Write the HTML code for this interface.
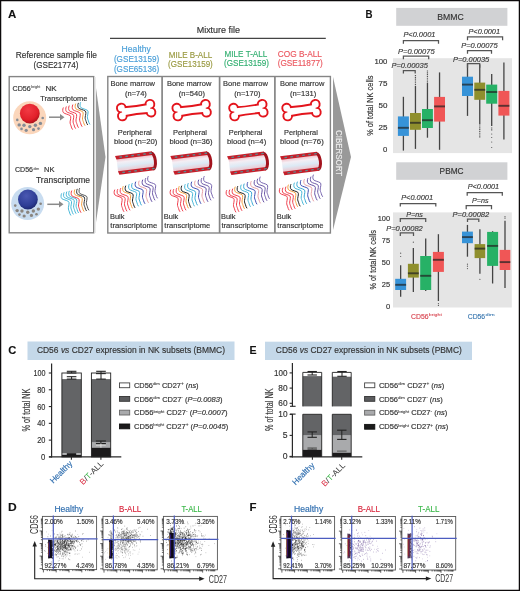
<!DOCTYPE html>
<html><head><meta charset="utf-8"><style>
html,body{margin:0;padding:0;background:#fff;}
svg{display:block;font-family:"Liberation Sans",sans-serif;will-change:transform;}

</style></head><body>
<svg width="520" height="591" viewBox="0 0 520 591">
<defs>
<linearGradient id="vin" x1="0" y1="0" x2="0" y2="1">
<stop offset="0" stop-color="#f2b8c0"/><stop offset="0.3" stop-color="#f4eef4"/><stop offset="0.6" stop-color="#dceaf5"/><stop offset="1" stop-color="#f0c0c8"/></linearGradient>
<radialGradient id="nucR" cx="0.42" cy="0.32" r="0.72"><stop offset="0" stop-color="#f23a44"/><stop offset="0.68" stop-color="#e2202a"/><stop offset="0.9" stop-color="#b8141e"/><stop offset="1" stop-color="#8a0c14"/></radialGradient>
<radialGradient id="nucB" cx="0.42" cy="0.32" r="0.72"><stop offset="0" stop-color="#4a58b2"/><stop offset="0.68" stop-color="#2e3e96"/><stop offset="0.9" stop-color="#222e7a"/><stop offset="1" stop-color="#18205a"/></radialGradient>
</defs>
<rect x="0" y="0" width="520" height="591" fill="#fff"/>
<text x="8.1" y="18.4" font-size="11.4" fill="#111" textLength="8.3" lengthAdjust="spacingAndGlyphs" font-weight="bold" stroke="#111" stroke-width="0.1">A</text>
<text x="196.7" y="33" font-size="8.7" fill="#333" textLength="43.3" lengthAdjust="spacingAndGlyphs" stroke="#333" stroke-width="0.16">Mixture file</text>
<line x1="110" y1="38.4" x2="325.8" y2="38.4" stroke="#444" stroke-width="1.3"/>
<text x="15.7" y="58" font-size="9.3" fill="#333" textLength="81.3" lengthAdjust="spacingAndGlyphs" stroke="#333" stroke-width="0.16">Reference sample file</text>
<text x="33.5" y="68.2" font-size="9.3" fill="#333" textLength="45" lengthAdjust="spacingAndGlyphs" stroke="#333" stroke-width="0.16">(GSE21774)</text>
<text x="121.6" y="51.5" font-size="8.6" fill="#4a9fd8" textLength="29.2" lengthAdjust="spacingAndGlyphs" stroke="#4a9fd8" stroke-width="0.16">Healthy</text>
<text x="113.9" y="61.5" font-size="8.6" fill="#4a9fd8" textLength="45.3" lengthAdjust="spacingAndGlyphs" stroke="#4a9fd8" stroke-width="0.16">(GSE13159)</text>
<text x="113.9" y="71.5" font-size="8.6" fill="#4a9fd8" textLength="45.3" lengthAdjust="spacingAndGlyphs" stroke="#4a9fd8" stroke-width="0.16">(GSE65136)</text>
<text x="168.7" y="58.2" font-size="8.6" fill="#9a9a42" textLength="43.5" lengthAdjust="spacingAndGlyphs" stroke="#9a9a42" stroke-width="0.16">MILE B-ALL</text>
<text x="168.1" y="67" font-size="8.6" fill="#9a9a42" textLength="44.7" lengthAdjust="spacingAndGlyphs" stroke="#9a9a42" stroke-width="0.16">(GSE13159)</text>
<text x="224.6" y="56.8" font-size="8.6" fill="#34b072" textLength="42.7" lengthAdjust="spacingAndGlyphs" stroke="#34b072" stroke-width="0.16">MILE T-ALL</text>
<text x="224" y="65.9" font-size="8.6" fill="#34b072" textLength="45" lengthAdjust="spacingAndGlyphs" stroke="#34b072" stroke-width="0.16">(GSE13159)</text>
<text x="277.7" y="56.9" font-size="8.6" fill="#ec5a62" textLength="44.3" lengthAdjust="spacingAndGlyphs" stroke="#ec5a62" stroke-width="0.16">COG B-ALL</text>
<text x="277.7" y="66.1" font-size="8.6" fill="#ec5a62" textLength="45.1" lengthAdjust="spacingAndGlyphs" stroke="#ec5a62" stroke-width="0.16">(GSE11877)</text>
<rect x="9.2" y="76.6" width="84.5" height="156.2" fill="#fff" stroke="#858585" stroke-width="1.4"/>
<polygon points="94.4,76.6 105.5,157 94.4,233.4" fill="#9b9b9b"/>
<rect x="94.4" y="77" width="1.6" height="156" fill="#ececec"/>
<rect x="107.8" y="76.5" width="222.6" height="156.5" fill="#fff" stroke="#858585" stroke-width="1.4"/>
<line x1="162.1" y1="76.5" x2="162.1" y2="233" stroke="#858585" stroke-width="1.7"/>
<line x1="219.6" y1="76.5" x2="219.6" y2="233" stroke="#858585" stroke-width="1.7"/>
<line x1="274.9" y1="76.5" x2="274.9" y2="233" stroke="#858585" stroke-width="1.7"/>
<polygon points="333,77 351,157 333,230" fill="#999"/>
<text transform="translate(336,130.1) rotate(90)" x="0" y="0" font-size="9.2" fill="#eee" textLength="46" lengthAdjust="spacingAndGlyphs" stroke="#eee" stroke-width="0.16">CIBERSORT</text>
<text x="110.4" y="85.8" font-size="7.9" fill="#333" textLength="44.6" lengthAdjust="spacingAndGlyphs" stroke="#333" stroke-width="0.16">Bone marrow</text>
<text x="125" y="95.6" font-size="7.9" fill="#333" textLength="21.8" lengthAdjust="spacingAndGlyphs" stroke="#333" stroke-width="0.16">(n=74)</text>
<g transform="translate(136.15,110.1) rotate(-7.6) scale(0.95)"><g fill="#e3141c" stroke="#e3141c" stroke-width="4.0" stroke-linejoin="round"><path d="M-15,-3.8 Q0,-2.7 15,-3.8 L15,3.8 Q0,2.7 -15,3.8 Z"/><circle cx="-15.2" cy="-4.2" r="3.6"/><circle cx="-15.2" cy="4.2" r="3.6"/><circle cx="15.2" cy="-4.2" r="3.6"/><circle cx="15.2" cy="4.2" r="3.6"/></g><g fill="#fff"><path d="M-15,-3.8 Q0,-2.7 15,-3.8 L15,3.8 Q0,2.7 -15,3.8 Z"/><circle cx="-15.2" cy="-4.2" r="3.6"/><circle cx="-15.2" cy="4.2" r="3.6"/><circle cx="15.2" cy="-4.2" r="3.6"/><circle cx="15.2" cy="4.2" r="3.6"/></g></g>
<text x="117.7" y="134.8" font-size="7.9" fill="#333" textLength="34" lengthAdjust="spacingAndGlyphs" stroke="#333" stroke-width="0.16">Peripheral</text>
<text x="113.9" y="144" font-size="7.9" fill="#333" textLength="43.4" lengthAdjust="spacingAndGlyphs" stroke="#333" stroke-width="0.16">blood (n=20)</text>
<g transform="translate(136.65,162.9) rotate(-7.2)"><rect x="-19.5" y="-7" width="36.5" height="14" fill="url(#vin)"/><path d="M-20.6,-9.6 L16.4,-9.6 L16.4,-6.0 L-19.6,-6.0 Z" fill="#c41f2a"/><path d="M-19.6,6.0 L16.4,6.0 L16.4,9.6 L-18.6,9.6 Z" fill="#c41f2a"/><path d="M15.6,-8.0 A3.2,8.0 0 0 1 15.6,8.0" fill="none" stroke="#a3131d" stroke-width="3.0"/><rect x="-16.5" y="-8.4" width="2.8" height="1.3" rx="0.6" fill="#5a8a90"/><rect x="-15.5" y="7.1" width="2.8" height="1.3" rx="0.6" fill="#5a8a90"/><rect x="-10.5" y="-8.4" width="2.8" height="1.3" rx="0.6" fill="#5a8a90"/><rect x="-9.5" y="7.1" width="2.8" height="1.3" rx="0.6" fill="#5a8a90"/><rect x="-4.5" y="-8.4" width="2.8" height="1.3" rx="0.6" fill="#5a8a90"/><rect x="-3.5" y="7.1" width="2.8" height="1.3" rx="0.6" fill="#5a8a90"/><rect x="1.5" y="-8.4" width="2.8" height="1.3" rx="0.6" fill="#5a8a90"/><rect x="2.5" y="7.1" width="2.8" height="1.3" rx="0.6" fill="#5a8a90"/><rect x="7.5" y="-8.4" width="2.8" height="1.3" rx="0.6" fill="#5a8a90"/><rect x="8.5" y="7.1" width="2.8" height="1.3" rx="0.6" fill="#5a8a90"/><rect x="13.5" y="-8.4" width="2.8" height="1.3" rx="0.6" fill="#5a8a90"/><rect x="14.5" y="7.1" width="2.8" height="1.3" rx="0.6" fill="#5a8a90"/></g>
<path d="M114.6,190 c -0.8,1.5 -0.6,4 0.3,4.9 c 1.4,1.2 4.7,1.6 6.7,2.9 c 1.2,1 0.2,4 -0.1,6.2 c -0.2,2 0.7,3.2 1,4.3 c 0.3,1.3 0.7,2.4 1.3,3.2" transform="" fill="none" stroke="#f0404e" stroke-width="1.0" stroke-linecap="round"/><path d="M117.6,189.5 c -0.8,1.5 -0.6,4 0.3,4.9 c 1.4,1.2 4.7,1.6 6.7,2.9 c 1.2,1 0.2,4 -0.1,6.2 c -0.2,2 0.7,3.2 1,4.3 c 0.3,1.3 0.7,2.4 1.3,3.2" transform="" fill="none" stroke="#f0404e" stroke-width="1.0" stroke-linecap="round"/><path d="M120.6,188.5 c -0.8,1.5 -0.6,4 0.3,4.9 c 1.4,1.2 4.7,1.6 6.7,2.9 c 1.2,1 0.2,4 -0.1,6.2 c -0.2,2 0.7,3.2 1,4.3 c 0.3,1.3 0.7,2.4 1.3,3.2" transform="" fill="none" stroke="#f0404e" stroke-width="1.0" stroke-linecap="round"/><path d="M123.1,186.5 c -0.8,1.5 -0.6,4 0.3,4.9 c 1.4,1.2 4.7,1.6 6.7,2.9 c 1.2,1 0.2,4 -0.1,6.2 c -0.2,2 0.7,3.2 1,4.3 c 0.3,1.3 0.7,2.4 1.3,3.2" transform="" fill="none" stroke="#f5a040" stroke-width="1.0" stroke-linecap="round"/><path d="M125.6,186 c -0.8,1.5 -0.6,4 0.3,4.9 c 1.4,1.2 4.7,1.6 6.7,2.9 c 1.2,1 0.2,4 -0.1,6.2 c -0.2,2 0.7,3.2 1,4.3 c 0.3,1.3 0.7,2.4 1.3,3.2" transform="" fill="none" stroke="#222" stroke-width="1.0" stroke-linecap="round"/><path d="M129.1,184.5 c -0.8,1.5 -0.6,4 0.3,4.9 c 1.4,1.2 4.7,1.6 6.7,2.9 c 1.2,1 0.2,4 -0.1,6.2 c -0.2,2 0.7,3.2 1,4.3 c 0.3,1.3 0.7,2.4 1.3,3.2" transform="" fill="none" stroke="#48b8d8" stroke-width="1.0" stroke-linecap="round"/><path d="M132.1,183.5 c -0.8,1.5 -0.6,4 0.3,4.9 c 1.4,1.2 4.7,1.6 6.7,2.9 c 1.2,1 0.2,4 -0.1,6.2 c -0.2,2 0.7,3.2 1,4.3 c 0.3,1.3 0.7,2.4 1.3,3.2" transform="" fill="none" stroke="#38a8d4" stroke-width="1.0" stroke-linecap="round"/><path d="M135.6,182 c -0.8,1.5 -0.6,4 0.3,4.9 c 1.4,1.2 4.7,1.6 6.7,2.9 c 1.2,1 0.2,4 -0.1,6.2 c -0.2,2 0.7,3.2 1,4.3 c 0.3,1.3 0.7,2.4 1.3,3.2" transform="" fill="none" stroke="#4050b4" stroke-width="1.0" stroke-linecap="round"/><path d="M139.1,181 c -0.8,1.5 -0.6,4 0.3,4.9 c 1.4,1.2 4.7,1.6 6.7,2.9 c 1.2,1 0.2,4 -0.1,6.2 c -0.2,2 0.7,3.2 1,4.3 c 0.3,1.3 0.7,2.4 1.3,3.2" transform="" fill="none" stroke="#e8a0a6" stroke-width="1.0" stroke-linecap="round"/><path d="M142.6,180 c -0.8,1.5 -0.6,4 0.3,4.9 c 1.4,1.2 4.7,1.6 6.7,2.9 c 1.2,1 0.2,4 -0.1,6.2 c -0.2,2 0.7,3.2 1,4.3 c 0.3,1.3 0.7,2.4 1.3,3.2" transform="" fill="none" stroke="#6450a4" stroke-width="1.0" stroke-linecap="round"/><path d="M145.6,178.5 c -0.8,1.5 -0.6,4 0.3,4.9 c 1.4,1.2 4.7,1.6 6.7,2.9 c 1.2,1 0.2,4 -0.1,6.2 c -0.2,2 0.7,3.2 1,4.3 c 0.3,1.3 0.7,2.4 1.3,3.2" transform="" fill="none" stroke="#6e5aa8" stroke-width="1.0" stroke-linecap="round"/><path d="M148.1,176.5 c -0.8,1.5 -0.6,4 0.3,4.9 c 1.4,1.2 4.7,1.6 6.7,2.9 c 1.2,1 0.2,4 -0.1,6.2 c -0.2,2 0.7,3.2 1,4.3 c 0.3,1.3 0.7,2.4 1.3,3.2" transform="" fill="none" stroke="#7866b0" stroke-width="1.0" stroke-linecap="round"/>
<text x="110" y="218.9" font-size="7.9" fill="#333" textLength="14.5" lengthAdjust="spacingAndGlyphs" stroke="#333" stroke-width="0.16">Bulk</text>
<text x="110.3" y="228.4" font-size="7.9" fill="#333" textLength="46.9" lengthAdjust="spacingAndGlyphs" stroke="#333" stroke-width="0.16">transcriptome</text>
<text x="166.9" y="85.8" font-size="7.9" fill="#333" textLength="44.5" lengthAdjust="spacingAndGlyphs" stroke="#333" stroke-width="0.16">Bone marrow</text>
<text x="178.8" y="95.6" font-size="7.9" fill="#333" textLength="26.1" lengthAdjust="spacingAndGlyphs" stroke="#333" stroke-width="0.16">(n=540)</text>
<g transform="translate(191.65,110.15) rotate(-7.6) scale(0.95)"><g fill="#e3141c" stroke="#e3141c" stroke-width="4.0" stroke-linejoin="round"><path d="M-15,-3.8 Q0,-2.7 15,-3.8 L15,3.8 Q0,2.7 -15,3.8 Z"/><circle cx="-15.2" cy="-4.2" r="3.6"/><circle cx="-15.2" cy="4.2" r="3.6"/><circle cx="15.2" cy="-4.2" r="3.6"/><circle cx="15.2" cy="4.2" r="3.6"/></g><g fill="#fff"><path d="M-15,-3.8 Q0,-2.7 15,-3.8 L15,3.8 Q0,2.7 -15,3.8 Z"/><circle cx="-15.2" cy="-4.2" r="3.6"/><circle cx="-15.2" cy="4.2" r="3.6"/><circle cx="15.2" cy="-4.2" r="3.6"/><circle cx="15.2" cy="4.2" r="3.6"/></g></g>
<text x="172.9" y="134.8" font-size="7.9" fill="#333" textLength="34.1" lengthAdjust="spacingAndGlyphs" stroke="#333" stroke-width="0.16">Peripheral</text>
<text x="169.4" y="144" font-size="7.9" fill="#333" textLength="43.2" lengthAdjust="spacingAndGlyphs" stroke="#333" stroke-width="0.16">blood (n=36)</text>
<g transform="translate(192,162.9) rotate(-7.2)"><rect x="-19.5" y="-7" width="36.5" height="14" fill="url(#vin)"/><path d="M-20.6,-9.6 L16.4,-9.6 L16.4,-6.0 L-19.6,-6.0 Z" fill="#c41f2a"/><path d="M-19.6,6.0 L16.4,6.0 L16.4,9.6 L-18.6,9.6 Z" fill="#c41f2a"/><path d="M15.6,-8.0 A3.2,8.0 0 0 1 15.6,8.0" fill="none" stroke="#a3131d" stroke-width="3.0"/><rect x="-16.5" y="-8.4" width="2.8" height="1.3" rx="0.6" fill="#5a8a90"/><rect x="-15.5" y="7.1" width="2.8" height="1.3" rx="0.6" fill="#5a8a90"/><rect x="-10.5" y="-8.4" width="2.8" height="1.3" rx="0.6" fill="#5a8a90"/><rect x="-9.5" y="7.1" width="2.8" height="1.3" rx="0.6" fill="#5a8a90"/><rect x="-4.5" y="-8.4" width="2.8" height="1.3" rx="0.6" fill="#5a8a90"/><rect x="-3.5" y="7.1" width="2.8" height="1.3" rx="0.6" fill="#5a8a90"/><rect x="1.5" y="-8.4" width="2.8" height="1.3" rx="0.6" fill="#5a8a90"/><rect x="2.5" y="7.1" width="2.8" height="1.3" rx="0.6" fill="#5a8a90"/><rect x="7.5" y="-8.4" width="2.8" height="1.3" rx="0.6" fill="#5a8a90"/><rect x="8.5" y="7.1" width="2.8" height="1.3" rx="0.6" fill="#5a8a90"/><rect x="13.5" y="-8.4" width="2.8" height="1.3" rx="0.6" fill="#5a8a90"/><rect x="14.5" y="7.1" width="2.8" height="1.3" rx="0.6" fill="#5a8a90"/></g>
<path d="M170.6,190 c -0.8,1.5 -0.6,4 0.3,4.9 c 1.4,1.2 4.7,1.6 6.7,2.9 c 1.2,1 0.2,4 -0.1,6.2 c -0.2,2 0.7,3.2 1,4.3 c 0.3,1.3 0.7,2.4 1.3,3.2" transform="" fill="none" stroke="#f0404e" stroke-width="1.0" stroke-linecap="round"/><path d="M173.6,189.5 c -0.8,1.5 -0.6,4 0.3,4.9 c 1.4,1.2 4.7,1.6 6.7,2.9 c 1.2,1 0.2,4 -0.1,6.2 c -0.2,2 0.7,3.2 1,4.3 c 0.3,1.3 0.7,2.4 1.3,3.2" transform="" fill="none" stroke="#f0404e" stroke-width="1.0" stroke-linecap="round"/><path d="M176.6,188.5 c -0.8,1.5 -0.6,4 0.3,4.9 c 1.4,1.2 4.7,1.6 6.7,2.9 c 1.2,1 0.2,4 -0.1,6.2 c -0.2,2 0.7,3.2 1,4.3 c 0.3,1.3 0.7,2.4 1.3,3.2" transform="" fill="none" stroke="#f0404e" stroke-width="1.0" stroke-linecap="round"/><path d="M179.1,186.5 c -0.8,1.5 -0.6,4 0.3,4.9 c 1.4,1.2 4.7,1.6 6.7,2.9 c 1.2,1 0.2,4 -0.1,6.2 c -0.2,2 0.7,3.2 1,4.3 c 0.3,1.3 0.7,2.4 1.3,3.2" transform="" fill="none" stroke="#f5a040" stroke-width="1.0" stroke-linecap="round"/><path d="M181.6,186 c -0.8,1.5 -0.6,4 0.3,4.9 c 1.4,1.2 4.7,1.6 6.7,2.9 c 1.2,1 0.2,4 -0.1,6.2 c -0.2,2 0.7,3.2 1,4.3 c 0.3,1.3 0.7,2.4 1.3,3.2" transform="" fill="none" stroke="#222" stroke-width="1.0" stroke-linecap="round"/><path d="M185.1,184.5 c -0.8,1.5 -0.6,4 0.3,4.9 c 1.4,1.2 4.7,1.6 6.7,2.9 c 1.2,1 0.2,4 -0.1,6.2 c -0.2,2 0.7,3.2 1,4.3 c 0.3,1.3 0.7,2.4 1.3,3.2" transform="" fill="none" stroke="#48b8d8" stroke-width="1.0" stroke-linecap="round"/><path d="M188.1,183.5 c -0.8,1.5 -0.6,4 0.3,4.9 c 1.4,1.2 4.7,1.6 6.7,2.9 c 1.2,1 0.2,4 -0.1,6.2 c -0.2,2 0.7,3.2 1,4.3 c 0.3,1.3 0.7,2.4 1.3,3.2" transform="" fill="none" stroke="#38a8d4" stroke-width="1.0" stroke-linecap="round"/><path d="M191.6,182 c -0.8,1.5 -0.6,4 0.3,4.9 c 1.4,1.2 4.7,1.6 6.7,2.9 c 1.2,1 0.2,4 -0.1,6.2 c -0.2,2 0.7,3.2 1,4.3 c 0.3,1.3 0.7,2.4 1.3,3.2" transform="" fill="none" stroke="#4050b4" stroke-width="1.0" stroke-linecap="round"/><path d="M195.1,181 c -0.8,1.5 -0.6,4 0.3,4.9 c 1.4,1.2 4.7,1.6 6.7,2.9 c 1.2,1 0.2,4 -0.1,6.2 c -0.2,2 0.7,3.2 1,4.3 c 0.3,1.3 0.7,2.4 1.3,3.2" transform="" fill="none" stroke="#e8a0a6" stroke-width="1.0" stroke-linecap="round"/><path d="M198.6,180 c -0.8,1.5 -0.6,4 0.3,4.9 c 1.4,1.2 4.7,1.6 6.7,2.9 c 1.2,1 0.2,4 -0.1,6.2 c -0.2,2 0.7,3.2 1,4.3 c 0.3,1.3 0.7,2.4 1.3,3.2" transform="" fill="none" stroke="#6450a4" stroke-width="1.0" stroke-linecap="round"/><path d="M201.6,178.5 c -0.8,1.5 -0.6,4 0.3,4.9 c 1.4,1.2 4.7,1.6 6.7,2.9 c 1.2,1 0.2,4 -0.1,6.2 c -0.2,2 0.7,3.2 1,4.3 c 0.3,1.3 0.7,2.4 1.3,3.2" transform="" fill="none" stroke="#6e5aa8" stroke-width="1.0" stroke-linecap="round"/><path d="M204.1,176.5 c -0.8,1.5 -0.6,4 0.3,4.9 c 1.4,1.2 4.7,1.6 6.7,2.9 c 1.2,1 0.2,4 -0.1,6.2 c -0.2,2 0.7,3.2 1,4.3 c 0.3,1.3 0.7,2.4 1.3,3.2" transform="" fill="none" stroke="#7866b0" stroke-width="1.0" stroke-linecap="round"/>
<text x="163.8" y="218.9" font-size="7.9" fill="#333" textLength="14.5" lengthAdjust="spacingAndGlyphs" stroke="#333" stroke-width="0.16">Bulk</text>
<text x="164.3" y="228.4" font-size="7.9" fill="#333" textLength="46" lengthAdjust="spacingAndGlyphs" stroke="#333" stroke-width="0.16">transcriptome</text>
<text x="223" y="85.8" font-size="7.9" fill="#333" textLength="44.9" lengthAdjust="spacingAndGlyphs" stroke="#333" stroke-width="0.16">Bone marrow</text>
<text x="234.3" y="95.6" font-size="7.9" fill="#333" textLength="26.1" lengthAdjust="spacingAndGlyphs" stroke="#333" stroke-width="0.16">(n=170)</text>
<g transform="translate(248.4,110.15) rotate(-7.6) scale(0.95)"><g fill="#e3141c" stroke="#e3141c" stroke-width="4.0" stroke-linejoin="round"><path d="M-15,-3.8 Q0,-2.7 15,-3.8 L15,3.8 Q0,2.7 -15,3.8 Z"/><circle cx="-15.2" cy="-4.2" r="3.6"/><circle cx="-15.2" cy="4.2" r="3.6"/><circle cx="15.2" cy="-4.2" r="3.6"/><circle cx="15.2" cy="4.2" r="3.6"/></g><g fill="#fff"><path d="M-15,-3.8 Q0,-2.7 15,-3.8 L15,3.8 Q0,2.7 -15,3.8 Z"/><circle cx="-15.2" cy="-4.2" r="3.6"/><circle cx="-15.2" cy="4.2" r="3.6"/><circle cx="15.2" cy="-4.2" r="3.6"/><circle cx="15.2" cy="4.2" r="3.6"/></g></g>
<text x="228.7" y="134.8" font-size="7.9" fill="#333" textLength="33.8" lengthAdjust="spacingAndGlyphs" stroke="#333" stroke-width="0.16">Peripheral</text>
<text x="227" y="144" font-size="7.9" fill="#333" textLength="39.2" lengthAdjust="spacingAndGlyphs" stroke="#333" stroke-width="0.16">blood (n=4)</text>
<g transform="translate(248.7,163.1) rotate(-7.2)"><rect x="-19.5" y="-7" width="36.5" height="14" fill="url(#vin)"/><path d="M-20.6,-9.6 L16.4,-9.6 L16.4,-6.0 L-19.6,-6.0 Z" fill="#c41f2a"/><path d="M-19.6,6.0 L16.4,6.0 L16.4,9.6 L-18.6,9.6 Z" fill="#c41f2a"/><path d="M15.6,-8.0 A3.2,8.0 0 0 1 15.6,8.0" fill="none" stroke="#a3131d" stroke-width="3.0"/><rect x="-16.5" y="-8.4" width="2.8" height="1.3" rx="0.6" fill="#5a8a90"/><rect x="-15.5" y="7.1" width="2.8" height="1.3" rx="0.6" fill="#5a8a90"/><rect x="-10.5" y="-8.4" width="2.8" height="1.3" rx="0.6" fill="#5a8a90"/><rect x="-9.5" y="7.1" width="2.8" height="1.3" rx="0.6" fill="#5a8a90"/><rect x="-4.5" y="-8.4" width="2.8" height="1.3" rx="0.6" fill="#5a8a90"/><rect x="-3.5" y="7.1" width="2.8" height="1.3" rx="0.6" fill="#5a8a90"/><rect x="1.5" y="-8.4" width="2.8" height="1.3" rx="0.6" fill="#5a8a90"/><rect x="2.5" y="7.1" width="2.8" height="1.3" rx="0.6" fill="#5a8a90"/><rect x="7.5" y="-8.4" width="2.8" height="1.3" rx="0.6" fill="#5a8a90"/><rect x="8.5" y="7.1" width="2.8" height="1.3" rx="0.6" fill="#5a8a90"/><rect x="13.5" y="-8.4" width="2.8" height="1.3" rx="0.6" fill="#5a8a90"/><rect x="14.5" y="7.1" width="2.8" height="1.3" rx="0.6" fill="#5a8a90"/></g>
<path d="M226.6,190.5 c -0.8,1.5 -0.6,4 0.3,4.9 c 1.4,1.2 4.7,1.6 6.7,2.9 c 1.2,1 0.2,4 -0.1,6.2 c -0.2,2 0.7,3.2 1,4.3 c 0.3,1.3 0.7,2.4 1.3,3.2" transform="" fill="none" stroke="#f0404e" stroke-width="1.0" stroke-linecap="round"/><path d="M229.6,190 c -0.8,1.5 -0.6,4 0.3,4.9 c 1.4,1.2 4.7,1.6 6.7,2.9 c 1.2,1 0.2,4 -0.1,6.2 c -0.2,2 0.7,3.2 1,4.3 c 0.3,1.3 0.7,2.4 1.3,3.2" transform="" fill="none" stroke="#f0404e" stroke-width="1.0" stroke-linecap="round"/><path d="M232.6,189 c -0.8,1.5 -0.6,4 0.3,4.9 c 1.4,1.2 4.7,1.6 6.7,2.9 c 1.2,1 0.2,4 -0.1,6.2 c -0.2,2 0.7,3.2 1,4.3 c 0.3,1.3 0.7,2.4 1.3,3.2" transform="" fill="none" stroke="#f0404e" stroke-width="1.0" stroke-linecap="round"/><path d="M235.1,187 c -0.8,1.5 -0.6,4 0.3,4.9 c 1.4,1.2 4.7,1.6 6.7,2.9 c 1.2,1 0.2,4 -0.1,6.2 c -0.2,2 0.7,3.2 1,4.3 c 0.3,1.3 0.7,2.4 1.3,3.2" transform="" fill="none" stroke="#f5a040" stroke-width="1.0" stroke-linecap="round"/><path d="M237.6,186.5 c -0.8,1.5 -0.6,4 0.3,4.9 c 1.4,1.2 4.7,1.6 6.7,2.9 c 1.2,1 0.2,4 -0.1,6.2 c -0.2,2 0.7,3.2 1,4.3 c 0.3,1.3 0.7,2.4 1.3,3.2" transform="" fill="none" stroke="#222" stroke-width="1.0" stroke-linecap="round"/><path d="M241.1,185 c -0.8,1.5 -0.6,4 0.3,4.9 c 1.4,1.2 4.7,1.6 6.7,2.9 c 1.2,1 0.2,4 -0.1,6.2 c -0.2,2 0.7,3.2 1,4.3 c 0.3,1.3 0.7,2.4 1.3,3.2" transform="" fill="none" stroke="#48b8d8" stroke-width="1.0" stroke-linecap="round"/><path d="M244.1,184 c -0.8,1.5 -0.6,4 0.3,4.9 c 1.4,1.2 4.7,1.6 6.7,2.9 c 1.2,1 0.2,4 -0.1,6.2 c -0.2,2 0.7,3.2 1,4.3 c 0.3,1.3 0.7,2.4 1.3,3.2" transform="" fill="none" stroke="#38a8d4" stroke-width="1.0" stroke-linecap="round"/><path d="M247.6,182.5 c -0.8,1.5 -0.6,4 0.3,4.9 c 1.4,1.2 4.7,1.6 6.7,2.9 c 1.2,1 0.2,4 -0.1,6.2 c -0.2,2 0.7,3.2 1,4.3 c 0.3,1.3 0.7,2.4 1.3,3.2" transform="" fill="none" stroke="#4050b4" stroke-width="1.0" stroke-linecap="round"/><path d="M251.1,181.5 c -0.8,1.5 -0.6,4 0.3,4.9 c 1.4,1.2 4.7,1.6 6.7,2.9 c 1.2,1 0.2,4 -0.1,6.2 c -0.2,2 0.7,3.2 1,4.3 c 0.3,1.3 0.7,2.4 1.3,3.2" transform="" fill="none" stroke="#e8a0a6" stroke-width="1.0" stroke-linecap="round"/><path d="M254.6,180.5 c -0.8,1.5 -0.6,4 0.3,4.9 c 1.4,1.2 4.7,1.6 6.7,2.9 c 1.2,1 0.2,4 -0.1,6.2 c -0.2,2 0.7,3.2 1,4.3 c 0.3,1.3 0.7,2.4 1.3,3.2" transform="" fill="none" stroke="#6450a4" stroke-width="1.0" stroke-linecap="round"/><path d="M257.6,179 c -0.8,1.5 -0.6,4 0.3,4.9 c 1.4,1.2 4.7,1.6 6.7,2.9 c 1.2,1 0.2,4 -0.1,6.2 c -0.2,2 0.7,3.2 1,4.3 c 0.3,1.3 0.7,2.4 1.3,3.2" transform="" fill="none" stroke="#6e5aa8" stroke-width="1.0" stroke-linecap="round"/><path d="M260.1,177 c -0.8,1.5 -0.6,4 0.3,4.9 c 1.4,1.2 4.7,1.6 6.7,2.9 c 1.2,1 0.2,4 -0.1,6.2 c -0.2,2 0.7,3.2 1,4.3 c 0.3,1.3 0.7,2.4 1.3,3.2" transform="" fill="none" stroke="#7866b0" stroke-width="1.0" stroke-linecap="round"/>
<text x="221" y="218.9" font-size="7.9" fill="#333" textLength="14.5" lengthAdjust="spacingAndGlyphs" stroke="#333" stroke-width="0.16">Bulk</text>
<text x="221.4" y="228.4" font-size="7.9" fill="#333" textLength="46.6" lengthAdjust="spacingAndGlyphs" stroke="#333" stroke-width="0.16">transcriptome</text>
<text x="279.9" y="85.8" font-size="7.9" fill="#333" textLength="44.5" lengthAdjust="spacingAndGlyphs" stroke="#333" stroke-width="0.16">Bone marrow</text>
<text x="289.9" y="95.6" font-size="7.9" fill="#333" textLength="26.3" lengthAdjust="spacingAndGlyphs" stroke="#333" stroke-width="0.16">(n=131)</text>
<g transform="translate(301.5,110.15) rotate(-7.6) scale(0.95)"><g fill="#e3141c" stroke="#e3141c" stroke-width="4.0" stroke-linejoin="round"><path d="M-15,-3.8 Q0,-2.7 15,-3.8 L15,3.8 Q0,2.7 -15,3.8 Z"/><circle cx="-15.2" cy="-4.2" r="3.6"/><circle cx="-15.2" cy="4.2" r="3.6"/><circle cx="15.2" cy="-4.2" r="3.6"/><circle cx="15.2" cy="4.2" r="3.6"/></g><g fill="#fff"><path d="M-15,-3.8 Q0,-2.7 15,-3.8 L15,3.8 Q0,2.7 -15,3.8 Z"/><circle cx="-15.2" cy="-4.2" r="3.6"/><circle cx="-15.2" cy="4.2" r="3.6"/><circle cx="15.2" cy="-4.2" r="3.6"/><circle cx="15.2" cy="4.2" r="3.6"/></g></g>
<text x="284" y="134.8" font-size="7.9" fill="#333" textLength="33.9" lengthAdjust="spacingAndGlyphs" stroke="#333" stroke-width="0.16">Peripheral</text>
<text x="279.9" y="144" font-size="7.9" fill="#333" textLength="43.9" lengthAdjust="spacingAndGlyphs" stroke="#333" stroke-width="0.16">blood (n=76)</text>
<g transform="translate(301.7,163.3) rotate(-7.2)"><rect x="-19.5" y="-7" width="36.5" height="14" fill="url(#vin)"/><path d="M-20.6,-9.6 L16.4,-9.6 L16.4,-6.0 L-19.6,-6.0 Z" fill="#c41f2a"/><path d="M-19.6,6.0 L16.4,6.0 L16.4,9.6 L-18.6,9.6 Z" fill="#c41f2a"/><path d="M15.6,-8.0 A3.2,8.0 0 0 1 15.6,8.0" fill="none" stroke="#a3131d" stroke-width="3.0"/><rect x="-16.5" y="-8.4" width="2.8" height="1.3" rx="0.6" fill="#5a8a90"/><rect x="-15.5" y="7.1" width="2.8" height="1.3" rx="0.6" fill="#5a8a90"/><rect x="-10.5" y="-8.4" width="2.8" height="1.3" rx="0.6" fill="#5a8a90"/><rect x="-9.5" y="7.1" width="2.8" height="1.3" rx="0.6" fill="#5a8a90"/><rect x="-4.5" y="-8.4" width="2.8" height="1.3" rx="0.6" fill="#5a8a90"/><rect x="-3.5" y="7.1" width="2.8" height="1.3" rx="0.6" fill="#5a8a90"/><rect x="1.5" y="-8.4" width="2.8" height="1.3" rx="0.6" fill="#5a8a90"/><rect x="2.5" y="7.1" width="2.8" height="1.3" rx="0.6" fill="#5a8a90"/><rect x="7.5" y="-8.4" width="2.8" height="1.3" rx="0.6" fill="#5a8a90"/><rect x="8.5" y="7.1" width="2.8" height="1.3" rx="0.6" fill="#5a8a90"/><rect x="13.5" y="-8.4" width="2.8" height="1.3" rx="0.6" fill="#5a8a90"/><rect x="14.5" y="7.1" width="2.8" height="1.3" rx="0.6" fill="#5a8a90"/></g>
<path d="M279.8,188.5 c -0.8,1.5 -0.6,4 0.3,4.9 c 1.4,1.2 4.7,1.6 6.7,2.9 c 1.2,1 0.2,4 -0.1,6.2 c -0.2,2 0.7,3.2 1,4.3 c 0.3,1.3 0.7,2.4 1.3,3.2" transform="" fill="none" stroke="#f0404e" stroke-width="1.0" stroke-linecap="round"/><path d="M282.8,188 c -0.8,1.5 -0.6,4 0.3,4.9 c 1.4,1.2 4.7,1.6 6.7,2.9 c 1.2,1 0.2,4 -0.1,6.2 c -0.2,2 0.7,3.2 1,4.3 c 0.3,1.3 0.7,2.4 1.3,3.2" transform="" fill="none" stroke="#f0404e" stroke-width="1.0" stroke-linecap="round"/><path d="M285.8,187 c -0.8,1.5 -0.6,4 0.3,4.9 c 1.4,1.2 4.7,1.6 6.7,2.9 c 1.2,1 0.2,4 -0.1,6.2 c -0.2,2 0.7,3.2 1,4.3 c 0.3,1.3 0.7,2.4 1.3,3.2" transform="" fill="none" stroke="#f0404e" stroke-width="1.0" stroke-linecap="round"/><path d="M288.3,185 c -0.8,1.5 -0.6,4 0.3,4.9 c 1.4,1.2 4.7,1.6 6.7,2.9 c 1.2,1 0.2,4 -0.1,6.2 c -0.2,2 0.7,3.2 1,4.3 c 0.3,1.3 0.7,2.4 1.3,3.2" transform="" fill="none" stroke="#f5a040" stroke-width="1.0" stroke-linecap="round"/><path d="M290.8,184.5 c -0.8,1.5 -0.6,4 0.3,4.9 c 1.4,1.2 4.7,1.6 6.7,2.9 c 1.2,1 0.2,4 -0.1,6.2 c -0.2,2 0.7,3.2 1,4.3 c 0.3,1.3 0.7,2.4 1.3,3.2" transform="" fill="none" stroke="#222" stroke-width="1.0" stroke-linecap="round"/><path d="M294.3,183 c -0.8,1.5 -0.6,4 0.3,4.9 c 1.4,1.2 4.7,1.6 6.7,2.9 c 1.2,1 0.2,4 -0.1,6.2 c -0.2,2 0.7,3.2 1,4.3 c 0.3,1.3 0.7,2.4 1.3,3.2" transform="" fill="none" stroke="#48b8d8" stroke-width="1.0" stroke-linecap="round"/><path d="M297.3,182 c -0.8,1.5 -0.6,4 0.3,4.9 c 1.4,1.2 4.7,1.6 6.7,2.9 c 1.2,1 0.2,4 -0.1,6.2 c -0.2,2 0.7,3.2 1,4.3 c 0.3,1.3 0.7,2.4 1.3,3.2" transform="" fill="none" stroke="#38a8d4" stroke-width="1.0" stroke-linecap="round"/><path d="M300.8,180.5 c -0.8,1.5 -0.6,4 0.3,4.9 c 1.4,1.2 4.7,1.6 6.7,2.9 c 1.2,1 0.2,4 -0.1,6.2 c -0.2,2 0.7,3.2 1,4.3 c 0.3,1.3 0.7,2.4 1.3,3.2" transform="" fill="none" stroke="#4050b4" stroke-width="1.0" stroke-linecap="round"/><path d="M304.3,179.5 c -0.8,1.5 -0.6,4 0.3,4.9 c 1.4,1.2 4.7,1.6 6.7,2.9 c 1.2,1 0.2,4 -0.1,6.2 c -0.2,2 0.7,3.2 1,4.3 c 0.3,1.3 0.7,2.4 1.3,3.2" transform="" fill="none" stroke="#e8a0a6" stroke-width="1.0" stroke-linecap="round"/><path d="M307.8,178.5 c -0.8,1.5 -0.6,4 0.3,4.9 c 1.4,1.2 4.7,1.6 6.7,2.9 c 1.2,1 0.2,4 -0.1,6.2 c -0.2,2 0.7,3.2 1,4.3 c 0.3,1.3 0.7,2.4 1.3,3.2" transform="" fill="none" stroke="#6450a4" stroke-width="1.0" stroke-linecap="round"/><path d="M310.8,177 c -0.8,1.5 -0.6,4 0.3,4.9 c 1.4,1.2 4.7,1.6 6.7,2.9 c 1.2,1 0.2,4 -0.1,6.2 c -0.2,2 0.7,3.2 1,4.3 c 0.3,1.3 0.7,2.4 1.3,3.2" transform="" fill="none" stroke="#6e5aa8" stroke-width="1.0" stroke-linecap="round"/><path d="M313.3,175 c -0.8,1.5 -0.6,4 0.3,4.9 c 1.4,1.2 4.7,1.6 6.7,2.9 c 1.2,1 0.2,4 -0.1,6.2 c -0.2,2 0.7,3.2 1,4.3 c 0.3,1.3 0.7,2.4 1.3,3.2" transform="" fill="none" stroke="#7866b0" stroke-width="1.0" stroke-linecap="round"/>
<text x="276.8" y="218.9" font-size="7.9" fill="#333" textLength="14.5" lengthAdjust="spacingAndGlyphs" stroke="#333" stroke-width="0.16">Bulk</text>
<text x="277.3" y="228.4" font-size="7.9" fill="#333" textLength="46.3" lengthAdjust="spacingAndGlyphs" stroke="#333" stroke-width="0.16">transcriptome</text>
<text x="12.5" y="90.7" font-size="7.4" fill="#333" textLength="18.3" lengthAdjust="spacingAndGlyphs" stroke="#333" stroke-width="0.16">CD56</text>
<text x="31.2" y="88" font-size="4" fill="#444" textLength="9.2" lengthAdjust="spacingAndGlyphs" stroke="#444" stroke-width="0.08">bright</text>
<text x="45.4" y="90.7" font-size="7.4" fill="#333" textLength="11.1" lengthAdjust="spacingAndGlyphs" stroke="#333" stroke-width="0.16">NK</text>
<text x="40.3" y="100.7" font-size="7.4" fill="#333" textLength="47.1" lengthAdjust="spacingAndGlyphs" stroke="#333" stroke-width="0.16">Transcriptome</text>
<circle cx="29.7" cy="117.8" r="16.5" fill="#fbd6bb"/><circle cx="29.8" cy="113.6" r="9.9" fill="url(#nucR)"/><circle cx="17.3" cy="119.9" r="1.3" fill="#858c95"/><circle cx="19.2" cy="124.9" r="1.7" fill="#858c95"/><circle cx="24" cy="125.3" r="1.7" fill="#858c95"/><circle cx="29.8" cy="126.6" r="1.7" fill="#858c95"/><circle cx="35.4" cy="125.3" r="1.7" fill="#858c95"/><circle cx="40.4" cy="123.4" r="1.7" fill="#858c95"/><circle cx="42.7" cy="118" r="1.3" fill="#858c95"/><circle cx="21.5" cy="128.9" r="1.3" fill="#858c95"/><circle cx="26.2" cy="130.3" r="1.6" fill="#858c95"/><circle cx="33.5" cy="129.7" r="1.6" fill="#858c95"/><circle cx="38.5" cy="128.6" r="1.3" fill="#858c95"/>
<line x1="49" y1="117.2" x2="60.5" y2="117.2" stroke="#8a8a8a" stroke-width="1.5"/><polygon points="64.5,117.2 60,114 60,120.4" fill="#8a8a8a"/>
<path d="M63.2,107.8 c -0.8,1.5 -0.6,4 0.3,4.9 c 1.4,1.2 4.7,1.6 6.7,2.9 c 1.2,1 0.2,4 -0.1,6.2 c -0.2,2 0.7,3.2 1,4.3 c 0.3,1.3 0.7,2.4 1.3,3.2" transform="" fill="none" stroke="#f0404e" stroke-width="1.0" stroke-linecap="round"/>
<path d="M66.2,106.8 c -0.8,1.5 -0.6,4 0.3,4.9 c 1.4,1.2 4.7,1.6 6.7,2.9 c 1.2,1 0.2,4 -0.1,6.2 c -0.2,2 0.7,3.2 1,4.3 c 0.3,1.3 0.7,2.4 1.3,3.2" transform="" fill="none" stroke="#f0404e" stroke-width="1.0" stroke-linecap="round"/>
<path d="M69.1,105.9 c -0.8,1.5 -0.6,4 0.3,4.9 c 1.4,1.2 4.7,1.6 6.7,2.9 c 1.2,1 0.2,4 -0.1,6.2 c -0.2,2 0.7,3.2 1,4.3 c 0.3,1.3 0.7,2.4 1.3,3.2" transform="" fill="none" stroke="#f0404e" stroke-width="1.0" stroke-linecap="round"/>
<path d="M72.7,104.9 c -0.8,1.5 -0.6,4 0.3,4.9 c 1.4,1.2 4.7,1.6 6.7,2.9 c 1.2,1 0.2,4 -0.1,6.2 c -0.2,2 0.7,3.2 1,4.3 c 0.3,1.3 0.7,2.4 1.3,3.2" transform="" fill="none" stroke="#f0404e" stroke-width="1.0" stroke-linecap="round"/>
<path d="M75.6,103.9 c -0.8,1.5 -0.6,4 0.3,4.9 c 1.4,1.2 4.7,1.6 6.7,2.9 c 1.2,1 0.2,4 -0.1,6.2 c -0.2,2 0.7,3.2 1,4.3 c 0.3,1.3 0.7,2.4 1.3,3.2" transform="" fill="none" stroke="#f5a040" stroke-width="1.0" stroke-linecap="round"/>
<path d="M78.3,103.2 c -0.8,1.5 -0.6,4 0.3,4.9 c 1.4,1.2 4.7,1.6 6.7,2.9 c 1.2,1 0.2,4 -0.1,6.2 c -0.2,2 0.7,3.2 1,4.3 c 0.3,1.3 0.7,2.4 1.3,3.2" transform="" fill="none" stroke="#333" stroke-width="1.0" stroke-linecap="round"/>
<path d="M80.5,102.6 c -0.8,1.5 -0.6,4 0.3,4.9 c 1.4,1.2 4.7,1.6 6.7,2.9 c 1.2,1 0.2,4 -0.1,6.2 c -0.2,2 0.7,3.2 1,4.3 c 0.3,1.3 0.7,2.4 1.3,3.2" transform="" fill="none" stroke="#48b8d8" stroke-width="1.0" stroke-linecap="round"/>
<text x="15" y="172.2" font-size="7.4" fill="#333" textLength="18" lengthAdjust="spacingAndGlyphs" stroke="#333" stroke-width="0.16">CD56</text>
<text x="33.4" y="169.5" font-size="4" fill="#444" textLength="5.8" lengthAdjust="spacingAndGlyphs" stroke="#444" stroke-width="0.08">dim</text>
<text x="44" y="172.2" font-size="7.4" fill="#333" textLength="10.5" lengthAdjust="spacingAndGlyphs" stroke="#333" stroke-width="0.16">NK</text>
<text x="36" y="182.5" font-size="8.2" fill="#333" textLength="54" lengthAdjust="spacingAndGlyphs" stroke="#333" stroke-width="0.16">Transcriptome</text>
<circle cx="27.65" cy="203.5" r="16.5" fill="#c8dcf0"/><circle cx="27.9" cy="199.5" r="9.9" fill="url(#nucB)"/><circle cx="15.25" cy="205.6" r="1.3" fill="#8a8580"/><circle cx="17.15" cy="210.6" r="1.7" fill="#8a8580"/><circle cx="21.95" cy="211" r="1.7" fill="#8a8580"/><circle cx="27.75" cy="212.3" r="1.7" fill="#8a8580"/><circle cx="33.35" cy="211" r="1.7" fill="#8a8580"/><circle cx="38.35" cy="209.1" r="1.7" fill="#8a8580"/><circle cx="40.65" cy="203.7" r="1.3" fill="#8a8580"/><circle cx="19.45" cy="214.6" r="1.3" fill="#8a8580"/><circle cx="24.15" cy="216" r="1.6" fill="#8a8580"/><circle cx="31.45" cy="215.4" r="1.6" fill="#8a8580"/><circle cx="36.45" cy="214.3" r="1.3" fill="#8a8580"/>
<line x1="47.3" y1="204.3" x2="59.5" y2="204.3" stroke="#8a8a8a" stroke-width="1.5"/><polygon points="63.5,204.3 59,201.1 59,207.5" fill="#8a8a8a"/>
<path d="M61.5,193.7 c -0.8,1.5 -0.6,4 0.3,4.9 c 1.4,1.2 4.7,1.6 6.7,2.9 c 1.2,1 0.2,4 -0.1,6.2 c -0.2,2 0.7,3.2 1,4.3 c 0.3,1.3 0.7,2.4 1.3,3.2" transform="" fill="none" stroke="#48b8d8" stroke-width="1.0" stroke-linecap="round"/>
<path d="M64,192.6 c -0.8,1.5 -0.6,4 0.3,4.9 c 1.4,1.2 4.7,1.6 6.7,2.9 c 1.2,1 0.2,4 -0.1,6.2 c -0.2,2 0.7,3.2 1,4.3 c 0.3,1.3 0.7,2.4 1.3,3.2" transform="" fill="none" stroke="#48b8d8" stroke-width="1.0" stroke-linecap="round"/>
<path d="M66.7,191.9 c -0.8,1.5 -0.6,4 0.3,4.9 c 1.4,1.2 4.7,1.6 6.7,2.9 c 1.2,1 0.2,4 -0.1,6.2 c -0.2,2 0.7,3.2 1,4.3 c 0.3,1.3 0.7,2.4 1.3,3.2" transform="" fill="none" stroke="#48b8d8" stroke-width="1.0" stroke-linecap="round"/>
<path d="M69.2,191.2 c -0.8,1.5 -0.6,4 0.3,4.9 c 1.4,1.2 4.7,1.6 6.7,2.9 c 1.2,1 0.2,4 -0.1,6.2 c -0.2,2 0.7,3.2 1,4.3 c 0.3,1.3 0.7,2.4 1.3,3.2" transform="" fill="none" stroke="#48b8d8" stroke-width="1.0" stroke-linecap="round"/>
<path d="M71.6,190.9 c -0.8,1.5 -0.6,4 0.3,4.9 c 1.4,1.2 4.7,1.6 6.7,2.9 c 1.2,1 0.2,4 -0.1,6.2 c -0.2,2 0.7,3.2 1,4.3 c 0.3,1.3 0.7,2.4 1.3,3.2" transform="" fill="none" stroke="#f0404e" stroke-width="1.0" stroke-linecap="round"/>
<path d="M74.7,189.8 c -0.8,1.5 -0.6,4 0.3,4.9 c 1.4,1.2 4.7,1.6 6.7,2.9 c 1.2,1 0.2,4 -0.1,6.2 c -0.2,2 0.7,3.2 1,4.3 c 0.3,1.3 0.7,2.4 1.3,3.2" transform="" fill="none" stroke="#f5a040" stroke-width="1.0" stroke-linecap="round"/>
<path d="M77.1,189.2 c -0.8,1.5 -0.6,4 0.3,4.9 c 1.4,1.2 4.7,1.6 6.7,2.9 c 1.2,1 0.2,4 -0.1,6.2 c -0.2,2 0.7,3.2 1,4.3 c 0.3,1.3 0.7,2.4 1.3,3.2" transform="" fill="none" stroke="#333" stroke-width="1.0" stroke-linecap="round"/>
<path d="M79.5,188.5 c -0.8,1.5 -0.6,4 0.3,4.9 c 1.4,1.2 4.7,1.6 6.7,2.9 c 1.2,1 0.2,4 -0.1,6.2 c -0.2,2 0.7,3.2 1,4.3 c 0.3,1.3 0.7,2.4 1.3,3.2" transform="" fill="none" stroke="#555" stroke-width="1.0" stroke-linecap="round"/>
<text x="365.4" y="18.3" font-size="11.2" fill="#111" textLength="7" lengthAdjust="spacingAndGlyphs" font-weight="bold" stroke="#111" stroke-width="0.1">B</text>
<rect x="396.2" y="7.9" width="111.2" height="17.9" fill="#d1d2d4"/>
<text x="437.3" y="20" font-size="8.9" fill="#333" textLength="26.5" lengthAdjust="spacingAndGlyphs" stroke="#333" stroke-width="0.16">BMMC</text>
<rect x="393" y="58.2" width="119" height="94.9" fill="#e5e5e5"/>
<text x="374.5" y="64.3" font-size="7.9" fill="#333" textLength="12.9" lengthAdjust="spacingAndGlyphs" stroke="#333" stroke-width="0.16">100</text>
<text x="378.5" y="86.3" font-size="7.9" fill="#333" textLength="8.9" lengthAdjust="spacingAndGlyphs" stroke="#333" stroke-width="0.16">75</text>
<text x="378.5" y="108.2" font-size="7.9" fill="#333" textLength="8.9" lengthAdjust="spacingAndGlyphs" stroke="#333" stroke-width="0.16">50</text>
<text x="378.5" y="130.1" font-size="7.9" fill="#333" textLength="8.9" lengthAdjust="spacingAndGlyphs" stroke="#333" stroke-width="0.16">25</text>
<text x="383.1" y="152.2" font-size="7.9" fill="#333" textLength="4.3" lengthAdjust="spacingAndGlyphs" stroke="#333" stroke-width="0.16">0</text>
<text transform="translate(372.7,135.8) rotate(-90)" x="0" y="0" font-size="8.9" fill="#333" textLength="60.2" lengthAdjust="spacingAndGlyphs" stroke="#333" stroke-width="0.16">% of total NK cells</text>
<line x1="403.4" y1="96.8" x2="403.4" y2="150.6" stroke="#444" stroke-width="1.3"/><rect x="397.9" y="116.4" width="11" height="19.5" fill="#3793d8"/><line x1="397.9" y1="127.8" x2="408.9" y2="127.8" stroke="#222" stroke-opacity="0.72" stroke-width="1.9"/>
<line x1="415.45" y1="86" x2="415.45" y2="148.9" stroke="#444" stroke-width="1.3"/><rect x="410" y="113" width="10.9" height="16.8" fill="#8f8f2d"/><line x1="410" y1="122.8" x2="420.9" y2="122.8" stroke="#222" stroke-opacity="0.72" stroke-width="1.9"/><line x1="415.45" y1="75" x2="415.45" y2="86" stroke="#555" stroke-width="1.2" stroke-dasharray="1.1 0.7"/>
<line x1="427.45" y1="83" x2="427.45" y2="137.7" stroke="#444" stroke-width="1.3"/><rect x="422" y="109" width="10.9" height="19" fill="#27b166"/><line x1="422" y1="120.2" x2="432.9" y2="120.2" stroke="#222" stroke-opacity="0.72" stroke-width="1.9"/><line x1="427.45" y1="70.5" x2="427.45" y2="83" stroke="#555" stroke-width="1.2" stroke-dasharray="1.1 0.7"/>
<line x1="439.55" y1="72.4" x2="439.55" y2="149.8" stroke="#444" stroke-width="1.3"/><rect x="434.1" y="96.9" width="10.9" height="24.7" fill="#f05656"/><line x1="434.1" y1="106.4" x2="445" y2="106.4" stroke="#222" stroke-opacity="0.72" stroke-width="1.9"/>
<line x1="467.5" y1="63.5" x2="467.5" y2="115.9" stroke="#444" stroke-width="1.3"/><rect x="462" y="76.7" width="11" height="19.3" fill="#3793d8"/><line x1="462" y1="84.6" x2="473" y2="84.6" stroke="#222" stroke-opacity="0.72" stroke-width="1.9"/>
<line x1="479.75" y1="64.3" x2="479.75" y2="124.4" stroke="#444" stroke-width="1.3"/><rect x="474.3" y="82.6" width="10.9" height="17.2" fill="#8f8f2d"/><line x1="474.3" y1="89.8" x2="485.2" y2="89.8" stroke="#222" stroke-opacity="0.72" stroke-width="1.9"/><line x1="479.75" y1="125.5" x2="479.75" y2="137.5" stroke="#555" stroke-width="1.2" stroke-dasharray="1.1 0.7"/>
<line x1="491.7" y1="74" x2="491.7" y2="126" stroke="#444" stroke-width="1.3"/><rect x="486.2" y="84.6" width="11" height="19.1" fill="#27b166"/><line x1="486.2" y1="92" x2="497.2" y2="92" stroke="#222" stroke-opacity="0.72" stroke-width="1.9"/><line x1="491.7" y1="127.5" x2="491.7" y2="131" stroke="#555" stroke-width="1.2" stroke-dasharray="1.1 0.7"/><circle cx="491.7" cy="134" r="0.6" fill="#555"/><circle cx="491.7" cy="137.5" r="0.6" fill="#555"/><circle cx="491.7" cy="142" r="0.6" fill="#555"/><circle cx="491.7" cy="147.5" r="0.6" fill="#555"/>
<line x1="503.9" y1="62.6" x2="503.9" y2="139.6" stroke="#444" stroke-width="1.3"/><rect x="498.4" y="90.9" width="11" height="24.7" fill="#f05656"/><line x1="498.4" y1="105.8" x2="509.4" y2="105.8" stroke="#222" stroke-opacity="0.72" stroke-width="1.9"/>
<text x="403.4" y="36.9" font-size="7.6" fill="#3a3a3a" textLength="32" lengthAdjust="spacingAndGlyphs" font-style="italic" stroke="#3a3a3a" stroke-width="0.16">P&lt;0.0001</text>
<path d="M403.4,43.8 L403.4,40.5 L438.5,40.5 L438.5,43.8" fill="none" stroke="#555" stroke-width="1.25"/>
<text x="398" y="53.5" font-size="7.6" fill="#3a3a3a" textLength="36.6" lengthAdjust="spacingAndGlyphs" font-style="italic" stroke="#3a3a3a" stroke-width="0.16">P=0.00075</text>
<path d="M403.4,59.3 L403.4,56.2 L428.7,56.2 L428.7,59.3" fill="none" stroke="#555" stroke-width="1.25"/>
<text x="391.5" y="68.3" font-size="7.6" fill="#3a3a3a" textLength="36.3" lengthAdjust="spacingAndGlyphs" font-style="italic" stroke="#3a3a3a" stroke-width="0.16">P=0.00035</text>
<path d="M403.4,73.6 L403.4,70.5 L415.2,70.5 L415.2,73.6" fill="none" stroke="#555" stroke-width="1.25"/>
<text x="468.5" y="33.5" font-size="7.6" fill="#3a3a3a" textLength="31.5" lengthAdjust="spacingAndGlyphs" font-style="italic" stroke="#3a3a3a" stroke-width="0.16">P&lt;0.0001</text>
<path d="M467.5,40.3 L467.5,36.8 L502.6,36.8 L502.6,40.3" fill="none" stroke="#555" stroke-width="1.25"/>
<text x="461.2" y="48" font-size="7.6" fill="#3a3a3a" textLength="36.5" lengthAdjust="spacingAndGlyphs" font-style="italic" stroke="#3a3a3a" stroke-width="0.16">P=0.00075</text>
<path d="M467.5,53.8 L467.5,50.5 L491.5,50.5 L491.5,53.8" fill="none" stroke="#555" stroke-width="1.25"/>
<text x="453" y="61.5" font-size="7.6" fill="#3a3a3a" textLength="36.2" lengthAdjust="spacingAndGlyphs" font-style="italic" stroke="#3a3a3a" stroke-width="0.16">P=0.00035</text>
<path d="M467.5,67.7 L467.5,63.7 L479.7,63.7 L479.7,67.7" fill="none" stroke="#555" stroke-width="1.25"/>
<rect x="396.2" y="162.3" width="111.2" height="17.5" fill="#d1d2d4"/>
<text x="439.6" y="173.6" font-size="8.9" fill="#333" textLength="24" lengthAdjust="spacingAndGlyphs" stroke="#333" stroke-width="0.16">PBMC</text>
<rect x="393" y="212.4" width="118.8" height="95.1" fill="#e5e5e5"/>
<text x="377.7" y="220.8" font-size="7.9" fill="#333" textLength="12.4" lengthAdjust="spacingAndGlyphs" stroke="#333" stroke-width="0.16">100</text>
<text x="381.8" y="243" font-size="7.9" fill="#333" textLength="8.3" lengthAdjust="spacingAndGlyphs" stroke="#333" stroke-width="0.16">75</text>
<text x="381.8" y="265.1" font-size="7.9" fill="#333" textLength="8.3" lengthAdjust="spacingAndGlyphs" stroke="#333" stroke-width="0.16">50</text>
<text x="381.8" y="287.2" font-size="7.9" fill="#333" textLength="8.3" lengthAdjust="spacingAndGlyphs" stroke="#333" stroke-width="0.16">25</text>
<text x="385.9" y="309.2" font-size="7.9" fill="#333" textLength="4.2" lengthAdjust="spacingAndGlyphs" stroke="#333" stroke-width="0.16">0</text>
<text transform="translate(376.1,289.6) rotate(-90)" x="0" y="0" font-size="8.9" fill="#333" textLength="59.6" lengthAdjust="spacingAndGlyphs" stroke="#333" stroke-width="0.16">% of total NK cells</text>
<line x1="400.65" y1="265.2" x2="400.65" y2="296.7" stroke="#444" stroke-width="1.3"/><rect x="395.2" y="278.8" width="10.9" height="11.2" fill="#3793d8"/><line x1="395.2" y1="284.8" x2="406.1" y2="284.8" stroke="#222" stroke-opacity="0.72" stroke-width="1.9"/><circle cx="400.65" cy="253.2" r="0.6" fill="#555"/><circle cx="400.65" cy="256.5" r="0.6" fill="#555"/>
<line x1="413.35" y1="248.1" x2="413.35" y2="292" stroke="#444" stroke-width="1.3"/><rect x="407.9" y="263.8" width="10.9" height="13.8" fill="#8f8f2d"/><line x1="407.9" y1="273.3" x2="418.8" y2="273.3" stroke="#222" stroke-opacity="0.72" stroke-width="1.9"/><circle cx="413.35" cy="242.2" r="0.6" fill="#555"/>
<line x1="425.7" y1="238.5" x2="425.7" y2="290.9" stroke="#444" stroke-width="1.3"/><rect x="420.2" y="256" width="11" height="34" fill="#27b166"/><line x1="420.2" y1="275.8" x2="431.2" y2="275.8" stroke="#222" stroke-opacity="0.72" stroke-width="1.9"/>
<line x1="438.4" y1="234.2" x2="438.4" y2="301" stroke="#444" stroke-width="1.3"/><rect x="432.9" y="251.9" width="11" height="20" fill="#f05656"/><line x1="432.9" y1="259.8" x2="443.9" y2="259.8" stroke="#222" stroke-opacity="0.72" stroke-width="1.9"/><circle cx="438.4" cy="303.6" r="0.6" fill="#555"/><circle cx="438.4" cy="305.4" r="0.6" fill="#555"/>
<line x1="467.45" y1="224.9" x2="467.45" y2="256.7" stroke="#444" stroke-width="1.3"/><rect x="462" y="231.6" width="10.9" height="11.6" fill="#3793d8"/><line x1="462" y1="237.1" x2="472.9" y2="237.1" stroke="#222" stroke-opacity="0.72" stroke-width="1.9"/><circle cx="467.45" cy="264.2" r="0.6" fill="#555"/><circle cx="467.45" cy="266.2" r="0.6" fill="#555"/><circle cx="467.45" cy="268.6" r="0.6" fill="#555"/>
<line x1="479.9" y1="229.3" x2="479.9" y2="273.7" stroke="#444" stroke-width="1.3"/><rect x="474.6" y="244.1" width="10.6" height="14" fill="#8f8f2d"/><line x1="474.6" y1="248.6" x2="485.2" y2="248.6" stroke="#222" stroke-opacity="0.72" stroke-width="1.9"/><circle cx="479.9" cy="279.3" r="0.6" fill="#555"/>
<line x1="492.6" y1="231.2" x2="492.6" y2="283.5" stroke="#444" stroke-width="1.3"/><rect x="487.1" y="231.9" width="11" height="34" fill="#27b166"/><line x1="487.1" y1="245.9" x2="498.1" y2="245.9" stroke="#222" stroke-opacity="0.72" stroke-width="1.9"/>
<line x1="505" y1="220.8" x2="505" y2="287.9" stroke="#444" stroke-width="1.3"/><rect x="499.7" y="249.9" width="10.6" height="20.1" fill="#f05656"/><line x1="499.7" y1="262.1" x2="510.3" y2="262.1" stroke="#222" stroke-opacity="0.72" stroke-width="1.9"/><circle cx="505" cy="216.7" r="0.6" fill="#555"/><circle cx="505" cy="218.2" r="0.6" fill="#555"/>
<text x="401.2" y="200.4" font-size="7.6" fill="#3a3a3a" textLength="31.9" lengthAdjust="spacingAndGlyphs" font-style="italic" stroke="#3a3a3a" stroke-width="0.16">P&lt;0.0001</text>
<path d="M400.3,206.6 L400.3,203.7 L435.8,203.7 L435.8,206.6" fill="none" stroke="#555" stroke-width="1.25"/>
<text x="406.2" y="216.5" font-size="7.6" fill="#3a3a3a" textLength="16.6" lengthAdjust="spacingAndGlyphs" font-style="italic" stroke="#3a3a3a" stroke-width="0.16">P=ns</text>
<path d="M400.3,222 L400.3,218.7 L425.7,218.7 L425.7,222" fill="none" stroke="#555" stroke-width="1.25"/>
<text x="386.2" y="230.7" font-size="7.6" fill="#3a3a3a" textLength="36.6" lengthAdjust="spacingAndGlyphs" font-style="italic" stroke="#3a3a3a" stroke-width="0.16">P=0.00082</text>
<path d="M400.3,236.1 L400.3,232.9 L413.5,232.9 L413.5,236.1" fill="none" stroke="#555" stroke-width="1.25"/>
<text x="467.7" y="188.9" font-size="7.6" fill="#3a3a3a" textLength="31.5" lengthAdjust="spacingAndGlyphs" font-style="italic" stroke="#3a3a3a" stroke-width="0.16">P&lt;0.0001</text>
<path d="M467.2,195.7 L467.2,192.5 L502.3,192.5 L502.3,195.7" fill="none" stroke="#555" stroke-width="1.25"/>
<text x="472" y="203.4" font-size="7.6" fill="#3a3a3a" textLength="16.5" lengthAdjust="spacingAndGlyphs" font-style="italic" stroke="#3a3a3a" stroke-width="0.16">P=ns</text>
<path d="M466.2,209.2 L466.2,205.6 L491.5,205.6 L491.5,209.2" fill="none" stroke="#555" stroke-width="1.25"/>
<text x="452.6" y="217" font-size="7.6" fill="#3a3a3a" textLength="36.6" lengthAdjust="spacingAndGlyphs" font-style="italic" stroke="#3a3a3a" stroke-width="0.16">P=0.00082</text>
<path d="M467.5,222 L467.5,219.1 L478.8,219.1 L478.8,222" fill="none" stroke="#555" stroke-width="1.25"/>
<text x="411" y="319.2" font-size="7.9" fill="#d84550" textLength="17.5" lengthAdjust="spacingAndGlyphs" stroke="#d84550" stroke-width="0.16">CD56</text>
<text x="428.8" y="316" font-size="4.2" fill="#d84550" textLength="13.1" lengthAdjust="spacingAndGlyphs" stroke="#d84550" stroke-width="0.08">bright</text>
<text x="467.7" y="319.2" font-size="7.9" fill="#3a78b0" textLength="17.5" lengthAdjust="spacingAndGlyphs" stroke="#3a78b0" stroke-width="0.16">CD56</text>
<text x="485.6" y="316" font-size="4.2" fill="#3a78b0" textLength="9" lengthAdjust="spacingAndGlyphs" stroke="#3a78b0" stroke-width="0.08">dim</text>
<text x="8.2" y="354.1" font-size="11.4" fill="#111" textLength="8.1" lengthAdjust="spacingAndGlyphs" font-weight="bold" stroke="#111" stroke-width="0.1">C</text>
<rect x="27.5" y="341.5" width="207" height="18.5" fill="#c4d8e9"/>
<text x="36.9" y="353.3" font-size="9.2" fill="#333" textLength="188.1" lengthAdjust="spacingAndGlyphs" stroke="#333" stroke-width="0.16">CD56 <tspan font-style="italic">vs</tspan> CD27 expression in NK subsets (BMMC)</text>
<line x1="51.6" y1="363.6" x2="51.6" y2="457.5" stroke="#2a2a2a" stroke-width="1.2"/>
<line x1="49" y1="456.9" x2="121.3" y2="456.9" stroke="#2a2a2a" stroke-width="1.3"/>
<line x1="48.8" y1="373" x2="51.6" y2="373" stroke="#2a2a2a" stroke-width="1.1"/>
<text x="33.4" y="376" font-size="8.3" fill="#333" textLength="12" lengthAdjust="spacingAndGlyphs" stroke="#333" stroke-width="0.16">100</text>
<line x1="48.8" y1="389.78" x2="51.6" y2="389.78" stroke="#2a2a2a" stroke-width="1.1"/>
<text x="37.2" y="392.78" font-size="8.3" fill="#333" textLength="8.2" lengthAdjust="spacingAndGlyphs" stroke="#333" stroke-width="0.16">80</text>
<line x1="48.8" y1="406.56" x2="51.6" y2="406.56" stroke="#2a2a2a" stroke-width="1.1"/>
<text x="37.2" y="409.56" font-size="8.3" fill="#333" textLength="8.2" lengthAdjust="spacingAndGlyphs" stroke="#333" stroke-width="0.16">60</text>
<line x1="48.8" y1="423.34" x2="51.6" y2="423.34" stroke="#2a2a2a" stroke-width="1.1"/>
<text x="37.2" y="426.34" font-size="8.3" fill="#333" textLength="8.2" lengthAdjust="spacingAndGlyphs" stroke="#333" stroke-width="0.16">40</text>
<line x1="48.8" y1="440.12" x2="51.6" y2="440.12" stroke="#2a2a2a" stroke-width="1.1"/>
<text x="37.2" y="443.12" font-size="8.3" fill="#333" textLength="8.2" lengthAdjust="spacingAndGlyphs" stroke="#333" stroke-width="0.16">20</text>
<line x1="48.8" y1="456.9" x2="51.6" y2="456.9" stroke="#2a2a2a" stroke-width="1.1"/>
<text x="41.1" y="459.9" font-size="8.3" fill="#333" textLength="4.3" lengthAdjust="spacingAndGlyphs" stroke="#333" stroke-width="0.16">0</text>
<text transform="translate(30.2,431.5) rotate(-90)" x="0" y="0" font-size="10" fill="#3a3a3a" textLength="43" lengthAdjust="spacingAndGlyphs" stroke="#3a3a3a" stroke-width="0.16">% of total NK</text>
<line x1="71.4" y1="456.9" x2="71.4" y2="459.7" stroke="#2a2a2a" stroke-width="1.1"/>
<line x1="100.9" y1="456.9" x2="100.9" y2="459.7" stroke="#2a2a2a" stroke-width="1.1"/>
<rect x="61.9" y="373" width="19.4" height="6.1" fill="#ffffff"/>
<rect x="61.9" y="379.1" width="19.4" height="74.2" fill="#636466"/>
<rect x="61.9" y="453.3" width="19.4" height="1.7" fill="#a9aaac"/>
<rect x="61.9" y="455" width="19.4" height="1.9" fill="#1b1a1b"/>
<rect x="61.9" y="373" width="19.4" height="83.9" fill="none" stroke="#222" stroke-width="0.9"/>
<line x1="71.6" y1="371.3" x2="71.6" y2="373" stroke="#222" stroke-width="1.0"/><line x1="66.8" y1="371.3" x2="76.4" y2="371.3" stroke="#222" stroke-width="1.1"/><line x1="66.8" y1="373" x2="76.4" y2="373" stroke="#222" stroke-width="1.1"/>
<line x1="71.6" y1="376.7" x2="71.6" y2="379.1" stroke="#222" stroke-width="1.0"/><line x1="66.8" y1="376.7" x2="76.4" y2="376.7" stroke="#222" stroke-width="1.1"/><line x1="66.8" y1="379.1" x2="76.4" y2="379.1" stroke="#222" stroke-width="1.1"/>
<rect x="66.8" y="453.2" width="9.4" height="1.8" fill="#1b1a1b"/>
<rect x="91.4" y="373" width="19.3" height="6.1" fill="#ffffff"/>
<rect x="91.4" y="379.1" width="19.3" height="63.5" fill="#636466"/>
<rect x="91.4" y="442.6" width="19.3" height="5.1" fill="#a9aaac"/>
<rect x="91.4" y="447.7" width="19.3" height="9.2" fill="#1b1a1b"/>
<rect x="91.4" y="373" width="19.3" height="83.9" fill="none" stroke="#222" stroke-width="0.9"/>
<line x1="101" y1="371.3" x2="101" y2="379.1" stroke="#222" stroke-width="1.0"/><line x1="96.2" y1="371.3" x2="105.8" y2="371.3" stroke="#222" stroke-width="1.1"/><line x1="96.2" y1="379.1" x2="105.8" y2="379.1" stroke="#222" stroke-width="1.1"/>
<line x1="96" y1="373.6" x2="105.8" y2="373.6" stroke="#222" stroke-width="1.1"/>
<line x1="100.9" y1="441" x2="100.9" y2="443.5" stroke="#222" stroke-width="1.0"/><line x1="95.9" y1="441" x2="105.9" y2="441" stroke="#222" stroke-width="1.1"/><line x1="95.9" y1="443.5" x2="105.9" y2="443.5" stroke="#222" stroke-width="1.1"/>
<line x1="100.9" y1="443.5" x2="100.9" y2="447.7" stroke="#e8e8e8" stroke-width="0.9"/>
<line x1="96" y1="445.3" x2="105.8" y2="445.3" stroke="#e0e0e0" stroke-width="0.7"/>
<rect x="119.5" y="382.9" width="10.2" height="4.8" fill="#fff" stroke="#444" stroke-width="0.9"/>
<rect x="119.5" y="396.5" width="10.2" height="4.8" fill="#5b5c5e" stroke="#333" stroke-width="0.9"/>
<rect x="119.5" y="410.2" width="10.2" height="4.8" fill="#a9aaac" stroke="#666" stroke-width="0.9"/>
<rect x="119.5" y="424" width="10.2" height="4.8" fill="#1b1a1b" stroke="#111" stroke-width="0.9"/>
<text x="134" y="387.9" font-size="7.3" fill="#333" textLength="64.6" lengthAdjust="spacingAndGlyphs" stroke="#333" stroke-width="0.16">CD56<tspan font-size="4.2" dy="-2.6" stroke-width="0.08">dim</tspan><tspan dy="2.6"> CD27</tspan><tspan font-size="4.6" dy="-2.6" stroke-width="0.08">+</tspan><tspan dy="2.6"> (</tspan><tspan font-style="italic">ns</tspan>)</text>
<text x="134" y="401.5" font-size="7.3" fill="#333" textLength="88.4" lengthAdjust="spacingAndGlyphs" stroke="#333" stroke-width="0.16">CD56<tspan font-size="4.2" dy="-2.6" stroke-width="0.08">dim</tspan><tspan dy="2.6"> CD27</tspan><tspan font-size="4.6" dy="-2.6" stroke-width="0.08">-</tspan><tspan dy="2.6"> (</tspan><tspan font-style="italic">P=0.0083</tspan>)</text>
<text x="134" y="415.2" font-size="7.3" fill="#333" textLength="93.5" lengthAdjust="spacingAndGlyphs" stroke="#333" stroke-width="0.16">CD56<tspan font-size="4.2" dy="-2.6" stroke-width="0.08">bright</tspan><tspan dy="2.6"> CD27</tspan><tspan font-size="4.6" dy="-2.6" stroke-width="0.08">-</tspan><tspan dy="2.6"> (</tspan><tspan font-style="italic">P=0.0007</tspan>)</text>
<text x="134" y="429" font-size="7.3" fill="#333" textLength="94.2" lengthAdjust="spacingAndGlyphs" stroke="#333" stroke-width="0.16">CD56<tspan font-size="4.2" dy="-2.6" stroke-width="0.08">bright</tspan><tspan dy="2.6"> CD27</tspan><tspan font-size="4.6" dy="-2.6" stroke-width="0.08">+</tspan><tspan dy="2.6"> (</tspan><tspan font-style="italic">P=0.0045</tspan>)</text>
<text transform="translate(72.8,464.2) rotate(-45)" x="0" y="0" font-size="8.2" fill="#2f6eaf" text-anchor="end" stroke="#2f6eaf" stroke-width="0.16">Healthy</text>
<text transform="translate(104,464.3) rotate(-45)" x="0" y="0" font-size="8.2" text-anchor="end"><tspan fill="#d9283e">B</tspan><tspan fill="#333">/</tspan><tspan fill="#3cb84a">T</tspan><tspan fill="#333">-ALL</tspan></text>
<text x="249.4" y="354.4" font-size="11.2" fill="#111" textLength="7.1" lengthAdjust="spacingAndGlyphs" font-weight="bold" stroke="#111" stroke-width="0.1">E</text>
<rect x="265" y="341.7" width="207" height="18.3" fill="#c4d8e9"/>
<text x="275.8" y="353.2" font-size="9.2" fill="#333" textLength="186" lengthAdjust="spacingAndGlyphs" stroke="#333" stroke-width="0.16">CD56 <tspan font-style="italic">vs</tspan> CD27 expression in NK subsets (PBMC)</text>
<line x1="292.4" y1="362.9" x2="292.4" y2="406.4" stroke="#2a2a2a" stroke-width="1.2"/>
<line x1="292.4" y1="414.0" x2="292.4" y2="457.5" stroke="#2a2a2a" stroke-width="1.2"/>
<line x1="290" y1="406.3" x2="295.6" y2="406.3" stroke="#2a2a2a" stroke-width="1.1"/>
<line x1="290" y1="414.1" x2="295.6" y2="414.1" stroke="#2a2a2a" stroke-width="1.1"/>
<line x1="289.6" y1="456.9" x2="362.3" y2="456.9" stroke="#2a2a2a" stroke-width="1.3"/>
<line x1="289.6" y1="372.9" x2="292.4" y2="372.9" stroke="#2a2a2a" stroke-width="1.1"/>
<text x="274.1" y="375.9" font-size="8.3" fill="#333" textLength="13.4" lengthAdjust="spacingAndGlyphs" stroke="#333" stroke-width="0.16">100</text>
<line x1="289.6" y1="388.1" x2="292.4" y2="388.1" stroke="#2a2a2a" stroke-width="1.1"/>
<text x="278.3" y="391.1" font-size="8.3" fill="#333" textLength="9.2" lengthAdjust="spacingAndGlyphs" stroke="#333" stroke-width="0.16">80</text>
<line x1="289.6" y1="403.3" x2="292.4" y2="403.3" stroke="#2a2a2a" stroke-width="1.1"/>
<text x="278.3" y="406.3" font-size="8.3" fill="#333" textLength="9.2" lengthAdjust="spacingAndGlyphs" stroke="#333" stroke-width="0.16">60</text>
<line x1="289.6" y1="414.4" x2="292.4" y2="414.4" stroke="#2a2a2a" stroke-width="1.1"/>
<text x="278.3" y="417.4" font-size="8.3" fill="#333" textLength="9.2" lengthAdjust="spacingAndGlyphs" stroke="#333" stroke-width="0.16">10</text>
<line x1="289.6" y1="435.4" x2="292.4" y2="435.4" stroke="#2a2a2a" stroke-width="1.1"/>
<text x="282.7" y="438.4" font-size="8.3" fill="#333" textLength="4.8" lengthAdjust="spacingAndGlyphs" stroke="#333" stroke-width="0.16">5</text>
<line x1="289.6" y1="456.4" x2="292.4" y2="456.4" stroke="#2a2a2a" stroke-width="1.1"/>
<text x="282.7" y="459.4" font-size="8.3" fill="#333" textLength="4.8" lengthAdjust="spacingAndGlyphs" stroke="#333" stroke-width="0.16">0</text>
<text transform="translate(272.8,431) rotate(-90)" x="0" y="0" font-size="10" fill="#3a3a3a" textLength="42.5" lengthAdjust="spacingAndGlyphs" stroke="#3a3a3a" stroke-width="0.16">% of total NK</text>
<line x1="312.4" y1="456.9" x2="312.4" y2="459.7" stroke="#2a2a2a" stroke-width="1.1"/>
<line x1="341.7" y1="456.9" x2="341.7" y2="459.7" stroke="#2a2a2a" stroke-width="1.1"/>
<rect x="302.8" y="372.4" width="18.9" height="3.7" fill="#ffffff"/>
<rect x="302.8" y="376.1" width="18.9" height="30.3" fill="#636466"/>
<path d="M302.8,406.4 L302.8,372.4 L321.7,372.4 L321.7,406.4" fill="none" stroke="#222" stroke-width="0.9"/>
<rect x="302.8" y="414.3" width="18.9" height="21.3" fill="#636466"/>
<rect x="302.8" y="435.6" width="18.9" height="14.2" fill="#a9aaac"/>
<rect x="302.8" y="449.8" width="18.9" height="7.1" fill="#1b1a1b"/>
<path d="M302.8,456.9 L302.8,414.3 L321.7,414.3 L321.7,456.9" fill="none" stroke="#222" stroke-width="0.9"/>
<rect x="332.3" y="372.4" width="18.9" height="4.3" fill="#ffffff"/>
<rect x="332.3" y="376.7" width="18.9" height="29.7" fill="#636466"/>
<path d="M332.3,406.4 L332.3,372.4 L351.2,372.4 L351.2,406.4" fill="none" stroke="#222" stroke-width="0.9"/>
<rect x="332.3" y="414.3" width="18.9" height="21.3" fill="#636466"/>
<rect x="332.3" y="435.6" width="18.9" height="17.1" fill="#a9aaac"/>
<rect x="332.3" y="452.7" width="18.9" height="4.2" fill="#1b1a1b"/>
<path d="M332.3,456.9 L332.3,414.3 L351.2,414.3 L351.2,456.9" fill="none" stroke="#222" stroke-width="0.9"/>
<line x1="312.2" y1="371.5" x2="312.2" y2="375" stroke="#222" stroke-width="1.0"/><line x1="307.5" y1="371.5" x2="316.9" y2="371.5" stroke="#222" stroke-width="1.1"/><line x1="307.5" y1="375" x2="316.9" y2="375" stroke="#222" stroke-width="1.1"/>
<line x1="342" y1="371.5" x2="342" y2="376.3" stroke="#222" stroke-width="1.0"/><line x1="337.3" y1="371.5" x2="346.7" y2="371.5" stroke="#222" stroke-width="1.1"/><line x1="337.3" y1="376.3" x2="346.7" y2="376.3" stroke="#222" stroke-width="1.1"/>
<line x1="312.2" y1="431.9" x2="312.2" y2="437.3" stroke="#222" stroke-width="1.0"/><line x1="307.5" y1="431.9" x2="316.9" y2="431.9" stroke="#222" stroke-width="1.1"/><line x1="307.5" y1="437.3" x2="316.9" y2="437.3" stroke="#222" stroke-width="1.1"/>
<line x1="341.8" y1="430.2" x2="341.8" y2="439.4" stroke="#222" stroke-width="1.0"/><line x1="337.1" y1="430.2" x2="346.5" y2="430.2" stroke="#222" stroke-width="1.1"/><line x1="337.1" y1="439.4" x2="346.5" y2="439.4" stroke="#222" stroke-width="1.1"/>
<line x1="312.2" y1="448" x2="312.2" y2="449.3" stroke="#555" stroke-width="1.0"/><line x1="307.5" y1="448" x2="316.9" y2="448" stroke="#555" stroke-width="1.1"/><line x1="307.5" y1="449.3" x2="316.9" y2="449.3" stroke="#555" stroke-width="1.1"/>
<line x1="337" y1="451.1" x2="346.6" y2="451.1" stroke="#555" stroke-width="1"/>
<rect x="364.6" y="382.9" width="10.2" height="4.8" fill="#fff" stroke="#444" stroke-width="0.9"/>
<rect x="364.6" y="396.5" width="10.2" height="4.8" fill="#5b5c5e" stroke="#333" stroke-width="0.9"/>
<rect x="364.6" y="410.3" width="10.2" height="4.8" fill="#a9aaac" stroke="#666" stroke-width="0.9"/>
<rect x="364.6" y="424.4" width="10.2" height="4.8" fill="#1b1a1b" stroke="#111" stroke-width="0.9"/>
<text x="378.9" y="387.9" font-size="7.3" fill="#333" textLength="65.4" lengthAdjust="spacingAndGlyphs" stroke="#333" stroke-width="0.16">CD56<tspan font-size="4.2" dy="-2.6" stroke-width="0.08">dim</tspan><tspan dy="2.6"> CD27</tspan><tspan font-size="4.6" dy="-2.6" stroke-width="0.08">+</tspan><tspan dy="2.6"> (</tspan><tspan font-style="italic">ns</tspan>)</text>
<text x="378.9" y="401.5" font-size="7.3" fill="#333" textLength="63.8" lengthAdjust="spacingAndGlyphs" stroke="#333" stroke-width="0.16">CD56<tspan font-size="4.2" dy="-2.6" stroke-width="0.08">dim</tspan><tspan dy="2.6"> CD27</tspan><tspan font-size="4.6" dy="-2.6" stroke-width="0.08">-</tspan><tspan dy="2.6"> (</tspan><tspan font-style="italic">ns</tspan>)</text>
<text x="378.9" y="415.3" font-size="7.3" fill="#333" textLength="68.4" lengthAdjust="spacingAndGlyphs" stroke="#333" stroke-width="0.16">CD56<tspan font-size="4.2" dy="-2.6" stroke-width="0.08">bright</tspan><tspan dy="2.6"> CD27</tspan><tspan font-size="4.6" dy="-2.6" stroke-width="0.08">-</tspan><tspan dy="2.6"> (</tspan><tspan font-style="italic">ns</tspan>)</text>
<text x="378.9" y="429.4" font-size="7.3" fill="#333" textLength="69.3" lengthAdjust="spacingAndGlyphs" stroke="#333" stroke-width="0.16">CD56<tspan font-size="4.2" dy="-2.6" stroke-width="0.08">bright</tspan><tspan dy="2.6"> CD27</tspan><tspan font-size="4.6" dy="-2.6" stroke-width="0.08">+</tspan><tspan dy="2.6"> (</tspan><tspan font-style="italic">ns</tspan>)</text>
<text transform="translate(315.1,465.8) rotate(-45)" x="0" y="0" font-size="8.2" fill="#2f6eaf" text-anchor="end" stroke="#2f6eaf" stroke-width="0.16">Healthy</text>
<text transform="translate(345.8,466.1) rotate(-45)" x="0" y="0" font-size="8.2" text-anchor="end"><tspan fill="#d9283e">B</tspan><tspan fill="#333">/</tspan><tspan fill="#3cb84a">T</tspan><tspan fill="#333">-ALL</tspan></text>
<text x="8" y="511.4" font-size="11" fill="#111" textLength="8.7" lengthAdjust="spacingAndGlyphs" font-weight="bold" stroke="#111" stroke-width="0.1">D</text>
<text x="54.4" y="511.7" font-size="8.4" fill="#2f6eaf" textLength="28.9" lengthAdjust="spacingAndGlyphs" stroke="#2f6eaf" stroke-width="0.16">Healthy</text>
<text x="119.1" y="511.7" font-size="8.4" fill="#d9283e" textLength="22.2" lengthAdjust="spacingAndGlyphs" stroke="#d9283e" stroke-width="0.16">B-ALL</text>
<text x="181.4" y="511.7" font-size="8.4" fill="#3cb84a" textLength="20.3" lengthAdjust="spacingAndGlyphs" stroke="#3cb84a" stroke-width="0.16">T-ALL</text>
<rect x="42.4" y="516.4" width="54.2" height="53.2" fill="#fff" stroke="#555" stroke-width="0.9"/><path d="M39.6,568.6h2.8M43.4,569.6v2.8M40.9,564.82h1.5M47.25,569.6v1.5M40.9,562.61h1.5M49.51,569.6v1.5M40.9,561.04h1.5M51.11,569.6v1.5M40.9,559.83h1.5M52.35,569.6v1.5M40.9,558.83h1.5M53.36,569.6v1.5M40.9,557.99h1.5M54.22,569.6v1.5M40.9,557.27h1.5M54.96,569.6v1.5M40.9,556.62h1.5M55.61,569.6v1.5M39.6,556.05h2.8M56.2,569.6v2.8M40.9,552.27h1.5M60.05,569.6v1.5M40.9,550.06h1.5M62.31,569.6v1.5M40.9,548.49h1.5M63.91,569.6v1.5M40.9,547.28h1.5M65.15,569.6v1.5M40.9,546.28h1.5M66.16,569.6v1.5M40.9,545.44h1.5M67.02,569.6v1.5M40.9,544.72h1.5M67.76,569.6v1.5M40.9,544.07h1.5M68.41,569.6v1.5M39.6,543.5h2.8M69,569.6v2.8M40.9,539.72h1.5M72.85,569.6v1.5M40.9,537.51h1.5M75.11,569.6v1.5M40.9,535.94h1.5M76.71,569.6v1.5M40.9,534.73h1.5M77.95,569.6v1.5M40.9,533.73h1.5M78.96,569.6v1.5M40.9,532.89h1.5M79.82,569.6v1.5M40.9,532.17h1.5M80.56,569.6v1.5M40.9,531.52h1.5M81.21,569.6v1.5M39.6,530.95h2.8M81.8,569.6v2.8M40.9,527.17h1.5M85.65,569.6v1.5M40.9,524.96h1.5M87.91,569.6v1.5M40.9,523.39h1.5M89.51,569.6v1.5M40.9,522.18h1.5M90.75,569.6v1.5M40.9,521.18h1.5M91.76,569.6v1.5M40.9,520.34h1.5M92.62,569.6v1.5M40.9,519.62h1.5M93.36,569.6v1.5M40.9,518.97h1.5M94.01,569.6v1.5" stroke="#333" stroke-width="0.75" fill="none"/><path d="M53.8 547.8h.6M70.5 540.9h.6M53.0 546.0h.6M66.6 548.7h.6M53.9 540.5h.6M68.3 545.6h.6M74.5 546.7h.6M62.2 543.4h.6M82.3 539.7h.6M57.1 540.6h.6M63.7 545.0h.6M60.4 544.7h.6M65.0 547.2h.6M71.2 543.9h.6M49.6 550.0h.6M52.4 545.7h.6M51.9 546.5h.6M57.2 546.5h.6M87.8 539.7h.6M69.3 537.5h.6M60.8 547.8h.6M62.3 546.3h.6M63.8 539.9h.6M67.2 540.2h.6M77.0 539.7h.6M68.1 543.6h.6M70.1 540.5h.6M70.5 542.6h.6M72.5 545.5h.6M64.1 540.9h.6M68.8 545.5h.6M75.3 540.6h.6M67.2 546.0h.6M65.1 545.0h.6M64.4 541.6h.6M55.4 544.2h.6M67.4 550.3h.6M70.3 547.8h.6M68.8 546.5h.6M64.4 547.6h.6M76.3 540.6h.6M57.8 554.1h.6M64.8 548.4h.6M69.6 538.3h.6M81.3 548.9h.6M64.3 547.6h.6M64.0 540.4h.6M62.2 546.3h.6M71.4 546.1h.6M63.4 550.4h.6M57.3 549.0h.6M71.3 541.7h.6M49.6 543.0h.6M64.8 546.5h.6M74.6 538.0h.6M63.0 547.3h.6M61.8 534.3h.6M69.0 553.5h.6M70.5 539.1h.6M59.9 546.0h.6M81.7 543.8h.6M63.9 551.2h.6M62.4 552.8h.6M57.9 543.4h.6M68.4 549.8h.6M67.9 544.9h.6M49.3 543.9h.6M58.4 543.0h.6M67.4 542.2h.6M68.9 543.8h.6M60.5 545.5h.6M66.2 547.7h.6M59.4 544.1h.6M52.8 553.4h.6M73.9 541.7h.6M59.4 539.7h.6M64.3 545.2h.6M79.4 542.6h.6M57.2 534.8h.6M73.6 543.4h.6M50.9 547.5h.6M50.9 562.0h.6M71.4 545.5h.6M61.7 535.4h.6M62.1 537.9h.6M67.5 534.3h.6M56.2 551.1h.6M75.3 537.0h.6M51.5 550.5h.6M69.4 539.0h.6M57.8 542.4h.6M54.1 543.2h.6M72.4 545.8h.6M78.4 541.3h.6M62.0 540.4h.6M62.1 538.9h.6M49.7 550.0h.6M73.8 546.2h.6M73.0 543.8h.6M57.6 545.9h.6M60.2 540.1h.6M50.3 540.3h.6M63.0 545.2h.6M59.4 551.4h.6M64.3 546.8h.6M72.1 539.2h.6M48.2 550.5h.6M57.8 551.2h.6M65.5 548.5h.6M68.7 534.3h.6M68.4 540.6h.6M57.3 543.6h.6M68.8 547.3h.6M70.6 535.8h.6M58.6 534.9h.6M62.2 547.3h.6M57.3 546.6h.6M64.7 548.6h.6M56.8 542.0h.6M57.3 553.2h.6M71.2 542.5h.6M64.7 544.7h.6M64.5 543.3h.6M60.5 539.4h.6M58.2 552.6h.6M67.0 544.0h.6M61.4 545.1h.6M65.7 541.2h.6M64.5 545.3h.6M57.4 542.1h.6M55.5 541.2h.6M69.7 532.9h.6M61.0 542.2h.6M58.4 545.8h.6M71.5 543.3h.6M61.9 542.0h.6M62.0 548.7h.6M60.0 540.0h.6M53.5 541.4h.6M52.6 551.2h.6M65.7 543.0h.6M73.9 539.6h.6M68.6 547.0h.6M51.4 539.8h.6M56.0 549.8h.6M72.7 537.3h.6M70.9 541.4h.6M60.0 542.6h.6M60.6 537.0h.6M55.5 540.5h.6M66.7 553.0h.6M83.5 539.3h.6M50.1 545.1h.6M56.0 554.5h.6M67.3 540.5h.6M70.0 545.6h.6M50.8 544.4h.6M61.2 544.9h.6M64.0 542.8h.6M64.4 541.7h.6M56.3 552.4h.6M65.7 545.9h.6M51.0 546.0h.6M69.1 537.7h.6M71.2 541.3h.6M66.0 543.4h.6M64.6 549.5h.6M60.0 551.9h.6M57.1 541.5h.6M68.3 538.8h.6M60.2 549.0h.6M72.1 535.0h.6M66.8 552.1h.6M72.0 541.8h.6M58.5 544.0h.6M54.4 544.9h.6M61.6 544.1h.6M71.9 541.9h.6M52.1 551.1h.6M55.0 544.0h.6M62.0 543.2h.6M55.5 544.8h.6M79.4 538.8h.6M62.0 549.6h.6M68.6 546.8h.6M69.5 534.7h.6M56.5 546.3h.6M66.7 549.5h.6M66.5 542.8h.6M63.3 543.5h.6M64.9 547.1h.6M60.5 541.4h.6M56.6 550.5h.6M72.6 547.1h.6M69.4 547.0h.6M63.0 547.4h.6M55.1 545.1h.6M57.5 548.7h.6M58.7 544.8h.6M66.0 549.9h.6M57.1 541.5h.6M69.1 538.5h.6M66.4 541.4h.6M62.2 536.7h.6M68.4 541.3h.6M56.3 554.9h.6M68.3 558.9h.6M66.1 542.4h.6M63.8 551.4h.6M62.8 546.5h.6M66.9 539.8h.6M64.0 542.1h.6M53.7 550.0h.6M68.0 543.9h.6M56.2 537.0h.6M66.6 543.4h.6M50.4 546.6h.6M51.6 546.5h.6M64.1 545.9h.6M64.6 545.0h.6M54.5 544.4h.6M59.2 544.2h.6M65.0 546.8h.6M75.3 531.0h.6M66.0 543.1h.6M80.1 545.5h.6M50.6 548.5h.6M59.1 549.6h.6M55.1 545.5h.6M62.0 544.3h.6M58.6 537.2h.6M66.5 548.2h.6M62.5 540.1h.6M64.5 546.7h.6M61.7 544.7h.6M73.6 537.6h.6M58.8 536.9h.6M57.8 542.2h.6M55.8 542.8h.6M76.5 541.2h.6M62.1 554.3h.6M62.5 537.0h.6M66.0 539.8h.6M75.3 536.8h.6M58.6 538.3h.6M63.7 539.9h.6M62.5 542.9h.6M58.4 549.5h.6M70.0 543.5h.6M56.2 541.0h.6M65.0 554.6h.6M59.6 541.7h.6M57.8 540.7h.6M55.7 544.9h.6M73.8 542.5h.6M59.2 538.1h.6M64.6 544.1h.6M53.8 541.4h.6M62.7 549.0h.6M67.7 544.5h.6M60.6 546.4h.6M62.9 554.1h.6M54.5 544.4h.6M72.5 541.6h.6M73.7 542.3h.6M64.1 542.7h.6M52.6 542.1h.6M79.6 544.3h.6M67.5 547.8h.6M67.3 548.2h.6M61.0 543.9h.6M70.4 541.6h.6M53.0 545.3h.6M58.9 547.9h.6M57.6 540.8h.6M60.5 551.8h.6M62.6 545.3h.6M63.1 545.8h.6M70.0 549.3h.6M50.7 552.7h.6M63.0 543.1h.6M81.0 540.4h.6M77.6 546.1h.6M55.3 548.1h.6M68.5 542.9h.6M45.5 546.2h.6M61.6 539.9h.6M76.7 540.9h.6M60.0 543.7h.6M57.1 542.2h.6M63.7 545.7h.6M59.2 544.8h.6M52.6 548.7h.6M57.4 546.5h.6M56.2 543.5h.6M64.6 538.9h.6M81.5 540.9h.6M62.5 541.4h.6M75.0 548.4h.6M65.2 538.1h.6M59.2 547.9h.6M59.2 540.0h.6M54.1 542.8h.6M63.1 541.6h.6M63.1 556.7h.6M76.3 537.5h.6M65.6 544.4h.6M62.0 549.3h.6M60.5 543.5h.6M60.2 544.6h.6M72.6 546.1h.6M52.9 544.4h.6M57.0 549.2h.6M64.7 548.1h.6M62.5 536.2h.6M66.4 544.9h.6M66.8 538.1h.6M63.6 541.4h.6M57.8 547.0h.6M65.6 540.1h.6M50.2 536.0h.6M58.7 550.2h.6M62.6 534.7h.6M56.5 547.5h.6M75.5 547.3h.6M65.8 544.9h.6M55.1 544.0h.6M60.5 541.6h.6M63.5 542.7h.6M65.5 550.3h.6M68.6 545.3h.6M61.2 538.2h.6M62.1 547.0h.6M55.4 551.4h.6M60.5 546.6h.6M60.5 539.4h.6M78.5 536.6h.6M69.9 540.8h.6M65.1 540.6h.6M59.9 549.1h.6M77.6 538.1h.6M63.1 548.6h.6M58.3 548.5h.6M57.1 548.2h.6M66.3 549.2h.6M65.7 538.8h.6M68.0 538.7h.6M68.6 550.1h.6M67.5 541.3h.6M71.9 543.6h.6M53.7 544.7h.6M73.6 541.2h.6M63.9 542.8h.6M50.4 544.6h.6M65.7 544.9h.6M61.7 535.4h.6M72.2 546.0h.6M70.7 548.8h.6M59.7 542.5h.6M65.4 551.4h.6M50.4 545.8h.6M57.6 547.9h.6M74.0 541.2h.6M53.7 546.4h.6M60.9 538.1h.6M69.6 541.0h.6M68.1 537.8h.6M71.2 536.7h.6M70.9 535.1h.6M73.3 541.0h.6M51.3 545.6h.6M65.5 539.7h.6M59.3 546.4h.6M61.7 531.3h.6M59.8 547.0h.6M65.2 548.5h.6M57.8 556.7h.6M69.0 544.8h.6M71.1 547.2h.6M63.8 541.6h.6M70.7 544.9h.6M48.8 542.3h.6M66.5 544.3h.6M65.1 546.9h.6M64.1 551.2h.6M58.6 543.6h.6M65.4 547.3h.6M68.9 549.9h.6M59.4 550.3h.6M66.5 539.3h.6M62.0 553.8h.6M68.9 541.4h.6M45.0 544.6h.6M57.7 545.8h.6M80.3 544.6h.6M65.3 540.0h.6M54.1 545.2h.6M59.5 558.3h.6M60.0 542.4h.6M71.5 543.3h.6M53.7 551.9h.6M60.7 539.1h.6M65.4 546.2h.6M60.5 548.0h.6M69.2 539.5h.6M47.6 536.8h.6M62.0 550.1h.6M70.5 549.2h.6M76.9 542.0h.6M70.9 536.3h.6M68.2 545.3h.6M62.3 542.7h.6M54.6 546.7h.6M72.6 541.1h.6M67.0 540.9h.6M64.9 539.7h.6M65.8 543.0h.6M65.4 541.4h.6M54.2 544.7h.6M70.8 550.0h.6M60.6 548.5h.6M68.7 545.2h.6M51.4 548.1h.6M55.7 551.0h.6M68.9 546.1h.6M44.0 550.7h.6M68.2 537.9h.6M70.3 543.5h.6M61.6 541.6h.6M55.4 544.0h.6M86.1 541.1h.6M64.6 541.4h.6M58.4 542.9h.6M56.4 549.6h.6M61.0 548.7h.6M54.3 550.2h.6M62.8 547.5h.6M62.2 540.7h.6M72.1 540.9h.6M61.9 540.8h.6M64.5 542.5h.6M65.1 545.6h.6M57.8 539.3h.6M66.2 547.9h.6M68.2 538.5h.6M67.5 545.4h.6M65.1 546.0h.6M60.6 545.9h.6M70.0 541.0h.6M52.2 546.0h.6M64.5 536.1h.6M57.9 548.0h.6M61.9 545.1h.6M53.6 550.2h.6M76.2 541.2h.6M57.5 540.4h.6M69.7 543.7h.6M57.0 550.9h.6M68.7 546.1h.6M49.8 546.5h.6M67.7 538.3h.6M70.0 549.5h.6M70.8 539.9h.6M57.7 549.6h.6M70.5 548.5h.6M72.0 542.4h.6M59.9 536.9h.6M68.9 553.4h.6M59.5 543.1h.6M67.9 545.2h.6M52.7 543.3h.6M54.8 554.9h.6M57.6 549.2h.6M77.4 550.2h.6M73.7 549.7h.6M53.7 544.7h.6M57.5 544.2h.6M82.7 533.5h.6M67.2 538.3h.6M73.0 548.4h.6" stroke="#111" stroke-width="0.7" stroke-opacity="0.8" fill="none"/><path d="M58.9 560.4h.6M63.6 555.8h.6M65.5 544.6h.6M60.0 547.3h.6M67.9 548.8h.6M81.9 546.8h.6M59.3 543.7h.6M56.8 539.4h.6M55.1 553.4h.6M63.5 547.0h.6M65.8 554.4h.6M67.9 552.6h.6M58.5 546.4h.6M56.8 547.4h.6M56.5 545.8h.6M61.6 546.7h.6M60.9 545.0h.6M73.5 545.9h.6M54.9 549.2h.6M54.3 541.6h.6M63.7 538.0h.6M71.3 538.0h.6M55.8 551.5h.6M47.1 542.8h.6M53.4 546.8h.6M47.2 553.4h.6M61.8 549.8h.6M60.4 535.3h.6M61.8 540.0h.6M63.1 542.9h.6M60.5 546.7h.6M69.2 552.6h.6M55.0 547.9h.6M74.7 551.0h.6M57.2 547.3h.6M60.2 553.6h.6M63.3 550.3h.6M80.7 539.7h.6M54.9 537.6h.6M50.3 553.1h.6M65.3 557.8h.6M47.2 542.7h.6M74.6 554.2h.6M70.1 553.2h.6M63.3 547.9h.6M63.3 553.1h.6M61.7 549.9h.6M74.6 541.2h.6M57.0 551.4h.6M60.9 547.1h.6M79.8 550.5h.6M59.7 554.6h.6M83.1 541.3h.6M57.6 548.7h.6M57.9 561.0h.6M67.2 545.6h.6M66.9 543.2h.6M58.2 548.6h.6M82.1 534.5h.6M66.4 556.1h.6M68.9 559.5h.6M66.6 548.9h.6M61.9 542.9h.6M76.1 540.9h.6M62.0 544.9h.6M56.7 534.7h.6M59.9 548.8h.6M64.1 553.1h.6M61.7 544.2h.6M65.5 552.0h.6M55.8 538.9h.6M54.8 554.3h.6M71.0 542.7h.6M63.9 553.0h.6M73.6 544.0h.6M61.1 556.5h.6M82.3 557.2h.6M53.9 550.7h.6M60.6 547.6h.6M57.7 545.1h.6M62.9 558.8h.6M68.6 550.6h.6M63.2 543.5h.6M61.2 555.4h.6M69.6 559.8h.6M65.1 547.9h.6M50.1 550.4h.6M49.2 557.2h.6M58.0 548.0h.6M52.2 545.0h.6M55.5 554.8h.6M65.0 540.9h.6M47.6 547.6h.6M59.1 541.3h.6M67.7 546.9h.6M63.9 544.5h.6M58.4 545.2h.6M50.2 551.8h.6M66.2 537.7h.6M63.8 554.9h.6M64.9 555.8h.6M60.9 548.0h.6M52.6 542.6h.6M48.4 542.6h.6M65.0 551.1h.6M72.3 548.8h.6M55.1 550.6h.6M61.8 558.7h.6M78.7 553.8h.6M53.9 544.8h.6M64.5 543.7h.6M67.2 552.1h.6M69.7 549.4h.6M55.9 542.9h.6M62.0 556.0h.6M75.6 553.9h.6M65.9 552.1h.6M69.6 555.8h.6M69.8 538.8h.6M70.6 550.3h.6M59.3 551.2h.6M65.3 547.7h.6M49.5 548.7h.6M67.5 547.7h.6M50.3 550.7h.6M68.8 549.1h.6M66.4 545.9h.6M57.7 551.1h.6M60.2 549.1h.6M89.0 552.3h.6M64.1 538.3h.6M63.8 552.5h.6M57.4 546.6h.6M45.0 551.3h.6M58.2 552.1h.6M73.9 547.0h.6M70.9 549.5h.6M61.4 546.3h.6M56.2 555.7h.6M70.0 542.0h.6M69.7 543.6h.6M51.0 555.2h.6M52.8 555.1h.6M64.6 553.4h.6M67.1 554.9h.6M65.8 551.5h.6M65.0 554.6h.6M59.9 554.1h.6M75.1 547.6h.6M66.5 544.9h.6M60.7 549.6h.6M60.3 542.7h.6M62.8 549.1h.6M65.6 552.3h.6M48.8 556.5h.6M61.6 543.4h.6M60.0 550.7h.6M70.0 545.8h.6M64.3 538.4h.6M64.4 547.3h.6M59.6 553.3h.6M77.3 554.2h.6M56.7 557.2h.6M60.3 547.8h.6M58.4 550.7h.6M67.4 548.9h.6M61.3 547.1h.6M59.8 553.8h.6M58.8 547.1h.6M61.3 543.5h.6" stroke="#444" stroke-width="0.7" stroke-opacity="0.6" fill="none"/><path d="M61.0 532.3h.6M66.7 537.4h.6M60.3 539.9h.6M55.6 537.4h.6M67.3 534.7h.6M60.8 538.2h.6M63.6 536.7h.6M75.5 536.5h.6M48.0 534.2h.6M70.5 535.7h.6M53.3 531.1h.6M65.9 539.7h.6M51.8 530.6h.6M67.5 534.7h.6M60.4 535.2h.6M54.9 537.1h.6M71.2 536.9h.6M58.0 538.6h.6M62.0 537.4h.6M54.6 537.6h.6M69.7 539.2h.6M63.3 537.1h.6M57.9 538.2h.6M69.9 538.7h.6M59.6 533.0h.6M62.4 535.5h.6M56.4 537.5h.6M71.5 537.0h.6M72.9 537.0h.6M54.3 534.6h.6M59.9 537.7h.6M71.2 536.3h.6M72.0 534.0h.6M62.0 539.7h.6M67.0 538.6h.6M46.2 531.9h.6M55.3 538.5h.6M77.5 534.5h.6M54.3 533.5h.6M55.1 537.4h.6M60.2 540.6h.6M69.4 534.3h.6M65.1 535.6h.6M70.0 538.2h.6M59.9 538.2h.6M68.1 535.8h.6M65.3 537.7h.6M60.2 534.3h.6M74.3 536.0h.6M57.8 537.1h.6" stroke="#666" stroke-width="0.7" stroke-opacity="0.6" fill="none"/><path d="M48.1,539.6 L51.8,540.1 L52.1,558.1 L48.1,558.6 Z" fill="#0e0a16" fill-opacity="1.0"/><path d="M52.8 550.0h.6M51.5 551.5h.6M53.2 558.0h.6M52.1 545.9h.6M52.6 545.6h.6M53.1 553.2h.6M51.9 557.9h.6M52.8 555.3h.6M52.2 548.9h.6M52.6 550.3h.6M52.0 553.8h.6M52.0 549.7h.6M51.5 545.8h.6M52.2 543.0h.6M51.9 540.8h.6M51.4 540.9h.6M52.7 541.7h.6M52.3 548.2h.6M51.6 542.7h.6M52.5 556.1h.6M51.6 544.4h.6M51.6 549.2h.6M51.7 553.2h.6M52.4 544.4h.6M51.6 545.9h.6M52.3 554.0h.6M52.4 550.4h.6M53.0 547.6h.6M51.8 555.4h.6M52.7 554.8h.6M52.1 552.3h.6M52.1 544.0h.6M51.5 550.7h.6M51.6 557.5h.6M51.9 552.7h.6M51.5 547.6h.6M52.1 557.3h.6M52.1 558.4h.6M52.9 541.8h.6M51.9 540.4h.6M51.8 558.5h.6M53.0 541.9h.6M51.5 549.9h.6M51.6 548.8h.6M52.0 554.8h.6M52.0 555.5h.6M51.6 551.3h.6M52.4 554.1h.6M52.4 552.8h.6M51.5 550.0h.6M51.6 542.9h.6M51.9 541.6h.6M52.1 548.9h.6M51.7 541.9h.6M51.5 550.4h.6M51.6 542.3h.6M52.0 543.9h.6" stroke="#0e0a16" stroke-width="0.8" stroke-opacity="0.9" fill="none"/><rect x="48.7" y="541.6" width="1.2" height="15" fill="#2c1870"/><rect x="48.25" y="542.6" width="0.45" height="13" fill="#e06030" fill-opacity="0.8"/><line x1="53.3" y1="515.6" x2="53.3" y2="569.6" stroke="#4c5cc0" stroke-width="1.2"/><line x1="42.4" y1="538.8" x2="97.6" y2="538.8" stroke="#4c5cc0" stroke-width="1.2"/><text x="44.6" y="524.3" font-size="6.9" fill="#333" textLength="18.2" lengthAdjust="spacingAndGlyphs" stroke="#333" stroke-width="0.16">2.00%</text><text x="76.4" y="524.3" font-size="6.9" fill="#333" textLength="17.4" lengthAdjust="spacingAndGlyphs" stroke="#333" stroke-width="0.16">1.50%</text><text x="44.6" y="567.5" font-size="6.9" fill="#333" textLength="21.8" lengthAdjust="spacingAndGlyphs" stroke="#333" stroke-width="0.16">92.27%</text><text x="75.9" y="567.5" font-size="6.9" fill="#333" textLength="17.9" lengthAdjust="spacingAndGlyphs" stroke="#333" stroke-width="0.16">4.24%</text>
<rect x="103" y="516.4" width="54.2" height="53.4" fill="#fff" stroke="#555" stroke-width="0.9"/><path d="M100.2,568.8h2.8M104,569.8v2.8M101.5,565.01h1.5M107.85,569.8v1.5M101.5,562.79h1.5M110.11,569.8v1.5M101.5,561.21h1.5M111.71,569.8v1.5M101.5,559.99h1.5M112.95,569.8v1.5M101.5,559h1.5M113.96,569.8v1.5M101.5,558.15h1.5M114.82,569.8v1.5M101.5,557.42h1.5M115.56,569.8v1.5M101.5,556.78h1.5M116.21,569.8v1.5M100.2,556.2h2.8M116.8,569.8v2.8M101.5,552.41h1.5M120.65,569.8v1.5M101.5,550.19h1.5M122.91,569.8v1.5M101.5,548.61h1.5M124.51,569.8v1.5M101.5,547.39h1.5M125.75,569.8v1.5M101.5,546.4h1.5M126.76,569.8v1.5M101.5,545.55h1.5M127.62,569.8v1.5M101.5,544.82h1.5M128.36,569.8v1.5M101.5,544.18h1.5M129.01,569.8v1.5M100.2,543.6h2.8M129.6,569.8v2.8M101.5,539.81h1.5M133.45,569.8v1.5M101.5,537.59h1.5M135.71,569.8v1.5M101.5,536.01h1.5M137.31,569.8v1.5M101.5,534.79h1.5M138.55,569.8v1.5M101.5,533.8h1.5M139.56,569.8v1.5M101.5,532.95h1.5M140.42,569.8v1.5M101.5,532.22h1.5M141.16,569.8v1.5M101.5,531.58h1.5M141.81,569.8v1.5M100.2,531h2.8M142.4,569.8v2.8M101.5,527.21h1.5M146.25,569.8v1.5M101.5,524.99h1.5M148.51,569.8v1.5M101.5,523.41h1.5M150.11,569.8v1.5M101.5,522.19h1.5M151.35,569.8v1.5M101.5,521.2h1.5M152.36,569.8v1.5M101.5,520.35h1.5M153.22,569.8v1.5M101.5,519.62h1.5M153.96,569.8v1.5M101.5,518.98h1.5M154.61,569.8v1.5" stroke="#333" stroke-width="0.75" fill="none"/><path d="M117.6 538.0h.6M125.2 535.0h.6M133.3 537.3h.6M125.2 544.6h.6M123.8 531.7h.6M118.1 534.8h.6M131.3 540.6h.6M134.4 544.8h.6M138.2 539.8h.6M135.8 539.9h.6M123.6 540.7h.6M127.7 536.3h.6M140.4 540.5h.6M124.2 536.9h.6M142.7 536.2h.6M132.2 539.9h.6M130.7 539.7h.6M124.2 535.3h.6M126.3 535.7h.6M132.7 543.8h.6M121.5 539.6h.6M120.9 534.3h.6M125.8 537.7h.6M124.5 526.1h.6M136.5 536.1h.6M123.2 540.1h.6M123.4 531.2h.6M130.6 539.0h.6M121.9 540.8h.6M129.8 532.4h.6M138.9 538.4h.6M119.9 539.2h.6M128.2 541.4h.6M118.5 541.7h.6M133.6 540.2h.6M131.4 542.8h.6M132.1 537.8h.6M121.8 542.0h.6M133.8 538.5h.6M128.4 540.3h.6M110.8 538.6h.6M110.9 538.2h.6M134.3 545.3h.6M124.2 539.0h.6M126.9 527.7h.6M132.1 537.1h.6M127.8 533.2h.6M127.0 537.6h.6M135.7 538.5h.6M150.3 535.5h.6M125.6 537.0h.6M122.0 543.6h.6M131.6 531.8h.6M128.0 542.1h.6M118.0 537.8h.6M125.7 547.1h.6M130.0 535.5h.6M123.6 545.2h.6M124.2 546.9h.6M117.0 536.4h.6M125.7 534.2h.6M125.9 540.1h.6M122.9 531.1h.6M136.2 543.5h.6M122.8 538.5h.6M110.4 541.6h.6M118.5 534.8h.6M141.6 531.8h.6M127.4 532.6h.6M115.1 532.2h.6M129.1 531.6h.6M123.4 540.3h.6M126.3 531.6h.6M137.2 537.7h.6M136.6 532.7h.6M138.4 531.5h.6M115.8 535.4h.6M124.9 538.3h.6M123.6 539.9h.6M136.1 534.4h.6M118.2 535.5h.6M132.7 540.7h.6M125.0 533.0h.6M127.2 541.3h.6M122.6 542.7h.6M128.8 538.4h.6M123.2 543.0h.6M127.6 530.8h.6M132.7 535.4h.6M134.4 537.9h.6M123.2 537.9h.6M124.1 533.7h.6M127.4 540.7h.6M127.8 536.8h.6M123.6 539.6h.6M129.1 541.3h.6M129.7 546.3h.6M116.9 537.0h.6M130.8 541.0h.6M117.2 532.0h.6M127.0 541.7h.6M134.5 530.7h.6M128.1 542.2h.6M127.5 532.8h.6M122.6 531.5h.6M135.1 536.1h.6M124.5 533.5h.6M126.4 533.3h.6M120.9 537.0h.6M125.8 539.1h.6M128.2 542.2h.6M127.0 538.3h.6M128.8 533.7h.6M135.1 534.8h.6M116.9 542.5h.6M131.6 534.8h.6M133.5 541.3h.6M131.9 532.2h.6M128.4 532.8h.6M123.2 534.8h.6M121.7 539.3h.6M122.1 539.8h.6M128.4 534.6h.6M128.4 540.1h.6M134.8 536.1h.6M138.7 539.6h.6M135.4 531.4h.6M120.3 542.3h.6M125.8 539.1h.6M135.1 531.0h.6M130.2 545.4h.6M132.5 537.6h.6M131.0 537.2h.6M132.3 542.7h.6M125.8 539.6h.6M129.3 540.3h.6M132.8 532.6h.6M134.9 540.8h.6M120.1 536.0h.6M117.7 535.9h.6M129.4 532.3h.6M122.2 533.5h.6M122.7 533.9h.6M120.3 539.6h.6M125.9 533.7h.6M133.7 534.8h.6M133.1 531.9h.6M136.5 535.3h.6M121.1 538.9h.6M118.5 532.6h.6M128.8 535.1h.6M129.9 537.8h.6M128.9 537.7h.6M131.9 537.2h.6M134.5 541.2h.6M114.4 529.7h.6M137.4 535.3h.6M128.5 536.7h.6M129.1 546.5h.6M122.6 537.4h.6M127.3 532.6h.6M121.5 536.0h.6M127.1 538.8h.6M114.4 530.5h.6M138.0 536.4h.6M132.6 535.4h.6M122.6 546.1h.6M119.2 533.3h.6M131.7 537.2h.6M116.5 537.8h.6M132.0 530.7h.6M123.6 540.5h.6M139.7 527.3h.6M122.7 537.3h.6M121.3 533.3h.6M124.0 539.3h.6M120.3 540.8h.6M132.7 540.7h.6M137.3 535.0h.6M126.9 541.4h.6M135.5 541.1h.6M124.3 535.1h.6M118.6 535.3h.6M121.4 535.1h.6M124.8 540.7h.6M132.8 536.9h.6M119.8 536.9h.6M130.1 540.8h.6M128.6 540.6h.6M123.0 539.9h.6M132.0 535.7h.6M122.3 542.3h.6M120.7 540.0h.6M125.5 535.7h.6M125.6 535.3h.6M127.0 544.7h.6M136.7 536.6h.6M130.3 541.0h.6M124.5 544.9h.6M127.5 539.8h.6M121.0 532.4h.6M120.7 534.4h.6M134.0 535.8h.6M133.0 535.4h.6M121.0 537.9h.6M124.6 530.2h.6M127.5 542.1h.6M125.9 532.1h.6M122.3 532.0h.6M125.6 533.2h.6M126.5 537.9h.6M135.9 532.3h.6M113.9 544.0h.6M130.0 535.6h.6M130.5 533.2h.6M125.0 540.0h.6M125.2 537.7h.6M130.1 537.7h.6M125.7 539.3h.6M135.9 542.5h.6M121.5 540.3h.6M114.8 531.2h.6M129.8 539.4h.6M136.1 529.9h.6M134.2 534.9h.6M124.2 539.0h.6M136.4 533.2h.6M116.1 534.6h.6M126.5 542.2h.6M129.6 535.9h.6M123.9 535.2h.6M133.5 530.2h.6M122.7 533.5h.6M134.5 537.7h.6M122.8 540.3h.6M139.9 541.4h.6M118.7 536.3h.6M134.6 529.5h.6M119.2 535.4h.6M130.6 533.7h.6M128.2 536.5h.6M129.3 532.1h.6M112.8 528.1h.6M128.3 541.2h.6M130.3 530.4h.6M115.9 535.9h.6M121.2 529.4h.6M123.4 533.8h.6M126.4 538.7h.6M128.4 537.9h.6M130.5 536.6h.6M124.2 535.6h.6M134.8 535.9h.6M132.4 544.1h.6M138.5 528.1h.6M128.1 541.2h.6M124.2 534.1h.6M117.8 534.2h.6M127.1 529.2h.6M127.0 533.6h.6M127.2 532.5h.6M127.6 537.8h.6M122.6 534.3h.6M133.3 539.7h.6M122.0 538.9h.6M119.6 534.9h.6M108.1 534.7h.6M131.5 535.0h.6M130.9 534.4h.6M129.1 536.4h.6M120.8 545.9h.6M121.6 531.4h.6M127.9 539.1h.6M129.3 536.6h.6M130.1 541.0h.6M131.1 531.3h.6M138.3 536.9h.6M113.8 540.6h.6M126.1 538.2h.6M140.0 534.8h.6M123.0 532.9h.6M128.3 539.8h.6M129.6 537.8h.6M113.3 538.2h.6M134.1 534.9h.6M123.6 532.8h.6M128.7 530.5h.6M139.5 536.2h.6M123.2 532.0h.6M130.6 541.1h.6M123.4 537.8h.6M129.0 541.1h.6M131.1 542.2h.6M117.9 548.0h.6M123.8 532.4h.6M121.1 538.7h.6M132.1 547.3h.6M135.1 533.9h.6M124.9 535.1h.6M123.2 536.3h.6M123.1 542.0h.6M129.3 539.7h.6M126.1 532.2h.6M129.9 535.4h.6M140.0 542.2h.6M119.2 532.9h.6M123.5 536.2h.6M134.5 536.3h.6M130.1 535.7h.6M125.7 542.2h.6M127.2 545.3h.6M126.8 538.7h.6M129.7 539.9h.6M139.6 534.2h.6M123.7 533.1h.6M138.9 539.0h.6M130.1 539.0h.6M115.1 540.3h.6M128.0 538.4h.6M127.7 536.7h.6M126.6 534.7h.6M125.7 539.7h.6M113.4 540.5h.6M131.3 532.6h.6M130.4 538.4h.6M123.8 544.2h.6M128.3 536.5h.6M118.7 546.2h.6M128.5 538.4h.6M125.6 545.8h.6M126.1 543.7h.6M134.0 541.2h.6M131.3 541.9h.6M126.4 528.4h.6M109.7 541.8h.6M113.8 542.7h.6M147.2 529.2h.6M131.1 539.1h.6M122.5 528.8h.6M126.5 544.2h.6M126.4 537.1h.6M127.7 537.3h.6M129.0 546.7h.6M121.4 529.4h.6M132.6 534.9h.6M123.9 531.2h.6M126.0 535.3h.6M129.9 535.4h.6M117.7 539.2h.6M126.6 529.1h.6M124.9 540.3h.6M126.7 535.7h.6M131.0 534.4h.6M122.6 539.3h.6M126.1 534.5h.6M128.6 538.2h.6M133.2 541.3h.6M127.7 537.0h.6M121.1 537.9h.6M124.8 540.6h.6" stroke="#333" stroke-width="0.7" stroke-opacity="0.7" fill="none"/><path d="M125.9 549.0h.6M120.8 547.1h.6M130.1 555.3h.6M117.6 528.2h.6M124.8 536.0h.6M121.4 547.8h.6M130.1 544.1h.6M120.4 541.7h.6M122.9 537.8h.6M124.5 547.2h.6M129.2 543.3h.6M123.1 546.3h.6M121.0 539.4h.6M117.8 545.4h.6M124.1 551.3h.6M117.5 546.7h.6M124.8 550.3h.6M122.6 546.4h.6M119.1 545.3h.6M120.0 534.8h.6M116.9 530.8h.6M124.2 550.4h.6M119.0 546.2h.6M122.1 543.7h.6M130.0 544.0h.6M123.1 544.8h.6M133.1 535.4h.6M122.4 537.2h.6M116.9 539.5h.6M125.8 538.7h.6M115.2 543.2h.6M115.5 539.2h.6M130.6 541.2h.6M116.4 553.4h.6M121.7 551.8h.6M111.5 543.4h.6M124.0 546.5h.6M124.4 552.6h.6M124.7 551.7h.6M125.7 540.7h.6M122.3 553.0h.6M115.5 548.4h.6M125.0 553.2h.6M111.2 559.4h.6M111.9 545.2h.6M136.3 537.1h.6M134.6 546.8h.6M132.6 553.9h.6M122.1 540.5h.6M119.3 537.5h.6M113.0 547.5h.6M112.5 547.4h.6M120.8 544.4h.6M115.0 537.8h.6M126.0 539.5h.6M117.8 544.1h.6M125.3 557.0h.6M132.9 549.9h.6M125.2 549.1h.6M119.9 544.0h.6M110.9 548.5h.6M118.2 547.5h.6M134.6 550.3h.6M128.1 550.4h.6M117.8 541.3h.6M112.5 541.8h.6M122.2 549.3h.6M124.6 543.1h.6M114.4 545.5h.6M123.1 533.3h.6M121.7 536.6h.6M118.5 544.3h.6M115.3 542.1h.6M121.2 539.2h.6M125.2 549.1h.6M124.4 538.9h.6M120.0 543.2h.6M121.8 549.6h.6M118.0 545.3h.6M126.1 543.2h.6M125.4 545.0h.6M112.7 544.9h.6M122.0 542.7h.6M132.6 542.8h.6M112.4 544.2h.6M119.8 548.2h.6M136.3 546.0h.6M126.0 540.9h.6M115.5 540.9h.6M120.0 542.5h.6M121.1 541.3h.6M114.0 540.5h.6M125.8 538.2h.6M125.8 554.9h.6M115.6 550.5h.6M126.1 529.3h.6M126.2 549.0h.6M116.4 555.7h.6M110.4 552.9h.6M122.7 539.0h.6M121.8 536.0h.6M124.7 548.4h.6M128.5 553.5h.6M117.0 548.1h.6M117.4 527.8h.6M126.8 552.1h.6M122.4 555.5h.6M120.7 534.7h.6M118.3 543.5h.6M122.7 542.7h.6M107.7 537.7h.6M120.2 551.8h.6M117.1 537.3h.6M118.2 550.6h.6M128.6 539.2h.6M125.2 553.0h.6M125.9 538.5h.6M124.7 542.1h.6M118.0 556.7h.6M120.9 548.1h.6M128.4 555.0h.6M122.8 541.4h.6M120.8 541.0h.6M120.4 544.4h.6M112.1 540.4h.6M112.6 544.7h.6M125.9 549.5h.6M122.2 539.3h.6M120.7 536.9h.6M124.5 535.8h.6M117.2 555.4h.6M123.6 539.2h.6M119.8 538.9h.6M116.3 542.6h.6M116.0 546.2h.6M127.5 539.9h.6M115.5 540.2h.6M117.4 545.8h.6M117.1 539.8h.6M117.0 551.0h.6M126.9 551.3h.6M122.2 539.4h.6M129.3 558.4h.6M117.2 541.4h.6M127.6 549.2h.6M123.5 557.6h.6M120.0 540.3h.6M118.9 546.4h.6M122.2 552.6h.6M125.7 540.7h.6M125.5 543.9h.6M130.1 551.9h.6M117.5 548.4h.6M113.2 547.8h.6M121.5 547.8h.6M113.8 540.0h.6M117.7 543.7h.6M125.1 540.1h.6M108.9 541.7h.6M125.7 550.2h.6M113.4 548.9h.6M121.7 549.4h.6M122.1 552.6h.6M116.7 558.1h.6M127.7 538.0h.6M111.7 551.2h.6M111.6 540.3h.6M123.9 544.1h.6M121.9 532.0h.6M116.5 548.1h.6" stroke="#444" stroke-width="0.7" stroke-opacity="0.6" fill="none"/><path d="M138.7 552.1h.6M122.3 550.6h.6M130.2 553.2h.6M114.9 540.1h.6M120.1 548.0h.6M136.7 545.7h.6M128.0 540.0h.6M128.2 543.5h.6M122.2 548.9h.6M122.7 550.0h.6M112.7 552.9h.6M114.7 549.7h.6M115.0 549.8h.6M121.0 548.9h.6M115.5 556.0h.6M120.5 550.3h.6M104.3 552.9h.6M109.2 548.9h.6M105.4 559.4h.6M107.6 548.6h.6M111.7 543.5h.6M107.7 557.2h.6M139.0 549.2h.6M128.4 547.4h.6M113.1 559.0h.6M126.9 544.1h.6M120.9 549.7h.6M119.4 549.4h.6M116.4 549.4h.6M118.3 548.2h.6M115.6 557.6h.6M118.2 548.7h.6M123.7 549.9h.6M111.2 554.1h.6M111.8 546.5h.6M124.9 548.7h.6M115.9 549.8h.6M114.7 546.7h.6M112.1 543.5h.6M113.6 549.9h.6M117.4 548.9h.6M128.8 547.4h.6M106.7 550.1h.6M135.8 535.1h.6M119.5 544.1h.6M109.5 553.7h.6M121.2 549.5h.6M111.0 547.1h.6M112.5 557.3h.6M121.1 539.6h.6M118.9 557.1h.6M115.2 548.3h.6M121.0 552.1h.6M125.3 546.6h.6M118.5 553.1h.6M113.2 548.0h.6M124.2 548.5h.6M113.6 557.9h.6M122.8 548.3h.6M128.9 549.4h.6M121.7 545.5h.6M137.7 554.2h.6M139.6 561.0h.6M107.1 552.9h.6M105.0 551.6h.6M121.9 546.9h.6M126.8 550.5h.6M119.0 548.5h.6M129.0 552.2h.6M128.5 551.4h.6" stroke="#666" stroke-width="0.7" stroke-opacity="0.55" fill="none"/><path d="M110.3 533.6h.6M111.0 533.0h.6M110.1 537.0h.6M111.0 534.3h.6M111.0 533.9h.6M112.1 534.4h.6M110.8 531.9h.6M110.1 531.5h.6M111.2 536.4h.6M111.4 534.0h.6M110.8 535.8h.6M110.4 530.5h.6M112.7 536.2h.6M111.7 537.0h.6M110.0 534.8h.6M110.3 537.7h.6M111.0 533.1h.6M111.1 542.1h.6M110.8 536.2h.6M112.9 532.5h.6M111.1 538.1h.6M111.4 533.4h.6M110.8 535.2h.6M111.7 537.6h.6M108.8 535.1h.6M110.1 535.7h.6M110.4 535.9h.6M109.3 535.5h.6M111.3 538.2h.6M112.3 534.9h.6M110.2 538.4h.6M111.2 535.8h.6M111.4 531.2h.6M109.9 532.6h.6M109.7 539.0h.6M108.9 534.5h.6M110.7 532.7h.6M111.2 532.8h.6M109.4 531.7h.6M112.1 533.9h.6" stroke="#555" stroke-width="0.7" stroke-opacity="0.7" fill="none"/><path d="M109.1,539 L112,539.5 L112.3,558.3 L109.1,558.8 Z" fill="#0e0a16" fill-opacity="1.0"/><path d="M111.8 555.4h.6M112.2 545.1h.6M112.4 547.3h.6M112.6 553.6h.6M112.1 557.9h.6M112.7 542.4h.6M112.4 541.6h.6M112.2 541.9h.6M112.1 541.7h.6M112.8 551.6h.6M112.2 555.8h.6M112.2 553.7h.6M112.3 549.1h.6M111.9 551.8h.6M111.7 539.0h.6M113.1 542.1h.6M112.9 549.2h.6M111.6 541.3h.6M112.0 545.1h.6M113.4 544.4h.6M112.4 549.2h.6M112.0 547.8h.6M112.1 543.7h.6M111.6 555.4h.6M113.5 548.8h.6M112.0 546.2h.6M112.9 551.8h.6M112.6 552.9h.6M112.7 544.1h.6M112.1 553.5h.6M112.2 546.6h.6M111.9 554.1h.6M111.7 555.0h.6M111.9 543.8h.6M111.8 548.1h.6M111.8 548.0h.6M112.2 542.7h.6M113.1 557.4h.6M112.5 539.4h.6M111.6 540.4h.6M112.5 554.4h.6M111.8 547.1h.6M111.6 558.6h.6M112.2 554.1h.6M111.9 547.8h.6M112.2 554.0h.6M112.1 545.9h.6M112.2 555.1h.6M113.0 553.0h.6M112.1 549.2h.6M113.7 545.4h.6M112.3 553.9h.6M111.9 540.3h.6M113.2 552.7h.6M112.0 557.0h.6M112.0 544.3h.6M112.4 541.2h.6M111.8 544.8h.6M112.7 553.8h.6" stroke="#0e0a16" stroke-width="0.8" stroke-opacity="0.9" fill="none"/><rect x="109.7" y="541" width="1.2" height="15.8" fill="#2c1870"/><rect x="109.25" y="542" width="0.45" height="13.8" fill="#f0c040" fill-opacity="0.8"/><line x1="113.4" y1="515.6" x2="113.4" y2="569.8" stroke="#4c5cc0" stroke-width="1.2"/><line x1="103" y1="539.6" x2="158.2" y2="539.6" stroke="#4c5cc0" stroke-width="1.2"/><text x="104.9" y="524.3" font-size="6.9" fill="#333" textLength="17.7" lengthAdjust="spacingAndGlyphs" stroke="#333" stroke-width="0.16">3.46%</text><text x="137" y="524.3" font-size="6.9" fill="#333" textLength="17.4" lengthAdjust="spacingAndGlyphs" stroke="#333" stroke-width="0.16">5.40%</text><text x="104.9" y="567.7" font-size="6.9" fill="#333" textLength="22.1" lengthAdjust="spacingAndGlyphs" stroke="#333" stroke-width="0.16">86.78%</text><text x="137" y="567.7" font-size="6.9" fill="#333" textLength="17.4" lengthAdjust="spacingAndGlyphs" stroke="#333" stroke-width="0.16">4.35%</text>
<rect x="163.4" y="516.4" width="54" height="53.4" fill="#fff" stroke="#555" stroke-width="0.9"/><path d="M160.6,568.8h2.8M164.4,569.8v2.8M161.9,565.01h1.5M168.24,569.8v1.5M161.9,562.79h1.5M170.48,569.8v1.5M161.9,561.21h1.5M172.08,569.8v1.5M161.9,559.99h1.5M173.31,569.8v1.5M161.9,559h1.5M174.32,569.8v1.5M161.9,558.15h1.5M175.18,569.8v1.5M161.9,557.42h1.5M175.91,569.8v1.5M161.9,556.78h1.5M176.57,569.8v1.5M160.6,556.2h2.8M177.15,569.8v2.8M161.9,552.41h1.5M180.99,569.8v1.5M161.9,550.19h1.5M183.23,569.8v1.5M161.9,548.61h1.5M184.83,569.8v1.5M161.9,547.39h1.5M186.06,569.8v1.5M161.9,546.4h1.5M187.07,569.8v1.5M161.9,545.55h1.5M187.93,569.8v1.5M161.9,544.82h1.5M188.66,569.8v1.5M161.9,544.18h1.5M189.32,569.8v1.5M160.6,543.6h2.8M189.9,569.8v2.8M161.9,539.81h1.5M193.74,569.8v1.5M161.9,537.59h1.5M195.98,569.8v1.5M161.9,536.01h1.5M197.58,569.8v1.5M161.9,534.79h1.5M198.81,569.8v1.5M161.9,533.8h1.5M199.82,569.8v1.5M161.9,532.95h1.5M200.68,569.8v1.5M161.9,532.22h1.5M201.41,569.8v1.5M161.9,531.58h1.5M202.07,569.8v1.5M160.6,531h2.8M202.65,569.8v2.8M161.9,527.21h1.5M206.49,569.8v1.5M161.9,524.99h1.5M208.73,569.8v1.5M161.9,523.41h1.5M210.33,569.8v1.5M161.9,522.19h1.5M211.56,569.8v1.5M161.9,521.2h1.5M212.57,569.8v1.5M161.9,520.35h1.5M213.43,569.8v1.5M161.9,519.62h1.5M214.16,569.8v1.5M161.9,518.98h1.5M214.82,569.8v1.5" stroke="#333" stroke-width="0.75" fill="none"/><path d="M181.9 550.9h.6M176.6 530.0h.6M184.6 545.1h.6M185.7 544.4h.6M182.1 537.6h.6M177.4 540.6h.6M180.3 547.8h.6M187.9 533.0h.6M188.5 541.0h.6M191.7 550.6h.6M187.5 529.7h.6M188.2 531.0h.6M195.2 536.3h.6M181.9 553.6h.6M170.0 543.0h.6M175.2 538.9h.6M177.3 546.6h.6M181.0 544.1h.6M188.2 530.0h.6M193.9 539.1h.6M170.8 538.4h.6M190.0 547.6h.6M178.1 542.8h.6M185.2 548.3h.6M182.3 548.2h.6M176.6 537.5h.6M188.4 546.0h.6M183.0 545.7h.6M184.9 546.6h.6M192.3 544.3h.6M189.6 538.5h.6M179.1 526.5h.6M186.5 541.6h.6M187.4 529.0h.6M179.7 538.3h.6M169.6 548.9h.6M192.7 532.5h.6M186.8 552.8h.6M174.1 549.0h.6M195.5 552.9h.6M172.9 535.6h.6M185.0 549.5h.6M173.7 537.6h.6M174.8 549.7h.6M179.1 545.8h.6M188.3 548.9h.6M186.6 543.6h.6M192.3 544.1h.6M173.7 539.0h.6M190.3 542.0h.6M180.7 543.5h.6M208.8 539.1h.6M187.1 544.4h.6M181.3 549.8h.6M190.0 543.8h.6M173.0 550.9h.6M189.3 540.6h.6M174.0 541.0h.6M179.5 536.5h.6M191.2 541.8h.6M192.9 534.4h.6M181.9 550.9h.6M185.9 536.6h.6M176.5 538.3h.6M182.7 546.3h.6M184.5 546.6h.6M189.8 541.9h.6M193.3 545.7h.6M181.9 540.7h.6M183.2 536.8h.6M173.0 542.8h.6M179.4 545.9h.6M178.8 542.7h.6M184.9 538.4h.6M184.8 536.7h.6M180.1 547.3h.6M186.3 541.4h.6M177.3 546.8h.6M198.7 525.9h.6M191.4 542.4h.6M191.8 548.7h.6M175.5 553.9h.6M178.8 540.4h.6M188.2 540.7h.6M185.4 538.0h.6M175.3 542.4h.6M174.9 551.3h.6M185.2 550.8h.6M173.7 528.7h.6M165.8 540.6h.6M173.4 544.9h.6M172.1 533.4h.6M185.5 538.8h.6M188.5 546.5h.6M186.0 533.3h.6M176.6 557.2h.6M181.6 543.7h.6M184.3 541.4h.6M182.0 538.0h.6M179.3 528.6h.6M196.1 539.8h.6M173.2 545.9h.6M188.4 531.6h.6M179.3 551.9h.6M187.5 544.1h.6M191.0 540.1h.6M181.0 552.4h.6M181.9 541.2h.6M188.2 541.4h.6M173.8 555.0h.6M182.7 553.6h.6M187.2 535.3h.6M195.2 539.4h.6M176.7 542.0h.6M166.8 545.7h.6M177.7 540.4h.6M176.4 546.7h.6M186.1 548.5h.6M196.1 542.4h.6M184.0 543.6h.6M177.0 538.5h.6M189.1 535.4h.6M168.4 540.6h.6M185.3 551.2h.6M177.8 535.9h.6M184.0 540.5h.6M185.2 538.0h.6M184.8 537.6h.6M190.8 542.8h.6M187.7 538.3h.6M172.3 542.6h.6M182.9 548.9h.6M190.7 540.7h.6M182.9 535.1h.6M182.9 543.0h.6M180.1 534.7h.6M193.1 534.6h.6M195.9 548.3h.6M195.1 535.0h.6M188.0 532.0h.6M180.5 531.7h.6M177.6 538.7h.6M190.6 548.0h.6M180.4 539.9h.6M176.0 534.7h.6M169.6 541.3h.6M187.7 536.1h.6M186.0 533.7h.6M175.5 538.7h.6M189.9 537.5h.6M189.0 538.7h.6M174.7 529.1h.6M179.6 535.5h.6M190.1 543.8h.6M170.7 548.1h.6M187.2 522.1h.6M175.2 543.8h.6M171.0 537.8h.6M187.1 542.8h.6M186.5 545.2h.6M176.4 557.7h.6M187.1 555.1h.6M181.1 545.3h.6M185.7 540.3h.6M185.5 543.0h.6M189.3 543.0h.6M183.5 544.6h.6M194.1 541.0h.6M187.7 542.0h.6M168.2 536.9h.6M176.2 533.0h.6M178.4 530.4h.6M185.1 537.8h.6M192.4 543.1h.6M173.5 540.9h.6M183.4 537.0h.6M180.3 534.6h.6M177.5 543.7h.6M180.6 549.5h.6M167.1 537.6h.6M180.3 551.3h.6M191.4 545.6h.6M190.4 551.1h.6M188.1 539.4h.6M184.4 536.6h.6M181.3 543.9h.6M179.2 542.4h.6M179.7 533.1h.6M172.2 546.8h.6M183.2 546.7h.6M182.2 541.3h.6M184.9 539.0h.6M193.3 546.9h.6M185.9 534.3h.6M178.9 543.0h.6M191.6 540.3h.6M182.7 544.7h.6M183.7 540.2h.6M174.4 549.9h.6M182.4 537.9h.6M182.0 532.7h.6M170.2 530.8h.6M185.6 532.4h.6M183.6 533.4h.6M169.4 538.3h.6M177.2 537.2h.6M195.6 541.3h.6M178.2 547.1h.6M180.3 549.2h.6M171.0 549.1h.6M174.5 537.1h.6M184.2 534.0h.6M170.3 539.6h.6M180.4 530.7h.6M189.9 535.1h.6M177.9 540.0h.6M182.9 547.9h.6M166.4 542.5h.6M189.2 542.0h.6M182.0 533.9h.6M185.1 537.7h.6M183.6 534.1h.6M180.2 540.3h.6M171.4 548.6h.6M181.6 532.8h.6M180.6 542.0h.6M179.9 534.5h.6M180.8 532.4h.6M170.0 549.7h.6M195.3 552.0h.6M199.5 548.3h.6M175.5 537.9h.6M190.8 537.2h.6M179.9 541.1h.6M185.7 531.9h.6M182.7 544.1h.6M167.1 549.6h.6M188.3 535.2h.6M196.2 542.5h.6M186.1 550.7h.6M190.5 549.5h.6M182.2 539.8h.6M176.8 539.3h.6M176.1 526.0h.6M178.1 534.9h.6M178.0 538.4h.6M178.8 542.0h.6M182.0 538.7h.6M177.8 540.7h.6M180.1 540.4h.6M192.8 541.7h.6M179.5 528.0h.6M171.6 522.8h.6M189.1 547.5h.6M179.4 538.2h.6M186.0 544.4h.6M169.4 540.5h.6M180.1 533.0h.6M193.1 544.9h.6M177.9 541.1h.6M178.4 538.1h.6M179.5 547.9h.6M182.5 537.9h.6M177.4 543.1h.6M175.9 531.1h.6M181.4 551.4h.6M177.4 542.5h.6M181.0 549.1h.6M186.1 532.5h.6M195.6 539.9h.6M175.6 538.3h.6M183.0 547.9h.6M180.4 536.4h.6M192.4 550.3h.6M179.8 542.1h.6M185.3 538.8h.6M175.6 548.3h.6M174.3 529.8h.6M186.9 548.1h.6M188.6 535.5h.6M180.6 534.1h.6M178.5 525.4h.6M175.9 550.5h.6M173.7 553.0h.6M183.8 528.2h.6M189.6 534.2h.6M186.7 539.5h.6M179.9 540.1h.6M172.6 536.9h.6M179.5 552.8h.6M178.2 543.5h.6M185.9 548.7h.6M180.8 542.5h.6M175.5 558.1h.6M171.3 543.7h.6M179.9 542.3h.6M178.6 538.5h.6M190.0 546.6h.6M182.0 540.2h.6M183.9 540.4h.6M185.9 545.7h.6M186.1 530.5h.6M182.2 534.2h.6M185.9 538.9h.6M184.8 540.3h.6M189.6 549.2h.6M183.9 531.3h.6M182.6 554.0h.6M177.4 541.0h.6M201.0 550.5h.6M187.5 542.1h.6M172.7 552.6h.6M189.5 529.5h.6M181.7 540.3h.6M182.1 536.8h.6M201.3 533.8h.6M193.6 544.3h.6M182.7 544.0h.6M188.2 535.6h.6M179.8 549.2h.6M189.7 543.0h.6M173.6 531.3h.6M193.9 549.5h.6M186.5 543.4h.6M180.2 544.6h.6M191.7 545.3h.6M178.6 543.8h.6M178.7 541.0h.6M174.4 526.5h.6M174.8 543.1h.6M176.7 545.2h.6M178.5 543.4h.6M179.2 550.8h.6M179.7 541.6h.6M191.3 550.0h.6M174.0 551.4h.6M174.7 535.6h.6M176.4 548.2h.6M174.7 545.6h.6M185.9 539.7h.6M186.2 554.3h.6M194.8 534.7h.6M184.7 538.5h.6M181.7 537.8h.6M186.8 535.3h.6M173.4 542.3h.6M185.2 548.8h.6M187.8 535.2h.6M175.9 543.9h.6M184.7 545.7h.6M192.7 525.9h.6M178.1 545.1h.6M174.7 552.7h.6M182.1 545.1h.6M181.2 543.6h.6M185.8 544.5h.6M172.5 529.8h.6M182.2 546.4h.6M180.9 540.3h.6M190.8 544.8h.6M175.7 542.9h.6M181.2 541.8h.6M182.2 545.1h.6M182.7 543.4h.6M183.0 539.9h.6M178.5 543.4h.6M186.2 551.1h.6M201.4 535.3h.6M177.9 548.4h.6M179.7 542.3h.6M173.4 545.9h.6M171.9 548.7h.6M176.6 543.3h.6M190.2 535.2h.6M182.0 555.0h.6M172.4 543.0h.6M168.0 544.8h.6M181.6 534.1h.6M173.9 550.1h.6M187.8 533.0h.6M188.9 534.8h.6M176.9 544.4h.6M182.0 544.7h.6M190.9 536.5h.6M186.9 542.8h.6M170.4 547.4h.6M190.3 531.7h.6M180.4 547.8h.6M189.5 538.3h.6M181.1 539.4h.6M173.7 542.7h.6M198.6 530.7h.6M182.6 535.2h.6M194.1 529.7h.6M189.5 543.5h.6M176.4 539.8h.6M183.3 552.3h.6M184.9 548.7h.6M190.8 541.2h.6M183.1 540.8h.6M195.1 548.6h.6M190.2 536.4h.6M180.7 546.4h.6M181.5 532.6h.6M171.6 545.2h.6M188.5 544.2h.6M194.4 530.1h.6M169.5 543.1h.6M189.3 535.2h.6M184.7 543.2h.6M179.2 536.1h.6M180.3 540.9h.6M188.2 538.8h.6M175.5 534.9h.6M179.3 544.8h.6M176.3 539.4h.6M186.6 542.5h.6M198.0 543.0h.6M187.4 554.5h.6M168.7 531.2h.6M176.8 542.4h.6M191.5 544.8h.6M178.7 532.2h.6M185.4 539.2h.6M175.4 533.6h.6M187.8 538.8h.6M184.1 540.2h.6M176.8 538.4h.6M177.9 540.9h.6M177.3 545.4h.6M175.1 543.1h.6M183.4 544.8h.6M185.0 537.8h.6M179.7 538.5h.6M171.2 561.0h.6M180.7 543.7h.6M173.3 538.6h.6M175.4 541.1h.6M185.1 549.0h.6M182.2 533.4h.6M178.1 544.5h.6M195.6 523.3h.6M172.3 536.7h.6M180.5 544.6h.6M192.2 543.3h.6M192.5 535.2h.6M175.6 530.3h.6M175.7 545.2h.6M181.6 553.3h.6M179.1 534.0h.6M185.5 526.7h.6M187.6 541.9h.6M170.9 544.1h.6M182.9 547.9h.6M179.3 536.7h.6M181.2 539.1h.6M173.4 546.6h.6M188.4 534.6h.6M176.9 533.3h.6M177.6 535.8h.6M180.9 544.2h.6M192.3 532.9h.6M175.2 532.8h.6M180.7 544.9h.6M174.3 540.3h.6M173.4 531.2h.6M176.8 545.4h.6M178.1 528.5h.6M173.3 538.3h.6M195.6 530.7h.6M201.9 544.2h.6M190.4 544.9h.6M182.7 542.9h.6M190.5 538.5h.6M174.9 543.4h.6M182.2 542.6h.6M177.6 539.9h.6M188.9 539.9h.6M180.6 544.0h.6M178.8 538.8h.6M194.2 550.2h.6M167.8 537.4h.6M183.5 544.8h.6M172.3 537.2h.6M186.4 547.5h.6M174.3 538.8h.6M179.3 547.7h.6M185.1 542.7h.6M195.7 544.3h.6M182.5 550.7h.6M194.2 548.9h.6M195.9 541.9h.6M166.4 539.6h.6M183.4 540.3h.6M187.9 542.1h.6M196.9 543.3h.6M189.5 548.0h.6M193.5 536.7h.6M193.3 539.8h.6M167.0 553.6h.6M184.5 548.9h.6M174.4 545.8h.6M176.9 557.2h.6M194.1 539.4h.6M184.7 540.1h.6M185.2 538.7h.6M187.3 543.3h.6M176.6 546.9h.6M186.6 539.6h.6M177.1 535.4h.6M200.0 554.8h.6M188.5 537.5h.6M188.1 535.4h.6M174.5 528.5h.6M177.9 536.7h.6M190.5 542.7h.6M177.2 539.0h.6M181.3 540.6h.6M182.3 548.4h.6M170.8 543.1h.6M183.2 546.2h.6M181.8 535.8h.6M188.6 547.8h.6M176.6 548.5h.6M202.1 536.0h.6M187.7 523.8h.6M184.4 534.9h.6M186.1 539.3h.6M184.8 548.2h.6M189.8 546.5h.6M177.6 540.2h.6M182.4 538.3h.6M176.5 541.9h.6M186.4 539.3h.6M173.8 548.7h.6M177.9 552.9h.6M184.8 542.5h.6M192.0 540.8h.6M173.3 542.8h.6M167.4 544.6h.6M183.4 544.5h.6M182.7 553.2h.6M183.9 537.9h.6M205.1 539.2h.6M188.4 539.5h.6M180.2 540.8h.6M177.9 541.2h.6M180.7 537.7h.6M176.3 539.2h.6M181.5 536.5h.6M182.2 552.9h.6M183.2 537.4h.6M184.8 535.7h.6M168.1 536.7h.6M186.5 538.7h.6M186.2 544.7h.6M167.2 532.0h.6M175.2 532.6h.6M186.2 534.1h.6M173.0 550.0h.6" stroke="#111" stroke-width="0.7" stroke-opacity="0.8" fill="none"/><path d="M174.4 531.0h.6M198.1 540.9h.6M185.4 544.0h.6M181.2 537.9h.6M183.7 548.6h.6M186.2 530.5h.6M175.3 543.5h.6M174.2 529.8h.6M180.9 528.6h.6M189.0 554.6h.6M204.5 541.5h.6M200.3 541.9h.6M187.2 545.1h.6M187.8 537.2h.6M186.4 538.4h.6M190.4 547.8h.6M176.1 536.6h.6M176.5 551.8h.6M193.8 541.8h.6M178.3 547.0h.6M177.4 528.9h.6M180.4 549.1h.6M186.1 537.2h.6M181.4 546.6h.6M179.1 536.0h.6M191.9 544.6h.6M186.2 543.6h.6M190.5 526.2h.6M187.4 536.1h.6M186.0 540.1h.6M189.7 546.2h.6M178.3 535.7h.6M182.9 539.9h.6M173.1 540.8h.6M194.0 536.2h.6M170.7 545.5h.6M199.8 543.7h.6M201.0 548.6h.6M186.4 538.6h.6M208.6 545.5h.6M183.9 549.7h.6M180.3 537.7h.6M199.7 547.6h.6M183.2 547.4h.6M194.7 525.3h.6M186.2 547.1h.6M189.6 533.4h.6M194.8 536.8h.6M195.0 542.9h.6M197.5 535.5h.6M204.5 538.9h.6M185.6 537.0h.6M186.4 541.7h.6M184.8 545.2h.6M192.8 539.4h.6M186.9 542.2h.6M195.9 549.9h.6M179.2 545.7h.6M193.9 531.2h.6M191.5 552.3h.6M183.2 532.5h.6M168.0 540.9h.6M185.4 539.5h.6M195.0 532.3h.6M186.4 553.0h.6M201.3 536.3h.6M171.3 542.9h.6M190.6 542.1h.6M179.0 545.8h.6M179.8 533.0h.6M179.4 540.2h.6M186.8 532.1h.6M191.1 549.9h.6M172.6 544.2h.6M180.3 521.6h.6M189.0 532.6h.6M184.4 535.9h.6M194.9 546.1h.6M175.1 545.7h.6M193.0 550.9h.6M205.6 552.7h.6M199.3 545.9h.6M187.9 532.1h.6M187.0 547.6h.6M195.8 536.2h.6M167.3 534.4h.6M171.6 542.3h.6M174.3 533.3h.6M184.6 538.4h.6M189.0 546.6h.6M190.2 550.2h.6M180.5 544.3h.6M214.2 543.6h.6M181.9 541.4h.6M185.9 538.4h.6M201.1 554.3h.6M183.8 535.3h.6M197.7 549.4h.6M188.4 547.2h.6M185.6 550.7h.6M188.1 543.3h.6M194.4 534.0h.6M190.3 542.8h.6M197.1 536.6h.6M169.6 536.4h.6M192.2 541.5h.6M191.7 551.5h.6M196.8 546.9h.6M190.5 534.2h.6M186.7 539.2h.6M179.3 541.7h.6M183.9 534.8h.6M177.8 528.3h.6M203.0 535.7h.6M181.7 523.7h.6M186.3 541.6h.6M190.9 534.8h.6M176.8 555.7h.6M184.1 543.2h.6M188.6 540.7h.6M201.2 544.5h.6M194.7 550.9h.6M195.5 541.1h.6M178.0 547.0h.6M187.5 530.5h.6M194.1 553.9h.6M197.1 543.5h.6M202.6 544.7h.6M178.5 542.3h.6M194.2 538.9h.6M180.1 532.1h.6M201.9 546.2h.6M180.1 550.5h.6M188.2 534.7h.6M180.7 545.4h.6M197.4 546.3h.6M184.5 523.5h.6M177.3 544.0h.6M178.3 531.9h.6M176.4 525.9h.6M200.7 525.8h.6M177.4 544.1h.6M193.3 548.3h.6M179.6 540.5h.6M204.9 535.1h.6M191.2 535.7h.6M172.5 534.3h.6M178.7 546.9h.6M195.6 556.6h.6M179.2 537.6h.6M192.5 536.7h.6M178.9 539.6h.6M196.5 536.0h.6M203.8 536.6h.6M197.1 547.0h.6M182.8 541.2h.6M199.8 531.9h.6M198.2 539.5h.6M196.1 549.0h.6M191.8 536.3h.6M188.6 533.0h.6M168.6 554.1h.6M180.4 523.4h.6M190.6 528.0h.6M191.5 552.3h.6M200.5 548.0h.6M184.6 534.5h.6M167.9 532.2h.6M184.9 535.6h.6M203.3 538.2h.6" stroke="#444" stroke-width="0.7" stroke-opacity="0.6" fill="none"/><path d="M171.0 532.7h.6M170.6 532.5h.6M172.3 528.7h.6M172.7 529.8h.6M170.7 532.0h.6M171.7 529.5h.6M173.0 533.9h.6M171.5 529.2h.6M171.0 530.9h.6M173.2 526.8h.6M174.0 531.4h.6M171.6 536.8h.6M173.6 534.9h.6M171.0 533.2h.6M169.0 529.3h.6M169.9 533.6h.6M172.2 527.4h.6M173.1 531.3h.6M172.4 537.6h.6M168.8 532.7h.6M170.5 531.3h.6M172.4 533.8h.6M172.9 532.0h.6M167.8 529.5h.6M171.8 529.8h.6M170.5 532.3h.6M171.6 529.5h.6M171.1 528.8h.6M170.4 529.2h.6M172.9 534.3h.6M172.3 528.7h.6M170.8 531.6h.6M170.6 532.3h.6M173.9 533.9h.6M170.4 531.1h.6M171.4 531.8h.6M170.0 530.9h.6M171.9 528.6h.6M171.7 531.8h.6M171.3 529.2h.6M171.9 531.3h.6M170.2 530.0h.6M171.5 528.4h.6M172.1 529.1h.6M169.6 533.1h.6M173.4 527.6h.6M170.8 528.2h.6M168.4 532.8h.6M170.7 532.5h.6M170.8 528.0h.6M172.6 529.4h.6M172.7 527.3h.6M173.7 534.2h.6M170.4 525.7h.6M168.4 529.8h.6M168.4 529.5h.6M171.8 529.1h.6M172.2 529.6h.6M170.1 530.4h.6M170.4 531.2h.6" stroke="#222" stroke-width="0.7" stroke-opacity="0.8" fill="none"/><path d="M169.3,532.5 L173.8,533 L174.1,558.1 L169.3,558.6 Z" fill="#0e0a16" fill-opacity="1.0"/><path d="M174.0 542.9h.6M174.9 546.0h.6M173.7 550.5h.6M173.9 543.1h.6M175.4 534.8h.6M174.3 539.3h.6M174.3 553.5h.6M174.7 536.5h.6M175.2 557.8h.6M174.2 551.1h.6M174.3 549.9h.6M173.6 556.9h.6M174.1 540.7h.6M174.6 546.2h.6M174.2 535.7h.6M174.1 545.9h.6M174.1 553.5h.6M173.8 540.3h.6M174.7 533.2h.6M173.6 556.0h.6M174.0 556.4h.6M174.0 552.5h.6M174.4 550.5h.6M174.1 538.3h.6M173.6 533.9h.6M173.5 548.1h.6M175.3 549.2h.6M173.7 551.8h.6M173.9 551.5h.6M174.3 537.1h.6M174.8 543.9h.6M173.7 550.2h.6M174.2 549.0h.6M173.7 557.7h.6M175.2 542.7h.6M174.5 557.5h.6M174.9 534.7h.6M174.1 556.2h.6M174.4 553.8h.6M173.8 547.7h.6M174.0 537.1h.6M174.5 557.0h.6M173.6 538.4h.6M174.6 534.3h.6M174.4 535.3h.6M173.4 554.3h.6M174.7 536.5h.6M173.9 541.6h.6M173.5 542.8h.6M174.8 541.3h.6M174.3 538.0h.6M174.0 550.1h.6M174.4 539.5h.6M174.6 544.5h.6M173.6 545.0h.6M173.6 549.3h.6M175.6 540.4h.6M173.4 550.5h.6M174.1 536.6h.6M174.9 557.8h.6M173.5 548.0h.6M173.6 540.2h.6M173.7 553.5h.6M173.9 533.4h.6M174.7 535.8h.6M176.1 550.8h.6M174.0 548.8h.6M174.1 536.8h.6M174.3 550.6h.6M175.1 533.5h.6M173.7 558.0h.6M173.9 532.9h.6M173.7 556.7h.6M175.8 538.4h.6M173.8 543.8h.6M173.8 552.0h.6M174.1 548.5h.6M173.7 542.7h.6" stroke="#0e0a16" stroke-width="0.8" stroke-opacity="0.9" fill="none"/><rect x="169.9" y="534.5" width="1.2" height="22.1" fill="#2c1870"/><rect x="169.45" y="535.5" width="0.45" height="20.1" fill="#f0a030" fill-opacity="0.8"/><line x1="174.3" y1="515.6" x2="174.3" y2="569.8" stroke="#4c5cc0" stroke-width="1.2"/><line x1="163.4" y1="539.3" x2="218.4" y2="539.3" stroke="#4c5cc0" stroke-width="1.2"/><text x="166.2" y="524.3" font-size="6.9" fill="#333" textLength="18" lengthAdjust="spacingAndGlyphs" stroke="#333" stroke-width="0.16">3.73%</text><text x="197" y="524.3" font-size="6.9" fill="#333" textLength="17.6" lengthAdjust="spacingAndGlyphs" stroke="#333" stroke-width="0.16">3.26%</text><text x="167" y="567.7" font-size="6.9" fill="#333" textLength="22" lengthAdjust="spacingAndGlyphs" stroke="#333" stroke-width="0.16">86.21%</text><text x="197" y="567.7" font-size="6.9" fill="#333" textLength="17.6" lengthAdjust="spacingAndGlyphs" stroke="#333" stroke-width="0.16">6.79%</text>
<path d="M34.7,545 L34.7,578.7 L200.6,578.7" fill="none" stroke="#222" stroke-width="1.1"/><polygon points="34.7,541 32.5,546.4 36.9,546.4" fill="#222"/><polygon points="204.6,578.7 199.2,576.5 199.2,580.9" fill="#222"/><text x="208.8" y="582.5" font-size="10.2" fill="#333" textLength="18.2" lengthAdjust="spacingAndGlyphs" stroke="none">CD27</text><text transform="translate(38.3,534.1) rotate(-90)" x="0" y="0" font-size="10.2" fill="#333" stroke="none" textLength="19" lengthAdjust="spacingAndGlyphs">CD56</text>
<text x="249.4" y="511.4" font-size="11" fill="#111" textLength="7" lengthAdjust="spacingAndGlyphs" font-weight="bold" stroke="#111" stroke-width="0.1">F</text>
<text x="294.1" y="511.7" font-size="8.4" fill="#2f6eaf" textLength="29.1" lengthAdjust="spacingAndGlyphs" stroke="#2f6eaf" stroke-width="0.16">Healthy</text>
<text x="357.7" y="511.7" font-size="8.4" fill="#d9283e" textLength="22.2" lengthAdjust="spacingAndGlyphs" stroke="#d9283e" stroke-width="0.16">B-ALL</text>
<text x="418.1" y="511.7" font-size="8.4" fill="#3cb84a" textLength="21.3" lengthAdjust="spacingAndGlyphs" stroke="#3cb84a" stroke-width="0.16">T-ALL</text>
<rect x="280.9" y="516.5" width="53.7" height="53.3" fill="#fff" stroke="#555" stroke-width="0.9"/><path d="M278.1,568.8h2.8M281.9,569.8v2.8M279.4,565.01h1.5M285.72,569.8v1.5M279.4,562.8h1.5M287.95,569.8v1.5M279.4,561.23h1.5M289.53,569.8v1.5M279.4,560.01h1.5M290.76,569.8v1.5M279.4,559.01h1.5M291.76,569.8v1.5M279.4,558.17h1.5M292.61,569.8v1.5M279.4,557.44h1.5M293.35,569.8v1.5M279.4,556.8h1.5M294,569.8v1.5M278.1,556.22h2.8M294.57,569.8v2.8M279.4,552.44h1.5M298.39,569.8v1.5M279.4,550.23h1.5M300.62,569.8v1.5M279.4,548.65h1.5M302.21,569.8v1.5M279.4,547.44h1.5M303.43,569.8v1.5M279.4,546.44h1.5M304.44,569.8v1.5M279.4,545.6h1.5M305.29,569.8v1.5M279.4,544.87h1.5M306.02,569.8v1.5M279.4,544.23h1.5M306.67,569.8v1.5M278.1,543.65h2.8M307.25,569.8v2.8M279.4,539.86h1.5M311.07,569.8v1.5M279.4,537.65h1.5M313.3,569.8v1.5M279.4,536.08h1.5M314.88,569.8v1.5M279.4,534.86h1.5M316.11,569.8v1.5M279.4,533.86h1.5M317.11,569.8v1.5M279.4,533.02h1.5M317.96,569.8v1.5M279.4,532.29h1.5M318.7,569.8v1.5M279.4,531.65h1.5M319.35,569.8v1.5M278.1,531.08h2.8M319.93,569.8v2.8M279.4,527.29h1.5M323.74,569.8v1.5M279.4,525.08h1.5M325.97,569.8v1.5M279.4,523.5h1.5M327.56,569.8v1.5M279.4,522.29h1.5M328.78,569.8v1.5M279.4,521.29h1.5M329.79,569.8v1.5M279.4,520.45h1.5M330.64,569.8v1.5M279.4,519.72h1.5M331.37,569.8v1.5M279.4,519.08h1.5M332.02,569.8v1.5" stroke="#333" stroke-width="0.75" fill="none"/><path d="M300.5 553.6h.6M293.6 539.4h.6M298.7 556.3h.6M298.9 537.7h.6M293.7 544.8h.6M301.3 545.1h.6M295.5 543.7h.6M297.9 540.5h.6M297.1 546.9h.6M304.4 544.8h.6M301.4 538.6h.6M300.9 546.2h.6M294.8 545.0h.6M301.1 543.1h.6M301.7 554.9h.6M304.3 555.5h.6M291.5 547.4h.6M294.1 551.2h.6M297.5 546.6h.6M299.2 541.4h.6M297.6 540.6h.6M306.4 542.3h.6M297.2 534.0h.6M290.6 539.9h.6M300.7 550.1h.6M298.4 541.1h.6M305.3 538.7h.6M293.4 548.3h.6M292.8 546.9h.6M301.4 544.8h.6M299.0 545.5h.6M294.2 525.0h.6M291.8 545.2h.6M289.9 541.6h.6M298.1 553.8h.6M291.1 541.8h.6M298.2 548.6h.6M291.0 557.1h.6M293.5 552.2h.6M296.3 547.8h.6M304.6 549.8h.6M297.7 538.8h.6M294.3 536.1h.6M306.1 535.3h.6M285.7 555.8h.6M302.8 542.9h.6M300.9 539.9h.6M294.6 548.5h.6M298.9 542.3h.6M304.4 550.0h.6M297.8 537.6h.6M297.8 543.2h.6M296.8 550.4h.6M294.6 546.9h.6M300.7 547.5h.6M307.4 534.0h.6M296.9 537.6h.6M296.8 561.4h.6M289.8 543.3h.6M300.1 545.8h.6M301.2 535.2h.6M301.5 539.0h.6M291.7 548.8h.6M299.3 540.5h.6M293.5 543.9h.6M297.1 544.1h.6M292.6 530.2h.6M303.0 546.3h.6M291.6 535.0h.6M294.0 542.5h.6M287.6 554.2h.6M299.0 543.1h.6M298.7 546.6h.6M301.8 546.1h.6M302.7 555.1h.6M295.7 542.2h.6M293.1 543.6h.6M293.8 545.2h.6M298.4 548.6h.6M291.9 552.1h.6M295.7 544.4h.6M294.8 532.2h.6M298.2 533.6h.6M302.0 545.4h.6M304.0 549.3h.6M300.2 554.1h.6M296.9 555.0h.6M296.5 546.8h.6M294.0 548.6h.6M300.1 541.8h.6M291.3 544.8h.6M298.9 544.1h.6M292.7 540.4h.6M295.9 528.1h.6M294.4 554.4h.6M291.3 543.7h.6M304.6 549.7h.6M301.2 544.1h.6M291.1 563.7h.6M298.4 546.6h.6M304.4 550.3h.6M297.3 537.9h.6M296.3 544.1h.6M294.0 539.5h.6M292.6 544.3h.6M294.4 547.7h.6M301.6 547.1h.6M297.1 555.1h.6M300.0 535.5h.6M293.8 546.3h.6M293.1 550.0h.6M289.2 532.7h.6M301.4 548.8h.6M289.9 545.5h.6M303.0 537.8h.6M291.7 537.2h.6M292.6 533.8h.6M294.9 535.6h.6M297.3 559.5h.6M292.3 550.9h.6M302.3 530.1h.6M297.5 545.0h.6M295.5 550.2h.6M295.0 547.3h.6M295.3 544.1h.6M293.5 559.7h.6M296.8 537.8h.6M305.7 555.2h.6M296.1 540.8h.6M293.7 553.0h.6M295.5 540.4h.6M300.8 543.3h.6M296.8 557.6h.6M300.9 553.1h.6M298.9 553.3h.6M296.2 551.3h.6M301.7 542.3h.6M291.2 548.5h.6M296.5 548.9h.6M294.3 548.4h.6M301.3 560.3h.6M305.0 547.5h.6M303.4 541.0h.6M302.3 545.9h.6M303.0 547.2h.6M296.0 540.4h.6M302.6 545.4h.6M300.2 548.1h.6M287.9 548.9h.6M295.3 547.6h.6M299.2 533.3h.6M295.6 544.6h.6M298.7 551.1h.6M294.0 543.5h.6M299.8 533.2h.6M305.3 538.9h.6M302.9 545.9h.6M305.4 551.7h.6M296.9 534.0h.6M297.6 547.1h.6M299.4 536.9h.6M293.3 540.0h.6M298.3 539.4h.6M296.5 551.0h.6M295.1 553.7h.6M298.3 543.4h.6M301.9 548.2h.6M295.7 541.2h.6M296.8 547.2h.6M302.1 546.8h.6M294.2 536.4h.6M298.2 547.6h.6M302.1 541.6h.6M291.2 550.4h.6M296.2 537.2h.6M304.4 550.8h.6M297.3 546.8h.6M293.7 551.4h.6M295.1 542.1h.6M295.7 537.7h.6M301.6 555.8h.6M300.4 531.7h.6M295.6 540.9h.6M298.7 531.2h.6M287.4 542.1h.6M301.4 543.8h.6M306.9 539.5h.6M297.2 544.1h.6M293.3 552.2h.6M291.1 538.2h.6M295.4 541.9h.6M302.1 541.6h.6M299.3 542.0h.6M302.7 544.9h.6M298.2 534.5h.6M300.2 540.9h.6M301.0 548.3h.6M299.4 552.3h.6M298.7 539.3h.6M297.7 546.1h.6M291.8 549.0h.6M303.6 546.6h.6M297.5 548.0h.6M301.9 541.5h.6M301.3 540.2h.6M299.4 548.4h.6M291.3 549.3h.6M298.0 534.2h.6M295.0 541.0h.6M293.0 547.7h.6M293.5 545.3h.6M292.2 543.3h.6M305.2 547.7h.6M290.1 538.9h.6M296.4 534.5h.6M301.4 544.7h.6M296.7 545.3h.6M294.0 537.6h.6M283.1 534.6h.6M298.1 549.4h.6M296.2 533.2h.6M295.5 545.2h.6M291.2 553.8h.6M292.0 545.0h.6M292.1 550.9h.6M291.4 539.2h.6M302.0 536.9h.6M294.6 548.5h.6M298.6 533.7h.6M299.7 543.1h.6M302.5 533.8h.6M300.4 547.6h.6M295.3 542.3h.6M298.7 540.5h.6M295.4 540.0h.6M297.6 549.3h.6M289.9 545.2h.6M298.4 554.7h.6M293.7 553.1h.6M295.0 548.1h.6M298.0 546.7h.6M295.5 538.7h.6M303.6 554.4h.6M296.5 543.9h.6M296.0 536.4h.6M292.0 547.7h.6M301.2 543.5h.6M292.8 538.0h.6M294.2 549.5h.6M297.2 535.8h.6M291.8 547.1h.6M298.3 556.3h.6M303.4 546.2h.6M293.9 546.3h.6M291.9 540.5h.6M301.5 548.9h.6M301.1 555.0h.6M295.1 550.1h.6M297.3 547.0h.6M298.0 548.4h.6M290.8 536.1h.6M297.4 548.1h.6M294.8 544.3h.6M290.7 551.2h.6M299.0 554.6h.6M295.2 544.3h.6M297.3 553.8h.6M299.5 547.5h.6M289.6 539.4h.6M290.4 543.8h.6M300.8 545.3h.6M292.9 558.1h.6M292.1 553.9h.6M302.2 546.6h.6M303.0 538.0h.6M294.5 543.0h.6M298.6 543.8h.6M304.6 542.5h.6M296.0 537.1h.6M299.1 550.1h.6" stroke="#222" stroke-width="0.7" stroke-opacity="0.75" fill="none"/><path d="M294.1 529.2h.6M290.0 546.1h.6M304.1 539.9h.6M303.9 541.3h.6M301.9 526.7h.6M302.3 542.8h.6M306.3 544.7h.6M294.6 539.8h.6M289.8 548.0h.6M290.1 542.9h.6M293.9 532.3h.6M293.2 535.7h.6M301.4 545.7h.6M297.0 543.9h.6M304.6 552.3h.6M295.1 540.1h.6M303.4 539.0h.6M303.0 533.3h.6M296.7 533.6h.6M294.8 531.8h.6M298.3 529.4h.6M295.3 542.0h.6M288.8 530.6h.6M296.3 530.5h.6M292.5 551.0h.6M301.1 534.8h.6M294.2 527.1h.6M291.5 521.9h.6M302.5 534.4h.6M304.8 537.9h.6M286.0 551.1h.6M302.2 544.1h.6M295.4 534.0h.6M297.8 550.4h.6M290.8 530.5h.6M302.3 524.2h.6M308.5 529.9h.6M306.6 536.9h.6M296.7 530.0h.6M308.3 536.0h.6M290.3 542.4h.6M298.0 541.5h.6M296.3 540.5h.6M301.9 538.1h.6M288.4 541.4h.6M307.8 541.0h.6M304.9 543.4h.6M297.0 545.3h.6M297.4 531.0h.6M290.8 545.1h.6M303.5 542.3h.6M295.3 525.3h.6M304.0 537.3h.6M295.0 533.7h.6M295.3 525.1h.6M303.0 542.8h.6M304.6 535.5h.6M290.9 528.5h.6M297.0 550.0h.6M304.9 538.1h.6M302.0 543.6h.6M299.3 539.5h.6M300.3 533.9h.6M291.6 534.1h.6M306.4 527.0h.6M296.1 535.1h.6M299.2 534.8h.6M304.0 535.4h.6M298.9 542.9h.6M289.9 545.5h.6M305.6 528.8h.6M298.4 532.8h.6M296.6 543.4h.6M286.9 543.8h.6M301.7 537.9h.6M313.2 534.5h.6M289.3 540.6h.6M299.9 533.6h.6M285.3 524.8h.6M309.5 527.5h.6M307.9 543.6h.6M284.8 539.3h.6M303.1 545.7h.6M307.5 546.7h.6M298.7 536.3h.6M297.7 541.6h.6M293.0 530.6h.6M313.7 544.6h.6M305.8 536.4h.6M293.5 535.0h.6M293.9 533.6h.6M288.9 542.2h.6M301.1 543.4h.6M299.4 533.0h.6M312.0 544.5h.6M302.6 544.1h.6M297.0 543.0h.6M294.2 545.0h.6M305.0 543.8h.6M301.5 538.9h.6M300.4 543.0h.6M296.1 542.9h.6M303.9 529.2h.6M288.0 540.0h.6M296.8 532.4h.6M291.0 530.3h.6M288.4 535.5h.6M289.0 526.1h.6M298.1 548.4h.6M306.9 536.8h.6M301.4 536.2h.6M298.2 532.6h.6M299.0 530.7h.6M294.2 536.8h.6M298.4 552.0h.6M293.3 530.3h.6M303.0 541.9h.6M303.3 537.1h.6M289.2 535.5h.6M290.8 537.4h.6M310.1 535.7h.6M299.6 545.4h.6M290.4 543.1h.6M296.7 533.1h.6M296.6 531.0h.6M304.4 538.6h.6M295.9 541.2h.6M289.3 518.8h.6M307.3 533.9h.6M303.7 531.6h.6M287.2 530.3h.6M304.7 540.4h.6M294.8 542.5h.6M297.0 539.1h.6M292.0 522.2h.6M299.4 542.5h.6M293.1 548.8h.6M300.6 549.9h.6M303.1 546.3h.6M297.2 527.7h.6M313.0 546.9h.6M303.3 531.5h.6M304.6 530.7h.6M302.2 544.1h.6M302.1 530.9h.6M302.8 539.1h.6M302.4 546.6h.6M294.6 532.0h.6M285.3 548.2h.6M293.7 546.7h.6" stroke="#444" stroke-width="0.7" stroke-opacity="0.65" fill="none"/><path d="M297.4 534.5h.6M296.8 532.3h.6M295.0 532.3h.6M291.7 534.0h.6M289.2 529.4h.6M294.3 531.2h.6M295.4 528.0h.6M296.1 522.8h.6M293.0 530.7h.6M293.1 533.7h.6M295.2 532.3h.6M291.3 533.6h.6M298.7 526.4h.6M301.4 527.4h.6M291.1 533.3h.6M302.7 532.8h.6M295.2 528.7h.6M292.9 531.4h.6M297.2 528.0h.6M297.8 524.3h.6M296.7 528.1h.6M290.7 537.1h.6M298.1 529.9h.6M291.4 535.0h.6M296.1 528.6h.6M286.4 533.5h.6M298.7 532.3h.6M291.5 525.4h.6M300.3 529.9h.6M298.7 523.2h.6M294.6 532.9h.6M295.6 536.2h.6M299.2 533.9h.6M298.4 530.1h.6M292.6 528.3h.6M300.7 530.2h.6M287.4 531.4h.6M296.0 529.3h.6M297.3 528.1h.6M306.1 529.5h.6" stroke="#555" stroke-width="0.7" stroke-opacity="0.6" fill="none"/><path d="M286.3,530 L290.8,530.5 L291.1,558.1 L286.3,558.6 Z" fill="#120a1c" fill-opacity="1.0"/><path d="M291.4 536.5h.6M290.4 537.9h.6M290.6 550.9h.6M291.0 531.5h.6M291.5 551.0h.6M291.2 546.2h.6M291.1 532.7h.6M290.8 546.7h.6M290.8 556.4h.6M293.4 549.7h.6M290.8 543.9h.6M291.0 540.9h.6M290.9 543.7h.6M291.2 548.7h.6M291.6 533.7h.6M290.6 557.7h.6M291.7 539.0h.6M290.8 550.2h.6M290.9 546.6h.6M292.5 537.7h.6M290.6 551.3h.6M290.6 538.8h.6M290.5 547.1h.6M290.9 534.8h.6M291.2 554.3h.6M290.6 541.1h.6M292.1 558.0h.6M290.7 537.4h.6M291.0 552.7h.6M292.0 539.9h.6M292.1 537.2h.6M290.7 543.9h.6M291.7 537.0h.6M291.9 549.0h.6M290.5 543.6h.6M291.0 548.5h.6M291.9 534.7h.6M292.3 545.2h.6M291.2 556.2h.6M290.5 534.1h.6M290.4 548.4h.6M290.7 548.8h.6M290.8 548.2h.6M292.6 535.8h.6M292.2 539.0h.6M291.1 554.7h.6M291.0 542.0h.6M291.1 557.3h.6M290.7 535.9h.6M291.3 553.4h.6M291.2 539.7h.6M292.2 545.7h.6M291.0 545.1h.6M291.0 548.2h.6M291.3 548.5h.6M290.9 539.0h.6M290.5 547.3h.6M290.5 546.4h.6M290.6 549.2h.6M291.0 543.0h.6M292.3 544.8h.6M290.7 542.5h.6M290.7 555.0h.6M290.8 544.8h.6M291.5 557.0h.6M290.7 558.0h.6M291.1 556.8h.6M290.8 538.1h.6M291.1 543.5h.6M290.5 549.3h.6M291.2 550.8h.6M290.8 539.8h.6M291.1 542.5h.6M291.8 549.9h.6M292.2 544.6h.6M290.6 557.9h.6M291.0 544.0h.6M291.9 547.4h.6M290.7 555.3h.6M290.7 553.1h.6M290.6 545.8h.6M292.4 558.4h.6M293.2 532.3h.6M290.9 540.8h.6M292.1 544.9h.6" stroke="#120a1c" stroke-width="0.8" stroke-opacity="0.9" fill="none"/><rect x="286.9" y="532" width="1.2" height="24.6" fill="#3a1460"/><rect x="286.45" y="533" width="0.45" height="22.6" fill="#f08020" fill-opacity="0.8"/><line x1="291.5" y1="515.7" x2="291.5" y2="569.8" stroke="#4c5cc0" stroke-width="1.2"/><line x1="280.9" y1="538.3" x2="335.6" y2="538.3" stroke="#4c5cc0" stroke-width="1.2"/><text x="283.2" y="524.4" font-size="6.9" fill="#333" textLength="17.3" lengthAdjust="spacingAndGlyphs" stroke="#333" stroke-width="0.16">2.75%</text><text x="314.7" y="524.4" font-size="6.9" fill="#333" textLength="16.9" lengthAdjust="spacingAndGlyphs" stroke="#333" stroke-width="0.16">1.14%</text><text x="283.2" y="567.7" font-size="6.9" fill="#333" textLength="19.6" lengthAdjust="spacingAndGlyphs" stroke="#333" stroke-width="0.16">92.41%</text><text x="314.7" y="567.7" font-size="6.9" fill="#333" textLength="16.9" lengthAdjust="spacingAndGlyphs" stroke="#333" stroke-width="0.16">3.70%</text>
<rect x="341.7" y="516.5" width="53.7" height="53.5" fill="#fff" stroke="#555" stroke-width="0.9"/><path d="M338.9,569h2.8M342.7,570v2.8M340.2,565.2h1.5M346.52,570v1.5M340.2,562.98h1.5M348.75,570v1.5M340.2,561.4h1.5M350.33,570v1.5M340.2,560.18h1.5M351.56,570v1.5M340.2,559.18h1.5M352.56,570v1.5M340.2,558.33h1.5M353.41,570v1.5M340.2,557.6h1.5M354.15,570v1.5M340.2,556.95h1.5M354.8,570v1.5M338.9,556.38h2.8M355.38,570v2.8M340.2,552.57h1.5M359.19,570v1.5M340.2,550.35h1.5M361.42,570v1.5M340.2,548.77h1.5M363.01,570v1.5M340.2,547.55h1.5M364.23,570v1.5M340.2,546.55h1.5M365.24,570v1.5M340.2,545.71h1.5M366.09,570v1.5M340.2,544.97h1.5M366.82,570v1.5M340.2,544.33h1.5M367.47,570v1.5M338.9,543.75h2.8M368.05,570v2.8M340.2,539.95h1.5M371.87,570v1.5M340.2,537.73h1.5M374.1,570v1.5M340.2,536.15h1.5M375.68,570v1.5M340.2,534.93h1.5M376.91,570v1.5M340.2,533.93h1.5M377.91,570v1.5M340.2,533.08h1.5M378.76,570v1.5M340.2,532.35h1.5M379.5,570v1.5M340.2,531.7h1.5M380.15,570v1.5M338.9,531.12h2.8M380.72,570v2.8M340.2,527.32h1.5M384.54,570v1.5M340.2,525.1h1.5M386.77,570v1.5M340.2,523.52h1.5M388.36,570v1.5M340.2,522.3h1.5M389.58,570v1.5M340.2,521.3h1.5M390.59,570v1.5M340.2,520.46h1.5M391.44,570v1.5M340.2,519.72h1.5M392.17,570v1.5M340.2,519.08h1.5M392.82,570v1.5" stroke="#333" stroke-width="0.75" fill="none"/><path d="M365.5 544.9h.6M385.3 550.0h.6M363.3 549.5h.6M358.5 540.4h.6M365.6 542.5h.6M367.5 544.3h.6M349.9 535.7h.6M356.2 530.4h.6M361.5 543.7h.6M368.4 539.2h.6M360.4 550.5h.6M367.0 538.0h.6M372.4 541.1h.6M370.2 543.7h.6M359.1 536.2h.6M361.1 564.8h.6M357.7 558.1h.6M371.0 542.9h.6M369.6 556.9h.6M359.9 541.8h.6M369.6 548.8h.6M376.5 549.4h.6M354.2 545.6h.6M353.9 551.9h.6M366.8 542.8h.6M356.0 553.1h.6M359.4 555.6h.6M355.3 543.9h.6M358.3 537.9h.6M380.6 559.3h.6M357.7 552.3h.6M349.7 555.9h.6M369.4 543.3h.6M359.6 548.0h.6M365.2 543.2h.6M356.2 544.0h.6M359.1 552.2h.6M362.6 547.9h.6M350.7 543.0h.6M359.4 542.0h.6M361.3 543.7h.6M351.7 553.5h.6M368.4 542.0h.6M366.4 538.8h.6M353.5 544.5h.6M372.7 545.3h.6M351.7 548.0h.6M358.2 540.5h.6M364.6 532.4h.6M349.9 534.7h.6M369.6 547.0h.6M358.1 540.9h.6M366.7 556.1h.6M357.3 548.4h.6M378.4 551.1h.6M360.0 549.0h.6M363.0 551.6h.6M364.7 542.5h.6M361.5 549.3h.6M357.6 547.0h.6M356.1 556.1h.6M373.0 539.6h.6M368.1 547.7h.6M363.0 544.4h.6M364.2 554.3h.6M354.0 554.4h.6M360.6 537.8h.6M362.0 551.4h.6M361.8 548.7h.6M360.1 542.2h.6M369.2 539.1h.6M369.2 549.1h.6M360.5 544.7h.6M360.4 546.2h.6M362.1 545.3h.6M349.2 529.9h.6M364.7 541.5h.6M358.5 545.1h.6M354.9 558.5h.6M362.4 545.1h.6M355.2 553.3h.6M367.3 558.1h.6M368.4 540.1h.6M353.8 557.1h.6M357.8 545.6h.6M361.3 550.3h.6M366.1 538.4h.6M358.1 532.9h.6M366.2 545.2h.6M351.0 554.5h.6M362.5 538.6h.6M359.6 541.9h.6M363.1 548.1h.6M358.5 549.8h.6M344.9 543.8h.6M366.8 553.9h.6M367.8 538.4h.6M351.1 543.8h.6M377.7 548.5h.6M357.4 533.5h.6M363.3 543.0h.6M365.7 547.9h.6M346.7 545.5h.6M367.6 541.8h.6M354.3 537.4h.6M353.5 563.3h.6M371.8 541.7h.6M371.5 538.2h.6M358.7 540.6h.6M361.1 551.4h.6M375.9 552.0h.6M361.6 547.6h.6M360.8 549.2h.6M356.5 548.3h.6M365.3 553.6h.6M356.8 549.6h.6M364.2 540.1h.6M349.1 542.1h.6M368.1 544.2h.6M377.4 550.6h.6M357.5 545.5h.6M365.3 550.0h.6M360.7 549.8h.6M382.0 553.3h.6M363.4 542.7h.6M350.4 547.6h.6M359.5 545.9h.6M358.6 552.2h.6M369.4 540.9h.6M353.1 548.7h.6M371.4 549.4h.6M365.5 535.6h.6M358.6 550.7h.6M364.7 546.2h.6M366.0 552.8h.6M362.8 540.8h.6M352.9 547.8h.6M361.1 544.9h.6M369.6 541.2h.6M360.4 551.2h.6M356.3 529.8h.6M358.6 552.4h.6M358.2 544.4h.6M349.9 555.3h.6M350.7 541.2h.6M361.0 561.1h.6M362.9 540.8h.6M352.3 543.9h.6M354.1 541.5h.6M362.5 555.5h.6M354.9 556.6h.6M349.4 561.0h.6M357.9 543.4h.6M359.1 548.0h.6M361.8 543.7h.6M357.6 542.1h.6M362.6 542.2h.6M357.6 535.2h.6M362.4 549.9h.6M355.5 553.8h.6M361.9 547.0h.6M351.0 550.9h.6M370.5 560.9h.6M358.2 545.8h.6M367.1 550.2h.6M358.0 546.7h.6M368.6 550.5h.6M361.8 554.1h.6M352.4 549.5h.6M357.9 543.5h.6M367.5 559.4h.6M365.2 547.2h.6M373.0 552.0h.6M347.7 541.7h.6M357.9 541.2h.6M352.4 551.2h.6M363.4 559.4h.6M360.4 547.2h.6M357.4 554.0h.6M370.5 559.0h.6M369.0 542.0h.6M370.2 539.5h.6M358.3 545.0h.6M376.0 541.1h.6M355.9 548.2h.6M370.1 550.7h.6M366.0 540.1h.6M359.8 556.0h.6M363.1 541.6h.6M360.1 556.5h.6" stroke="#5a3a8a" stroke-width="0.7" stroke-opacity="0.7" fill="none"/><path d="M374.0 549.3h.6M351.2 560.6h.6M352.8 546.5h.6M362.4 545.5h.6M357.0 560.1h.6M361.5 532.8h.6M353.3 557.4h.6M357.1 536.4h.6M366.8 550.0h.6M359.0 550.7h.6M355.3 547.3h.6M363.9 540.6h.6M369.8 536.2h.6M377.2 546.3h.6M362.0 534.8h.6M365.7 538.2h.6M363.1 545.8h.6M351.4 561.5h.6M360.2 541.0h.6M355.4 548.5h.6M359.1 553.3h.6M353.6 547.6h.6M354.3 539.4h.6M366.0 538.4h.6M344.1 551.6h.6M354.1 550.7h.6M363.4 550.2h.6M359.4 559.6h.6M349.4 556.1h.6M357.5 548.4h.6M355.0 553.5h.6M363.1 541.8h.6M359.3 550.1h.6M357.5 567.9h.6M363.9 542.3h.6M367.9 548.2h.6M354.2 542.8h.6M344.6 552.6h.6M372.3 545.1h.6M351.7 530.5h.6M348.0 545.8h.6M353.2 544.4h.6M351.4 544.4h.6M356.8 547.5h.6M359.7 547.5h.6M351.6 543.3h.6M348.0 541.4h.6M358.5 549.7h.6M346.9 537.3h.6M354.1 535.0h.6M356.2 544.0h.6M352.4 560.2h.6M355.0 547.9h.6M343.0 553.1h.6M361.6 547.5h.6M352.8 549.3h.6M358.5 541.0h.6M354.6 556.7h.6M368.5 530.5h.6M354.8 551.3h.6" stroke="#8a70b0" stroke-width="0.7" stroke-opacity="0.6" fill="none"/><path d="M347.4,533.5 L350,534 L350.3,557.9 L347.4,558.4 Z" fill="#2a1030" fill-opacity="0.8"/><path d="M349.9 540.3h.6M350.0 552.6h.6M350.4 535.3h.6M349.7 551.9h.6M351.3 543.8h.6M350.0 552.0h.6M349.7 545.8h.6M351.2 558.4h.6M349.7 544.2h.6M350.3 535.7h.6M350.9 545.6h.6M350.9 546.6h.6M349.7 542.3h.6M350.0 545.5h.6M351.1 556.8h.6M349.7 553.5h.6M351.1 546.9h.6M350.0 558.1h.6M350.7 543.4h.6M350.4 543.9h.6M349.7 556.0h.6M350.6 551.6h.6M351.1 547.7h.6M350.0 542.6h.6M351.1 552.2h.6M349.8 551.5h.6M349.6 550.5h.6M349.9 540.5h.6M351.1 543.6h.6M350.9 545.1h.6M350.2 538.7h.6M349.8 538.9h.6M349.9 535.7h.6M349.6 535.6h.6M349.9 552.2h.6M352.2 546.3h.6M350.8 536.7h.6M350.9 535.4h.6M351.6 541.2h.6M349.7 555.0h.6M350.9 551.9h.6M351.9 555.0h.6M351.4 538.4h.6M349.8 546.3h.6M351.1 539.2h.6M350.0 547.9h.6M349.7 544.7h.6M350.2 553.5h.6M350.5 539.1h.6M349.9 542.4h.6M350.2 541.2h.6M350.1 539.2h.6M350.0 549.1h.6M351.0 549.1h.6M350.9 536.7h.6M350.3 543.6h.6M351.2 546.7h.6M349.9 535.8h.6M351.0 553.1h.6M349.8 544.6h.6M349.7 546.0h.6M349.9 552.2h.6M350.5 548.4h.6M350.4 547.4h.6M349.7 534.0h.6M350.0 541.1h.6M350.4 558.1h.6M350.2 554.0h.6M350.5 547.5h.6M350.1 554.4h.6M349.9 555.9h.6M350.1 549.2h.6M350.3 536.0h.6M350.3 547.6h.6" stroke="#2a1030" stroke-width="0.8" stroke-opacity="0.7200000000000001" fill="none"/><rect x="348" y="535.5" width="1.2" height="20.9" fill="#801838"/><rect x="347.55" y="536.5" width="0.45" height="18.9" fill="#f0a030" fill-opacity="0.8"/><line x1="351.7" y1="515.7" x2="351.7" y2="570" stroke="#4c5cc0" stroke-width="1.2"/><line x1="341.7" y1="538.3" x2="396.4" y2="538.3" stroke="#4c5cc0" stroke-width="1.2"/><text x="343.3" y="524.4" font-size="6.9" fill="#333" textLength="17.7" lengthAdjust="spacingAndGlyphs" stroke="#333" stroke-width="0.16">3.12%</text><text x="375.8" y="524.4" font-size="6.9" fill="#333" textLength="17.4" lengthAdjust="spacingAndGlyphs" stroke="#333" stroke-width="0.16">1.33%</text><text x="343.3" y="567.9" font-size="6.9" fill="#333" textLength="21.9" lengthAdjust="spacingAndGlyphs" stroke="#333" stroke-width="0.16">85.25%</text><text x="371.3" y="567.9" font-size="6.9" fill="#333" textLength="21.9" lengthAdjust="spacingAndGlyphs" stroke="#333" stroke-width="0.16">10.29%</text>
<rect x="401.9" y="516.5" width="53.8" height="53.5" fill="#fff" stroke="#555" stroke-width="0.9"/><path d="M399.1,569h2.8M402.9,570v2.8M400.4,565.2h1.5M406.72,570v1.5M400.4,562.98h1.5M408.96,570v1.5M400.4,561.4h1.5M410.55,570v1.5M400.4,560.18h1.5M411.78,570v1.5M400.4,559.18h1.5M412.78,570v1.5M400.4,558.33h1.5M413.63,570v1.5M400.4,557.6h1.5M414.37,570v1.5M400.4,556.95h1.5M415.02,570v1.5M399.1,556.38h2.8M415.6,570v2.8M400.4,552.57h1.5M419.42,570v1.5M400.4,550.35h1.5M421.66,570v1.5M400.4,548.77h1.5M423.25,570v1.5M400.4,547.55h1.5M424.48,570v1.5M400.4,546.55h1.5M425.48,570v1.5M400.4,545.71h1.5M426.33,570v1.5M400.4,544.97h1.5M427.07,570v1.5M400.4,544.33h1.5M427.72,570v1.5M399.1,543.75h2.8M428.3,570v2.8M400.4,539.95h1.5M432.12,570v1.5M400.4,537.73h1.5M434.36,570v1.5M400.4,536.15h1.5M435.95,570v1.5M400.4,534.93h1.5M437.18,570v1.5M400.4,533.93h1.5M438.18,570v1.5M400.4,533.08h1.5M439.03,570v1.5M400.4,532.35h1.5M439.77,570v1.5M400.4,531.7h1.5M440.42,570v1.5M399.1,531.12h2.8M441,570v2.8M400.4,527.32h1.5M444.82,570v1.5M400.4,525.1h1.5M447.06,570v1.5M400.4,523.52h1.5M448.65,570v1.5M400.4,522.3h1.5M449.88,570v1.5M400.4,521.3h1.5M450.88,570v1.5M400.4,520.46h1.5M451.73,570v1.5M400.4,519.72h1.5M452.47,570v1.5M400.4,519.08h1.5M453.12,570v1.5" stroke="#333" stroke-width="0.75" fill="none"/><path d="M431.9 536.2h.6M421.8 542.2h.6M415.2 540.0h.6M417.1 543.3h.6M422.1 551.1h.6M421.1 551.6h.6M422.3 544.5h.6M418.6 536.9h.6M411.1 543.1h.6M418.8 545.9h.6M421.5 534.9h.6M415.8 535.8h.6M425.1 542.8h.6M420.3 537.3h.6M412.7 539.5h.6M419.1 546.7h.6M411.4 545.8h.6M415.0 539.9h.6M417.8 540.5h.6M422.1 549.6h.6M421.5 539.8h.6M421.9 546.1h.6M424.3 545.4h.6M410.9 538.3h.6M417.4 549.9h.6M418.9 549.8h.6M421.2 535.3h.6M419.9 547.3h.6M421.8 533.3h.6M421.9 539.5h.6M408.2 539.6h.6M408.9 534.7h.6M427.4 560.5h.6M425.4 546.5h.6M429.9 545.9h.6M414.3 526.6h.6M424.5 527.9h.6M404.1 539.0h.6M420.0 537.5h.6M425.3 542.9h.6M420.8 546.6h.6M416.4 545.0h.6M432.3 537.0h.6M420.5 547.2h.6M416.7 543.2h.6M410.3 540.5h.6M419.9 551.3h.6M424.8 539.6h.6M413.6 556.3h.6M424.6 530.3h.6M417.8 537.3h.6M416.4 531.7h.6M417.4 540.0h.6M418.4 550.9h.6M421.0 535.1h.6M410.2 540.0h.6M426.0 550.2h.6M416.5 551.8h.6M422.1 539.5h.6M422.1 543.2h.6M413.6 540.7h.6M420.7 552.9h.6M414.1 545.4h.6M419.9 543.4h.6M413.1 552.6h.6M426.9 554.9h.6M422.4 554.1h.6M422.8 550.8h.6M418.0 545.4h.6M418.0 536.4h.6M417.4 535.9h.6M413.7 541.1h.6M416.5 558.3h.6M429.6 551.4h.6M424.2 537.8h.6M421.4 533.7h.6M416.4 540.4h.6M417.8 549.9h.6M415.5 560.8h.6M417.0 549.8h.6M411.1 550.2h.6M413.1 545.2h.6M419.8 549.6h.6M423.3 546.6h.6M419.1 557.6h.6M417.3 543.9h.6M417.3 544.8h.6M414.6 541.0h.6M422.7 539.8h.6M422.5 539.7h.6M427.8 542.9h.6M429.6 547.4h.6M419.2 550.6h.6M426.3 554.6h.6M427.6 550.2h.6M413.4 550.4h.6M419.4 546.7h.6M426.9 538.8h.6M427.3 560.8h.6M423.0 541.7h.6M427.5 545.2h.6M425.7 552.7h.6M411.5 546.1h.6M411.5 538.9h.6M423.3 535.4h.6M415.9 540.6h.6M421.6 546.3h.6M422.3 540.3h.6M415.7 546.7h.6M415.0 538.1h.6M423.7 538.2h.6M414.8 551.8h.6M419.6 528.1h.6M415.7 557.5h.6M435.5 541.7h.6M423.7 549.0h.6M421.6 530.9h.6M425.3 545.7h.6M418.5 532.4h.6M416.3 542.9h.6M418.4 545.3h.6M417.7 550.8h.6M423.2 535.6h.6M416.5 546.7h.6M416.7 553.6h.6M416.8 545.5h.6M423.1 535.8h.6M426.7 542.2h.6M415.8 538.8h.6M410.4 534.1h.6M428.0 542.8h.6M418.2 545.1h.6M422.9 538.1h.6M418.6 545.6h.6M425.3 545.5h.6M428.9 542.2h.6M417.9 533.9h.6M419.5 548.2h.6M418.4 542.5h.6M414.4 539.6h.6M417.3 543.1h.6M425.7 547.3h.6M424.8 551.9h.6M417.2 553.1h.6M420.0 534.4h.6M416.4 543.1h.6M411.3 559.8h.6M419.5 549.7h.6M413.1 544.4h.6M421.2 538.3h.6" stroke="#5a3a8a" stroke-width="0.7" stroke-opacity="0.7" fill="none"/><path d="M419.7 544.6h.6M420.6 533.7h.6M421.8 542.0h.6M410.8 524.7h.6M416.1 541.2h.6M436.6 533.7h.6M429.5 555.8h.6M420.9 546.8h.6M421.6 531.2h.6M428.9 541.6h.6M411.6 544.5h.6M408.1 530.4h.6M422.2 558.9h.6M417.6 541.6h.6M420.1 539.9h.6M418.6 548.1h.6M415.7 540.7h.6M418.1 545.0h.6M422.9 530.9h.6M408.6 540.1h.6M421.4 532.8h.6M427.1 557.3h.6M411.6 554.5h.6M404.5 554.0h.6M424.2 548.9h.6M412.7 534.1h.6M420.7 539.7h.6M422.8 529.9h.6M420.7 548.9h.6M411.6 538.8h.6M403.4 544.3h.6M408.2 543.4h.6M422.8 528.7h.6M416.9 557.1h.6M423.6 532.2h.6M435.0 539.0h.6M424.6 552.7h.6M414.6 549.8h.6M418.4 540.9h.6M418.1 553.6h.6M424.7 538.4h.6M423.4 554.6h.6M418.0 547.5h.6M420.1 530.5h.6M423.9 554.5h.6M409.2 533.5h.6M415.5 546.0h.6M423.6 541.9h.6M417.4 535.0h.6M419.3 537.0h.6M425.1 550.2h.6M403.9 547.0h.6M408.2 552.6h.6M408.7 555.3h.6M425.6 561.5h.6M419.6 544.3h.6M426.7 532.9h.6M416.7 541.0h.6M416.5 529.6h.6M403.6 528.5h.6" stroke="#8a70b0" stroke-width="0.7" stroke-opacity="0.6" fill="none"/><path d="M407.5,533.5 L410.2,534 L410.5,557.9 L407.5,558.4 Z" fill="#2a1030" fill-opacity="0.8"/><path d="M411.1 556.5h.6M410.3 537.1h.6M410.2 546.5h.6M411.0 557.2h.6M410.7 549.0h.6M410.9 557.0h.6M411.1 548.4h.6M410.8 543.5h.6M410.1 533.8h.6M410.3 541.9h.6M409.9 545.6h.6M410.2 542.2h.6M411.4 550.1h.6M410.6 554.6h.6M409.9 548.7h.6M410.3 539.2h.6M410.8 555.6h.6M409.9 539.6h.6M411.0 550.8h.6M410.6 539.9h.6M412.2 550.6h.6M411.0 557.9h.6M410.4 551.7h.6M409.9 552.1h.6M409.9 547.0h.6M410.7 548.1h.6M410.0 542.8h.6M410.1 541.3h.6M409.9 535.0h.6M410.3 536.4h.6M410.6 555.1h.6M410.5 542.3h.6M411.0 541.8h.6M410.7 547.7h.6M409.8 551.8h.6M410.9 548.9h.6M410.8 555.9h.6M411.2 552.1h.6M410.0 552.7h.6M411.0 553.0h.6M410.0 554.0h.6M411.7 547.0h.6M410.0 545.4h.6M410.0 551.6h.6M411.5 544.4h.6M410.8 539.2h.6M410.9 538.3h.6M410.8 534.4h.6M410.7 536.2h.6M410.7 558.1h.6M411.2 553.6h.6M410.7 539.9h.6M410.4 548.7h.6M409.9 544.3h.6M409.9 538.6h.6M410.3 543.1h.6M410.8 557.5h.6M409.8 555.1h.6M410.6 539.1h.6M411.5 539.5h.6M410.3 538.5h.6M410.4 535.6h.6M410.1 556.2h.6M410.4 534.5h.6M410.5 551.4h.6M410.0 533.6h.6M410.9 534.1h.6M411.0 543.7h.6M410.3 549.2h.6M410.8 535.5h.6M410.3 552.7h.6M410.4 536.8h.6M410.3 535.6h.6M410.2 539.7h.6" stroke="#2a1030" stroke-width="0.8" stroke-opacity="0.7200000000000001" fill="none"/><rect x="408.1" y="535.5" width="1.2" height="20.9" fill="#801838"/><rect x="407.65" y="536.5" width="0.45" height="18.9" fill="#f0a030" fill-opacity="0.8"/><line x1="412.1" y1="515.7" x2="412.1" y2="570" stroke="#4c5cc0" stroke-width="1.2"/><line x1="401.9" y1="538.3" x2="456.7" y2="538.3" stroke="#4c5cc0" stroke-width="1.2"/><text x="403.5" y="524.4" font-size="6.9" fill="#333" textLength="17.5" lengthAdjust="spacingAndGlyphs" stroke="#333" stroke-width="0.16">2.11%</text><text x="435.8" y="524.4" font-size="6.9" fill="#333" textLength="17" lengthAdjust="spacingAndGlyphs" stroke="#333" stroke-width="0.16">1.71%</text><text x="403.5" y="567.9" font-size="6.9" fill="#333" textLength="21.9" lengthAdjust="spacingAndGlyphs" stroke="#333" stroke-width="0.16">87.57%</text><text x="435.8" y="567.9" font-size="6.9" fill="#333" textLength="17" lengthAdjust="spacingAndGlyphs" stroke="#333" stroke-width="0.16">8.60%</text>
<path d="M273.1,545.3 L273.1,578.6 L427.3,578.6" fill="none" stroke="#222" stroke-width="1.1"/><polygon points="273.1,541.3 270.9,546.7 275.3,546.7" fill="#222"/><polygon points="431.3,578.6 425.9,576.4 425.9,580.8" fill="#222"/><text x="435.2" y="582.3" font-size="10.2" fill="#333" textLength="17.9" lengthAdjust="spacingAndGlyphs" stroke="none">CD27</text><text transform="translate(276.6,533.6) rotate(-90)" x="0" y="0" font-size="10.2" fill="#333" stroke="none" textLength="18.3" lengthAdjust="spacingAndGlyphs">CD56</text>
<rect x="0.6" y="0.6" width="518.8" height="589.8" fill="none" stroke="#0d0a0b" stroke-width="1.3"/>
</svg></body></html>
